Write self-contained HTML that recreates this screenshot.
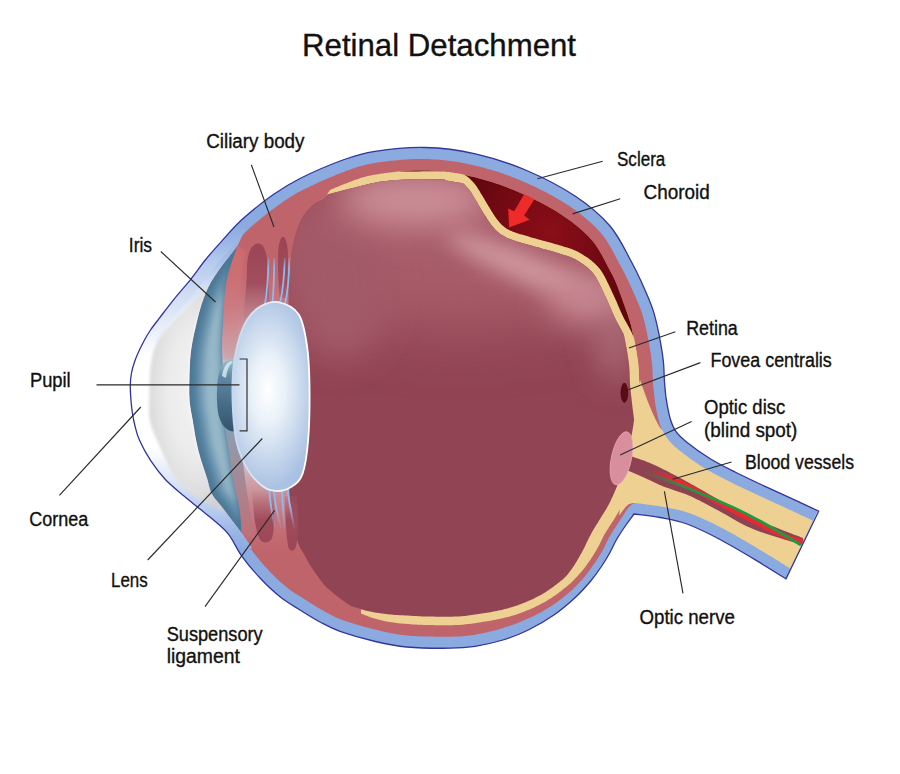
<!DOCTYPE html>
<html><head><meta charset="utf-8"><style>
html,body{margin:0;padding:0;background:#fff;}
svg{display:block;}
text{font-family:"Liberation Sans",sans-serif;fill:#111;stroke:#111;stroke-width:0.35px;}
</style></head><body>
<svg width="900" height="774" viewBox="0 0 900 774">
<defs><radialGradient id="gDet" gradientUnits="userSpaceOnUse" cx="550" cy="232" r="95"><stop offset="0" stop-color="#8a0e18"/><stop offset="0.5" stop-color="#760a14"/><stop offset="1" stop-color="#62060e"/></radialGradient><linearGradient id="gBand" gradientUnits="userSpaceOnUse" x1="0" y1="225" x2="0" y2="552"><stop offset="0" stop-color="#8aaae0"/><stop offset="0.05" stop-color="#9ab6e6"/><stop offset="0.12" stop-color="#b8ccee"/><stop offset="0.22" stop-color="#d2def4"/><stop offset="0.34" stop-color="#eef3fb"/><stop offset="0.4" stop-color="#ffffff"/><stop offset="0.68" stop-color="#ffffff"/><stop offset="0.8" stop-color="#d6e2f5"/><stop offset="0.88" stop-color="#b4c9ee"/><stop offset="0.95" stop-color="#96b3e4"/><stop offset="1" stop-color="#8aaae0"/></linearGradient><linearGradient id="gAq" gradientUnits="userSpaceOnUse" x1="149" y1="0" x2="192" y2="0"><stop offset="0" stop-color="#d2d2d2"/><stop offset="0.25" stop-color="#e2e2e2"/><stop offset="0.8" stop-color="#ededed"/><stop offset="1" stop-color="#f8f8f8"/></linearGradient><linearGradient id="gIris" gradientUnits="userSpaceOnUse" x1="189" y1="0" x2="236" y2="0"><stop offset="0" stop-color="#4c7a98"/><stop offset="0.3" stop-color="#6690ac"/><stop offset="0.7" stop-color="#a6c8d4"/><stop offset="1" stop-color="#88aabc"/></linearGradient><radialGradient id="gLens" gradientUnits="userSpaceOnUse" cx="268" cy="390" r="100" gradientTransform="translate(268 390) scale(0.5 1) translate(-268 -390)"><stop offset="0" stop-color="#ffffff"/><stop offset="0.35" stop-color="#e8f0f8"/><stop offset="1" stop-color="#a9c1e2"/></radialGradient><linearGradient id="gCilU" gradientUnits="userSpaceOnUse" x1="0" y1="250" x2="0" y2="360"><stop offset="0" stop-color="#c8686e" stop-opacity="0"/><stop offset="1" stop-color="#d4bcc4" stop-opacity="1"/></linearGradient><linearGradient id="gCilL" gradientUnits="userSpaceOnUse" x1="0" y1="470" x2="0" y2="560"><stop offset="0" stop-color="#d0b4bc" stop-opacity="1"/><stop offset="1" stop-color="#c8686e" stop-opacity="0"/></linearGradient><linearGradient id="gOpenU" gradientUnits="userSpaceOnUse" x1="0" y1="240" x2="0" y2="348"><stop offset="0" stop-color="#9a4454"/><stop offset="0.4" stop-color="#a24e5e"/><stop offset="0.75" stop-color="#c08c96" stop-opacity="0.8"/><stop offset="1" stop-color="#d0b0b8" stop-opacity="0"/></linearGradient><linearGradient id="gOpenL" gradientUnits="userSpaceOnUse" x1="0" y1="490" x2="0" y2="550"><stop offset="0" stop-color="#a85a68" stop-opacity="0"/><stop offset="0.5" stop-color="#a04c5c"/><stop offset="1" stop-color="#9c4656"/></linearGradient><linearGradient id="gPup" gradientUnits="userSpaceOnUse" x1="0" y1="359" x2="0" y2="432"><stop offset="0" stop-color="#9cc2d0"/><stop offset="0.25" stop-color="#5f88a2"/><stop offset="0.65" stop-color="#456a86"/><stop offset="1" stop-color="#34536c"/></linearGradient><linearGradient id="gStrip" gradientUnits="userSpaceOnUse" x1="0" y1="425" x2="0" y2="535"><stop offset="0" stop-color="#8aa0b4"/><stop offset="1" stop-color="#c07078"/></linearGradient><linearGradient id="gRed" gradientUnits="userSpaceOnUse" x1="648" y1="0" x2="680" y2="0"><stop offset="0" stop-color="#ee2630" stop-opacity="0"/><stop offset="1" stop-color="#ee2630"/></linearGradient><linearGradient id="gGrn" gradientUnits="userSpaceOnUse" x1="640" y1="0" x2="690" y2="0"><stop offset="0" stop-color="#2a9040" stop-opacity="0"/><stop offset="1" stop-color="#1e9a40"/></linearGradient><filter id="fb30" filterUnits="userSpaceOnUse" x="0" y="0" width="900" height="774"><feGaussianBlur stdDeviation="30"/></filter><filter id="fb16" filterUnits="userSpaceOnUse" x="0" y="0" width="900" height="774"><feGaussianBlur stdDeviation="16"/></filter><filter id="fb10" filterUnits="userSpaceOnUse" x="0" y="0" width="900" height="774"><feGaussianBlur stdDeviation="10"/></filter><clipPath id="cVit"><path d="M633.6,415.6 633.3,413.7 633.1,411.8 632.8,409.7 632.5,407.5 632.3,405.4 632.0,403.2 631.8,401.2 631.6,399.2 631.4,397.3 631.1,395.2 630.9,393.1 630.7,390.9 630.4,388.6 630.2,386.3 630.0,383.9 629.9,381.4 629.8,379.0 629.7,376.8 629.6,374.7 629.6,372.8 629.5,371.1 629.4,369.5 629.3,368.0 629.2,366.5 629.1,365.1 628.9,363.6 628.7,362.0 628.4,360.3 628.2,358.5 627.9,356.8 627.7,355.0 627.4,353.2 627.1,351.4 626.8,349.6 626.5,347.9 626.1,346.1 625.8,344.3 625.4,342.5 625.1,340.6 624.7,338.8 624.3,336.9 623.9,335.1 623.8,334.6 623.3,333.6 622.7,332.4 622.0,331.1 621.3,329.8 620.6,328.4 619.8,327.0 619.8,327.0 619.0,325.6 619.0,325.6 618.2,324.1 618.2,324.1 617.4,322.6 617.4,322.6 616.5,321.0 616.5,321.0 615.7,319.4 615.7,319.4 614.9,317.8 614.9,317.7 614.1,316.1 614.1,316.0 613.3,314.3 613.3,314.3 612.5,312.5 612.5,312.5 611.8,310.7 611.7,310.7 611.0,308.9 611.0,308.9 610.2,307.1 609.4,305.2 608.6,303.4 607.8,301.5 607.0,299.7 606.1,297.8 605.2,295.9 604.3,294.0 604.2,294.0 603.3,292.0 603.3,292.0 602.4,289.9 601.4,287.8 600.4,285.8 599.4,283.8 598.4,281.8 597.4,279.9 596.4,278.0 595.3,276.3 594.2,274.7 593.1,273.2 591.9,271.8 590.6,270.5 589.3,269.2 587.9,268.0 586.5,266.8 585.0,265.7 583.5,264.6 582.0,263.5 580.5,262.5 579.0,261.6 577.5,260.6 576.0,259.8 574.6,259.0 573.3,258.3 572.1,257.7 570.8,257.2 569.5,256.7 568.2,256.3 566.9,255.8 565.5,255.4 563.9,254.9 562.3,254.4 562.3,254.4 560.6,253.9 560.6,253.9 558.8,253.3 556.9,252.7 554.8,252.1 552.7,251.5 550.4,250.8 548.1,250.2 545.7,249.6 543.3,248.9 541.0,248.3 538.7,247.6 538.7,247.6 536.4,247.0 536.4,247.0 534.2,246.4 534.2,246.4 532.2,245.8 532.2,245.8 530.3,245.3 528.4,244.8 526.5,244.2 524.7,243.7 524.7,243.7 522.9,243.2 522.9,243.2 521.2,242.7 521.2,242.7 519.5,242.2 519.5,242.2 517.9,241.7 517.8,241.7 516.3,241.2 516.3,241.2 514.8,240.7 514.7,240.7 513.3,240.3 513.3,240.2 512.0,239.8 511.9,239.7 510.7,239.3 510.6,239.3 509.5,238.8 509.5,238.8 508.4,238.4 508.4,238.4 507.4,238.0 507.3,237.9 506.4,237.5 506.3,237.5 505.5,237.1 505.4,237.0 504.6,236.6 504.5,236.6 503.8,236.1 503.7,236.1 502.9,235.6 502.8,235.6 502.1,235.1 502.0,235.1 501.2,234.6 501.2,234.5 500.4,234.0 500.3,233.9 499.6,233.4 499.5,233.3 498.7,232.7 498.6,232.6 497.9,232.0 497.9,232.0 497.2,231.4 497.1,231.3 496.4,230.7 496.4,230.6 495.7,230.0 495.6,229.9 495.0,229.2 494.9,229.2 494.3,228.5 494.3,228.4 493.6,227.7 493.6,227.6 493.0,226.9 492.9,226.8 492.3,226.1 492.2,226.0 491.6,225.2 491.5,225.2 490.9,224.3 490.8,224.2 490.2,223.3 490.1,223.3 489.4,222.3 489.4,222.3 488.7,221.3 488.7,221.3 488.0,220.3 488.0,220.2 487.4,219.2 487.3,219.2 486.7,218.2 486.7,218.1 486.0,217.1 486.0,217.1 485.3,216.0 485.3,216.0 484.6,214.9 484.0,213.9 483.3,212.8 483.3,212.8 482.6,211.7 482.6,211.7 481.9,210.6 481.9,210.6 481.3,209.5 481.3,209.4 480.6,208.3 480.6,208.3 479.9,207.2 479.9,207.2 479.2,206.0 478.6,204.9 477.9,203.7 477.3,202.6 476.6,201.5 476.0,200.5 475.3,199.4 475.3,199.4 474.6,198.3 474.6,198.3 474.0,197.2 474.0,197.2 473.3,196.2 473.3,196.2 472.7,195.1 472.1,194.1 471.5,193.1 470.9,192.1 470.3,191.2 469.7,190.3 469.0,189.5 468.4,188.7 467.7,188.0 467.0,187.2 466.3,186.4 465.6,185.7 464.9,185.0 464.2,184.3 463.5,183.7 463.1,183.4 461.6,183.1 459.9,182.8 458.2,182.5 456.4,182.2 454.7,181.9 452.9,181.6 451.2,181.3 449.5,181.1 447.7,180.8 446.0,180.6 445.0,180.5 445.0,179.5 444.5,179.4 442.3,179.4 439.9,179.3 437.2,179.2 434.0,179.2 430.5,179.2 426.7,179.2 422.8,179.2 418.8,179.3 414.9,179.3 411.2,179.4 407.7,179.4 407.6,179.4 406.1,179.5 406.1,179.5 404.1,179.6 400.6,179.8 397.0,180.1 393.4,180.3 389.9,180.6 386.5,181.0 383.2,181.4 380.0,181.8 376.9,182.3 373.8,182.9 370.7,183.5 367.7,184.2 364.6,184.9 361.7,185.7 358.8,186.4 356.0,187.2 353.3,187.9 350.7,188.6 348.3,189.2 346.0,189.8 343.8,190.3 341.7,190.9 339.8,191.4 337.9,191.9 336.1,192.3 334.4,192.8 332.8,193.2 331.4,193.6 330.1,194.0 328.9,194.3 328.4,194.4 327.2,195.8 325.8,197.2 324.3,198.4 322.8,199.4 321.3,200.2 319.8,200.9 318.4,201.6 316.9,202.3 315.6,203.1 314.2,203.9 313.0,205.0 311.8,206.1 310.7,207.3 309.6,208.4 308.5,209.5 307.4,210.6 306.4,211.8 305.5,212.9 304.5,214.2 303.6,215.5 302.7,216.9 301.8,218.4 301.0,220.0 300.2,221.7 299.4,223.6 298.6,225.5 297.9,227.6 297.1,229.7 296.4,231.9 295.8,234.1 295.1,236.3 294.6,238.5 294.0,240.7 293.5,242.9 293.0,245.0 292.6,247.1 292.2,249.1 291.9,251.1 291.6,253.1 291.3,255.2 291.1,257.2 290.9,259.2 290.7,261.3 290.5,263.4 290.4,265.5 290.2,267.7 290.0,270.0 289.8,271.8 289.6,273.0 289.5,273.6 289.3,274.1 289.2,274.6 289.0,275.3 288.9,276.6 288.8,278.7 288.7,281.8 288.6,286.3 288.6,292.2 288.5,300.0 288.5,310.2 288.4,323.1 288.4,338.0 288.4,354.4 288.4,372.0 288.5,390.0 288.5,408.0 288.6,425.6 288.7,442.0 288.7,456.9 288.9,469.8 289.0,480.0 289.2,487.8 289.3,493.7 289.5,498.0 289.7,501.1 290.0,503.1 290.2,504.4 290.5,505.1 290.8,505.6 291.1,506.0 291.4,506.7 291.7,508.0 292.0,510.0 292.3,512.5 292.7,515.2 293.0,517.8 293.4,520.5 293.8,523.2 294.2,525.9 294.6,528.5 295.0,531.0 295.5,533.5 296.0,535.8 296.5,538.0 297.0,540.0 297.6,541.8 298.2,543.5 298.8,545.0 299.4,546.4 300.1,547.8 300.8,549.0 301.5,550.2 302.2,551.3 302.9,552.5 303.6,553.6 304.3,554.8 305.0,556.0 305.7,557.2 306.3,558.4 306.9,559.6 307.6,560.7 308.2,561.8 308.8,562.9 309.5,564.0 310.1,565.2 310.9,566.3 311.6,567.5 312.4,568.7 313.3,570.0 314.2,571.3 315.2,572.7 316.1,574.1 317.1,575.6 318.2,577.0 319.3,578.5 320.4,580.0 321.6,581.5 322.8,583.0 324.0,584.5 325.3,585.9 326.7,587.3 328.2,588.7 329.7,590.1 331.4,591.5 333.1,593.0 334.8,594.4 336.6,595.8 338.4,597.2 340.2,598.5 341.9,599.8 343.6,601.0 345.2,602.2 346.7,603.3 348.1,604.3 349.5,605.1 350.8,605.8 351.7,606.2 353.1,606.7 354.8,607.2 356.5,607.8 358.3,608.3 360.1,608.9 361.9,609.4 363.7,609.9 365.5,610.4 367.3,610.9 369.1,611.3 371.0,611.7 372.8,612.1 374.6,612.4 376.5,612.7 378.3,613.0 380.1,613.3 382.0,613.5 383.9,613.8 385.8,614.0 387.7,614.2 389.5,614.4 391.3,614.6 393.1,614.7 394.8,614.9 396.4,615.0 398.1,615.1 399.7,615.2 401.3,615.3 403.0,615.3 404.6,615.4 406.3,615.5 407.9,615.6 409.6,615.7 411.3,615.8 413.0,615.9 414.7,616.0 416.5,616.1 418.3,616.2 420.2,616.3 422.0,616.4 423.9,616.4 425.7,616.5 427.6,616.5 429.5,616.6 431.4,616.6 433.3,616.6 435.2,616.7 437.1,616.7 439.1,616.7 441.0,616.7 442.9,616.7 444.8,616.7 446.7,616.7 448.6,616.7 450.4,616.7 452.3,616.7 454.0,616.6 455.8,616.6 457.4,616.5 459.0,616.4 460.5,616.3 462.0,616.2 463.5,616.1 465.0,615.9 466.6,615.7 468.2,615.5 469.9,615.3 471.6,615.0 473.3,614.8 475.0,614.6 476.7,614.3 478.4,614.1 480.1,613.8 481.8,613.6 483.5,613.3 485.2,613.0 486.9,612.8 488.6,612.5 490.2,612.2 491.8,611.9 493.5,611.6 495.1,611.3 496.8,611.0 498.4,610.6 500.1,610.2 501.7,609.9 503.3,609.5 504.9,609.1 506.5,608.7 508.2,608.2 509.8,607.8 511.4,607.3 513.0,606.8 514.6,606.3 516.2,605.8 517.9,605.2 519.5,604.6 521.1,604.0 522.8,603.3 524.4,602.7 526.0,602.0 527.7,601.3 529.3,600.6 530.9,599.9 532.5,599.2 534.1,598.4 535.7,597.6 537.2,596.8 538.8,596.0 540.3,595.2 541.7,594.4 543.2,593.6 544.6,592.7 546.1,591.8 547.6,590.8 549.0,589.8 550.5,588.8 552.0,587.8 553.4,586.7 554.9,585.6 556.4,584.5 557.8,583.3 559.3,582.2 560.7,581.1 562.0,580.0 563.3,578.9 564.5,577.7 565.8,576.6 565.9,576.5 566.3,576.0 567.6,574.5 568.7,573.0 569.9,571.5 571.0,570.0 572.1,568.4 573.1,566.9 574.1,565.4 575.0,563.9 576.0,562.4 576.9,560.9 577.8,559.4 578.6,557.9 579.5,556.5 580.3,555.0 581.2,553.5 582.0,552.0 582.8,550.5 583.6,549.0 584.4,547.4 585.1,545.9 585.9,544.3 586.6,542.8 587.4,541.3 588.1,539.8 588.8,538.3 589.5,536.8 590.3,535.4 591.0,534.0 591.8,532.6 592.5,531.3 593.2,530.0 594.0,528.8 594.8,527.5 595.5,526.3 596.2,525.1 597.0,523.9 597.8,522.7 598.5,521.5 599.2,520.2 600.0,519.0 600.8,517.8 601.5,516.6 602.2,515.4 603.0,514.2 603.8,513.0 604.5,511.8 605.2,510.6 606.0,509.4 606.8,508.1 607.5,506.8 608.2,505.4 609.0,504.0 609.8,502.5 610.5,500.9 611.3,499.3 612.1,497.6 612.9,495.9 613.6,494.2 614.4,492.4 615.1,490.7 615.9,489.0 616.6,487.3 617.3,485.6 618.0,484.0 618.7,482.5 619.3,481.1 619.9,479.7 620.5,478.4 621.1,477.1 621.6,475.8 622.2,474.5 622.7,473.0 623.3,471.5 623.9,469.8 624.4,468.0 625.0,466.0 625.6,463.7 626.2,461.3 626.8,458.6 627.4,455.7 628.1,452.8 628.7,449.8 629.3,446.8 629.9,443.8 630.5,440.9 631.0,438.1 631.5,435.4 632.0,433.0 632.4,430.8 632.8,428.7 633.1,426.7 633.4,424.9 633.6,423.1 633.9,421.3 634.1,419.9 634.0,419.0 633.8,417.3Z"/></clipPath><linearGradient id="gBand2" gradientUnits="userSpaceOnUse" x1="0" y1="225" x2="0" y2="552"><stop offset="0" stop-color="#8aaae0"/><stop offset="0.1" stop-color="#a4bde9"/><stop offset="0.2" stop-color="#d8e4f6"/><stop offset="0.3" stop-color="#ffffff"/><stop offset="0.72" stop-color="#ffffff"/><stop offset="0.78" stop-color="#dce6f6"/><stop offset="0.84" stop-color="#c4d4f0"/><stop offset="0.9" stop-color="#a4bce9"/><stop offset="1" stop-color="#8aaae0"/></linearGradient><filter id="fb1" filterUnits="userSpaceOnUse" x="0" y="0" width="900" height="774"><feGaussianBlur stdDeviation="1.6"/></filter><filter id="fb4" filterUnits="userSpaceOnUse" x="0" y="0" width="900" height="774"><feGaussianBlur stdDeviation="4"/></filter><clipPath id="cAq"><path d="M204.4,290.0 203.6,290.8 202.7,291.7 201.7,292.7 200.6,293.8 199.4,295.0 198.1,296.3 196.8,297.7 195.4,299.0 194.0,300.5 192.6,301.9 191.2,303.3 189.7,304.8 188.1,306.3 186.5,307.9 184.7,309.6 182.9,311.3 181.1,313.1 179.3,314.8 177.5,316.6 175.8,318.3 174.1,320.1 172.5,321.8 171.0,323.4 169.6,325.0 168.2,326.5 166.9,328.0 165.6,329.5 164.3,331.0 163.1,332.5 162.0,334.0 160.9,335.5 159.8,337.1 158.8,338.6 157.9,340.3 157.0,342.0 156.2,343.7 155.5,345.5 154.8,347.2 154.2,349.0 153.7,350.8 153.2,352.6 152.7,354.5 152.3,356.5 151.9,358.6 151.6,360.7 151.2,362.9 150.9,365.3 150.6,367.8 150.3,370.6 150.1,373.5 149.9,376.5 149.8,379.6 149.7,382.8 149.6,385.9 149.5,389.0 149.4,392.0 149.4,394.9 149.3,397.6 149.3,400.0 149.3,402.2 149.2,404.3 149.2,406.3 149.1,408.1 149.1,409.8 149.1,411.5 149.2,413.1 149.2,414.7 149.3,416.2 149.5,417.8 149.7,419.4 150.0,421.0 150.3,422.6 150.7,424.1 151.1,425.6 151.6,427.0 152.1,428.5 152.6,429.9 153.2,431.3 153.8,432.9 154.5,434.5 155.2,436.2 156.0,438.0 156.9,440.0 157.8,442.2 158.8,444.6 159.8,447.1 160.9,449.8 162.0,452.5 163.2,455.3 164.5,458.1 165.8,460.8 167.1,463.6 168.4,466.2 169.9,468.7 171.3,471.0 172.8,473.2 174.4,475.4 176.0,477.5 177.7,479.6 179.5,481.6 181.3,483.5 183.1,485.4 184.9,487.2 186.7,489.0 188.5,490.6 190.3,492.2 192.0,493.7 193.8,495.1 195.6,496.4 197.4,497.7 199.2,498.8 201.1,499.9 202.9,500.9 204.7,501.8 206.5,502.8 208.2,503.6 209.8,504.4 211.3,505.2 212.7,506.0 214.0,506.7 215.3,507.4 216.5,508.1 217.6,508.7 218.6,509.3 219.6,509.8 220.6,510.2 221.4,510.7 222.2,511.1 222.9,511.4 223.5,511.7 224.0,512.0 225.9,512.0 225.8,511.8 224.3,509.9 223.0,508.2 221.8,506.7 220.7,505.2 219.6,503.9 218.5,502.7 217.6,501.6 216.7,500.5 215.8,499.5 214.9,498.5 214.2,497.4 213.4,496.3 212.7,495.2 212.0,494.0 211.4,492.7 210.8,491.5 210.4,490.3 210.0,489.0 209.6,487.8 209.3,486.5 208.9,485.2 208.6,483.8 208.3,482.5 207.9,481.0 207.5,479.5 207.0,478.0 206.5,476.4 205.9,474.6 205.3,472.8 204.7,470.9 204.0,469.0 203.4,467.0 202.7,465.0 202.1,463.1 201.5,461.2 200.9,459.4 200.4,457.6 199.9,456.0 199.5,454.5 199.1,453.0 198.7,451.7 198.4,450.4 198.1,449.1 197.8,447.9 197.5,446.6 197.2,445.4 196.9,444.1 196.7,442.8 196.4,441.5 196.1,440.0 195.8,438.5 195.5,436.9 195.2,435.3 194.9,433.6 194.6,432.0 194.4,430.2 194.1,428.5 193.8,426.8 193.5,425.1 193.2,423.4 193.0,421.7 192.7,420.0 192.4,418.4 192.1,416.7 191.8,415.2 191.5,413.6 191.2,412.0 190.9,410.4 190.7,408.8 190.4,407.2 190.2,405.5 189.9,403.7 189.7,401.9 189.6,400.0 189.5,398.0 189.4,395.9 189.3,393.7 189.3,391.4 189.3,389.1 189.3,386.7 189.3,384.3 189.4,382.0 189.4,379.6 189.5,377.4 189.5,375.1 189.6,373.0 189.7,370.9 189.7,368.9 189.8,366.9 189.9,365.0 190.0,363.1 190.1,361.2 190.2,359.3 190.4,357.4 190.6,355.5 190.7,353.6 191.0,351.7 191.2,349.8 191.5,347.9 191.8,345.9 192.1,344.0 192.5,342.0 192.8,340.1 193.2,338.2 193.6,336.2 194.0,334.3 194.5,332.3 194.9,330.4 195.4,328.4 195.8,326.5 196.3,324.5 196.7,322.6 197.2,320.6 197.7,318.6 198.2,316.6 198.7,314.6 199.2,312.6 199.8,310.7 200.3,308.8 200.9,306.9 201.4,305.1 202.0,303.3 202.6,301.6 203.2,299.9 203.7,298.3 204.3,296.8 204.9,295.2 205.5,293.7 206.2,292.2 206.8,290.7 207.5,289.3 205.0,289.3Z"/></clipPath><radialGradient id="gAqR" gradientUnits="userSpaceOnUse" cx="196" cy="392" r="118" gradientTransform="translate(196 392) scale(0.44 1) translate(-196 -392)"><stop offset="0" stop-color="#f4f4f4"/><stop offset="0.55" stop-color="#ebebeb"/><stop offset="0.85" stop-color="#dedede"/><stop offset="1" stop-color="#d2d2d2"/></radialGradient><linearGradient id="gCoral" gradientUnits="userSpaceOnUse" x1="0" y1="250" x2="0" y2="360"><stop offset="0" stop-color="#d67070" stop-opacity="0.6"/><stop offset="0.55" stop-color="#d07a7e" stop-opacity="0.45"/><stop offset="1" stop-color="#c8a4ac" stop-opacity="0.9"/></linearGradient><linearGradient id="gLigU" gradientUnits="userSpaceOnUse" x1="0" y1="254" x2="0" y2="268"><stop offset="0" stop-color="#8cbcf2" stop-opacity="0"/><stop offset="1" stop-color="#8cbcf2"/></linearGradient><linearGradient id="gLigL" gradientUnits="userSpaceOnUse" x1="0" y1="505" x2="0" y2="530"><stop offset="0" stop-color="#8cbcf2"/><stop offset="1" stop-color="#8cbcf2" stop-opacity="0"/></linearGradient><clipPath id="cIris"><path d="M236.6,247.0 235.7,248.2 234.6,249.6 233.3,251.2 231.9,253.0 230.5,254.8 229.0,256.7 227.5,258.7 226.0,260.6 224.6,262.5 223.2,264.3 222.0,266.0 220.9,267.6 219.7,269.2 218.6,270.8 217.5,272.3 216.5,273.9 215.4,275.4 214.4,277.0 213.4,278.5 212.5,280.1 211.5,281.6 210.7,283.1 209.8,284.7 209.0,286.2 208.2,287.8 207.5,289.2 206.8,290.7 206.2,292.2 205.5,293.7 204.9,295.2 204.3,296.8 203.7,298.3 203.2,299.9 202.6,301.6 202.0,303.3 201.4,305.1 200.9,306.9 200.3,308.8 199.8,310.7 199.2,312.6 198.7,314.6 198.2,316.6 197.7,318.6 197.2,320.6 196.7,322.6 196.3,324.5 195.8,326.5 195.4,328.4 194.9,330.4 194.5,332.3 194.0,334.3 193.6,336.2 193.2,338.2 192.8,340.1 192.5,342.0 192.1,344.0 191.8,345.9 191.5,347.9 191.2,349.8 191.0,351.7 190.7,353.6 190.6,355.5 190.4,357.4 190.2,359.3 190.1,361.2 190.0,363.1 189.9,365.0 189.8,366.9 189.7,368.9 189.7,370.9 189.6,373.0 189.5,375.1 189.5,377.4 189.4,379.6 189.4,382.0 189.3,384.3 189.3,386.7 189.3,389.1 189.3,391.4 189.3,393.7 189.4,395.9 189.5,398.0 189.6,400.0 189.7,401.9 189.9,403.7 190.2,405.5 190.4,407.2 190.7,408.8 190.9,410.4 191.2,412.0 191.5,413.6 191.8,415.2 192.1,416.7 192.4,418.4 192.7,420.0 193.0,421.7 193.2,423.4 193.5,425.1 193.8,426.8 194.1,428.5 194.4,430.2 194.6,432.0 194.9,433.6 195.2,435.3 195.5,436.9 195.8,438.5 196.1,440.0 196.4,441.5 196.7,442.8 196.9,444.1 197.2,445.4 197.5,446.6 197.8,447.9 198.1,449.1 198.4,450.4 198.7,451.7 199.1,453.0 199.5,454.5 199.9,456.0 200.4,457.6 200.9,459.4 201.5,461.2 202.1,463.1 202.7,465.0 203.4,467.0 204.0,469.0 204.7,470.9 205.3,472.8 205.9,474.6 206.5,476.4 207.0,478.0 207.5,479.5 207.9,481.0 208.3,482.5 208.6,483.8 208.9,485.2 209.3,486.5 209.6,487.8 210.0,489.0 210.4,490.3 210.8,491.5 211.4,492.7 212.0,494.0 212.7,495.2 213.4,496.3 214.2,497.4 214.9,498.5 215.8,499.5 216.7,500.5 217.6,501.6 218.5,502.7 219.6,503.9 220.7,505.2 221.8,506.7 223.0,508.2 224.3,510.0 225.9,512.0 227.6,514.2 229.3,516.6 231.2,519.0 233.0,521.5 234.8,523.9 236.5,526.2 238.1,528.3 239.5,530.2 240.7,531.8 241.6,533.0 241.5,531.8 241.4,530.3 241.3,528.6 241.2,526.6 241.1,524.5 241.0,522.3 240.8,519.9 240.7,517.5 240.4,515.1 240.2,512.7 239.9,510.4 239.6,508.2 239.2,506.1 238.8,504.0 238.3,502.0 237.8,499.9 237.3,497.9 236.8,495.8 236.2,493.6 235.6,491.4 235.0,489.1 234.5,486.6 233.9,484.1 233.4,481.3 232.9,478.3 232.3,475.0 231.8,471.5 231.2,467.8 230.7,464.0 230.1,460.2 229.6,456.4 229.0,452.7 228.5,449.2 228.1,445.8 227.6,442.7 227.2,440.0 226.8,437.6 226.5,435.6 226.1,433.9 225.8,432.3 225.5,430.9 225.3,429.6 225.0,428.3 224.8,427.0 224.6,425.6 224.4,424.0 224.2,422.1 224.0,420.0 223.8,417.6 223.7,414.9 223.6,412.1 223.5,409.1 223.4,406.0 223.3,402.8 223.3,399.6 223.2,396.5 223.2,393.4 223.1,390.4 223.1,387.6 223.0,385.0 222.9,382.5 222.9,380.2 222.8,377.9 222.8,375.7 222.7,373.5 222.7,371.4 222.7,369.4 222.6,367.4 222.6,365.5 222.6,363.6 222.5,361.8 222.5,360.0 222.5,358.3 222.4,356.7 222.4,355.3 222.3,354.0 222.3,352.7 222.2,351.4 222.2,350.1 222.2,348.7 222.1,347.2 222.1,345.7 222.2,343.9 222.2,342.0 222.3,339.9 222.3,337.6 222.4,335.2 222.5,332.6 222.6,330.0 222.7,327.3 222.9,324.6 223.0,321.8 223.2,319.1 223.3,316.3 223.5,313.6 223.7,311.0 223.9,308.4 224.0,305.9 224.2,303.3 224.3,300.8 224.5,298.2 224.7,295.7 224.9,293.1 225.2,290.6 225.5,288.0 225.8,285.3 226.3,282.7 226.8,280.0 227.5,277.2 228.3,274.1 229.2,270.9 230.2,267.6 231.2,264.3 232.3,261.1 233.4,257.9 234.4,254.9 235.3,252.2 236.2,249.7 236.9,247.7 237.4,246.0Z"/></clipPath><filter id="fb3" filterUnits="userSpaceOnUse" x="0" y="0" width="900" height="774"><feGaussianBlur stdDeviation="3"/></filter><linearGradient id="gLensS" gradientUnits="userSpaceOnUse" x1="232" y1="0" x2="300" y2="0"><stop offset="0" stop-color="#c8d8ee"/><stop offset="1" stop-color="#ffffff"/></linearGradient></defs>
<path d="M634.0,514.0 634.9,514.1 636.0,514.2 637.3,514.4 638.6,514.6 640.2,514.7 641.8,514.9 643.5,515.1 645.3,515.3 647.2,515.6 649.0,515.8 650.9,516.1 652.8,516.3 654.7,516.6 656.5,516.9 658.3,517.2 660.0,517.5 661.6,517.8 663.3,518.1 664.9,518.4 666.5,518.7 668.2,519.0 669.8,519.3 671.4,519.7 673.1,520.0 674.7,520.4 676.4,520.8 678.1,521.2 679.8,521.7 681.6,522.2 683.3,522.7 685.1,523.3 687.0,524.0 688.9,524.7 690.8,525.5 692.8,526.3 694.8,527.1 696.8,528.0 698.8,528.9 700.8,529.9 702.9,530.9 705.0,531.9 707.1,532.9 709.2,534.0 711.4,535.0 713.5,536.1 715.7,537.2 717.8,538.4 720.0,539.5 722.2,540.7 724.4,541.9 726.7,543.1 729.0,544.4 731.3,545.7 733.6,547.0 736.0,548.4 738.3,549.8 740.6,551.1 743.0,552.5 745.3,553.9 747.5,555.2 749.8,556.6 752.0,557.9 754.1,559.1 756.2,560.4 758.3,561.7 760.4,563.0 762.6,564.3 764.8,565.6 767.0,567.0 769.2,568.3 771.3,569.7 773.4,571.0 775.4,572.2 777.3,573.4 779.1,574.6 780.8,575.6 782.3,576.6 783.7,577.5 785.0,578.3 786.0,578.9 817.7,510.8 816.6,510.3 815.4,509.7 814.0,509.1 812.6,508.4 811.0,507.6 809.3,506.8 807.5,506.0 805.7,505.1 803.8,504.2 801.9,503.3 800.0,502.4 798.1,501.5 796.2,500.6 794.3,499.8 792.4,498.9 790.5,498.0 788.6,497.1 786.6,496.2 784.6,495.3 782.5,494.3 780.4,493.4 778.3,492.4 776.1,491.4 774.0,490.5 771.9,489.5 769.8,488.5 767.7,487.6 765.7,486.7 763.7,485.7 761.8,484.9 760.0,484.0 758.2,483.2 756.5,482.4 754.9,481.6 753.2,480.8 751.6,480.1 750.1,479.4 748.6,478.6 747.0,477.9 745.6,477.2 744.1,476.5 742.6,475.8 741.1,475.0 739.6,474.3 738.1,473.6 736.6,472.8 735.0,472.0 733.4,471.2 731.8,470.4 730.3,469.6 728.7,468.8 727.1,468.0 725.5,467.2 723.9,466.4 722.3,465.5 720.7,464.7 719.1,463.8 717.5,463.0 716.0,462.1 714.4,461.2 712.9,460.3 711.3,459.4 709.8,458.5 708.3,457.5 706.7,456.5 705.1,455.5 703.5,454.5 702.0,453.4 700.4,452.3 698.8,451.2 697.2,450.1 695.7,449.0 694.2,447.9 692.8,446.8 691.4,445.8 690.1,444.8 688.8,443.8 687.6,442.9 686.5,442.0 685.5,441.2 684.5,440.4 683.6,439.6 682.8,438.9 682.0,438.3 681.3,437.6 680.6,437.0 680.0,436.3 679.4,435.7 678.8,435.1 678.3,434.5 677.7,433.9 677.2,433.2 676.7,432.6 676.2,431.9 675.7,431.2 675.2,430.5 674.7,429.8 674.3,429.1 673.9,428.4 673.5,427.7 673.2,426.9 672.8,426.2 672.5,425.5 672.2,424.7 671.9,424.0 671.6,423.2 671.3,422.4 671.1,421.5 670.8,420.7 670.5,419.7 670.2,418.8 669.9,417.8 669.6,416.8 669.4,415.7 669.1,414.6 668.8,413.4 668.6,412.3 668.3,411.1 668.1,409.9 667.8,408.6 667.6,407.4 667.4,406.2 667.2,405.0 667.0,403.8 666.8,402.5 666.6,401.4 666.4,400.2 666.2,399.1 666.1,397.9 665.9,396.8 665.8,395.7 665.6,394.6 665.5,393.5 665.4,392.4 665.3,391.3 665.2,390.1 665.1,389.0 665.0,387.9 664.9,386.8 664.8,385.6 664.7,384.4 664.6,383.2 664.5,382.0 664.4,380.8 664.3,379.5 664.3,378.3 664.2,377.0 664.2,375.8 664.1,374.5 664.1,373.2 664.0,371.9 664.0,370.6 663.9,369.3 663.9,367.9 663.8,366.5 663.7,365.1 663.6,363.7 663.5,362.3 663.3,360.8 663.1,359.3 662.9,357.7 662.7,356.1 662.5,354.5 662.2,352.9 662.0,351.2 661.7,349.5 661.5,347.8 661.2,346.1 660.9,344.4 660.6,342.7 660.3,341.0 660.0,339.3 659.6,337.7 659.3,336.0 659.0,334.4 658.7,332.8 658.4,331.2 658.0,329.7 657.7,328.1 657.4,326.6 657.1,325.0 656.7,323.5 656.4,322.0 656.0,320.5 655.6,318.9 655.2,317.4 654.8,315.9 654.4,314.3 653.9,312.8 653.4,311.2 652.9,309.6 652.4,308.0 651.8,306.4 651.2,304.7 650.5,303.0 649.9,301.4 649.2,299.7 648.5,298.0 647.8,296.3 647.0,294.6 646.3,292.9 645.6,291.3 644.8,289.6 644.1,288.0 643.4,286.4 642.7,284.8 642.0,283.3 641.3,281.8 640.7,280.4 640.1,279.1 639.5,277.7 638.9,276.5 638.3,275.2 637.7,274.0 637.1,272.7 636.5,271.4 635.9,270.1 635.2,268.8 634.5,267.4 633.7,265.9 632.9,264.4 632.0,262.7 631.0,261.0 630.0,259.2 628.9,257.2 627.9,255.2 626.8,253.0 625.6,250.8 624.5,248.6 623.3,246.3 622.0,244.0 620.7,241.7 619.3,239.3 617.9,237.0 616.5,234.7 614.9,232.4 613.4,230.2 611.7,228.1 610.0,226.0 608.2,224.0 606.4,222.0 604.5,220.0 602.6,218.1 600.6,216.1 598.5,214.2 596.4,212.3 594.3,210.4 592.1,208.6 589.8,206.7 587.5,204.9 585.1,203.1 582.7,201.3 580.2,199.5 577.6,197.8 575.0,196.0 572.3,194.2 569.5,192.5 566.6,190.7 563.7,189.0 560.6,187.3 557.5,185.5 554.4,183.8 551.2,182.1 548.0,180.5 544.7,178.9 541.5,177.3 538.3,175.7 535.0,174.2 531.8,172.8 528.6,171.3 525.5,170.0 522.4,168.7 519.3,167.4 516.1,166.2 513.0,165.0 509.9,163.9 506.8,162.8 503.6,161.7 500.5,160.7 497.4,159.7 494.2,158.7 491.1,157.8 487.9,156.9 484.8,156.1 481.7,155.3 478.5,154.5 475.4,153.8 472.3,153.1 469.1,152.5 466.0,151.9 462.9,151.3 459.7,150.8 456.6,150.3 453.4,149.8 450.3,149.4 447.2,149.0 444.0,148.7 440.9,148.4 437.8,148.1 434.6,147.9 431.5,147.7 428.3,147.6 425.2,147.5 422.0,147.5 418.8,147.5 415.5,147.5 412.2,147.6 408.9,147.8 405.6,148.0 402.3,148.2 399.0,148.5 395.7,148.8 392.5,149.1 389.4,149.4 386.3,149.8 383.3,150.1 380.4,150.5 377.6,150.9 375.0,151.3 372.5,151.7 370.2,152.1 368.0,152.5 365.9,152.9 364.0,153.3 362.1,153.8 360.2,154.2 358.4,154.7 356.7,155.3 354.9,155.8 353.0,156.4 351.2,157.0 349.2,157.7 347.2,158.4 345.1,159.2 342.8,160.0 340.4,160.9 337.8,161.9 335.2,162.9 332.5,164.0 329.7,165.1 326.8,166.3 324.0,167.5 321.1,168.8 318.2,170.0 315.4,171.3 312.6,172.6 309.8,173.8 307.2,175.0 304.7,176.2 302.3,177.4 300.0,178.5 297.9,179.6 295.9,180.6 294.0,181.6 292.2,182.5 290.5,183.5 288.9,184.4 287.3,185.3 285.8,186.3 284.2,187.2 282.7,188.2 281.2,189.2 279.7,190.2 278.1,191.2 276.5,192.4 274.8,193.6 273.0,194.8 271.2,196.1 269.3,197.5 267.3,198.9 265.3,200.4 263.3,201.9 261.3,203.5 259.3,205.1 257.3,206.7 255.2,208.3 253.2,209.9 251.2,211.6 249.3,213.2 247.4,214.8 245.5,216.4 243.7,218.0 242.0,219.6 240.3,221.2 238.7,222.8 237.0,224.4 235.4,226.0 233.8,227.7 232.3,229.3 230.8,230.9 229.3,232.6 227.9,234.2 226.4,235.8 225.1,237.3 223.7,238.8 222.4,240.3 221.2,241.7 220.0,243.1 218.8,244.4 217.7,245.6 216.7,246.8 215.7,247.9 214.8,248.9 213.9,249.9 213.0,250.8 212.2,251.7 211.5,252.6 210.7,253.5 210.0,254.3 209.2,255.2 208.5,256.1 207.7,257.0 206.9,258.0 206.1,259.0 205.3,260.0 204.4,261.1 203.6,262.2 202.7,263.3 201.9,264.4 201.1,265.5 200.2,266.7 199.4,267.8 198.5,269.0 197.7,270.2 196.8,271.4 195.9,272.6 195.0,273.8 194.1,275.0 193.2,276.2 192.3,277.4 191.3,278.6 190.3,279.8 189.3,281.0 188.3,282.3 187.2,283.5 186.2,284.8 185.1,286.1 184.0,287.3 182.9,288.6 181.8,289.9 180.7,291.2 179.6,292.4 178.5,293.7 177.4,295.0 176.4,296.3 175.3,297.5 174.3,298.8 173.3,300.1 172.2,301.4 171.2,302.7 170.2,304.0 169.1,305.4 168.1,306.7 167.0,308.1 166.0,309.4 165.0,310.7 164.0,312.0 163.1,313.3 162.1,314.5 161.2,315.7 160.4,316.8 159.6,317.9 158.8,318.9 158.1,319.8 157.4,320.7 156.8,321.6 156.2,322.3 155.6,323.1 155.1,323.8 154.5,324.4 154.1,325.1 153.6,325.7 153.1,326.3 152.7,326.9 152.2,327.5 151.8,328.1 151.4,328.7 150.9,329.4 150.5,330.0 150.1,330.7 149.6,331.3 149.2,331.9 148.8,332.5 148.5,333.1 148.1,333.7 147.7,334.3 147.4,334.9 147.0,335.5 146.6,336.2 146.3,336.8 145.9,337.4 145.6,338.0 145.2,338.7 144.9,339.3 144.5,340.0 144.1,340.7 143.7,341.4 143.3,342.2 143.0,342.9 142.6,343.7 142.2,344.4 141.8,345.2 141.4,346.0 141.0,346.8 140.6,347.6 140.2,348.3 139.9,349.1 139.5,349.8 139.2,350.6 138.8,351.3 138.5,352.0 138.2,352.7 137.9,353.3 137.6,354.0 137.3,354.6 137.1,355.2 136.8,355.9 136.6,356.5 136.3,357.1 136.1,357.7 135.8,358.3 135.6,358.9 135.4,359.5 135.2,360.1 134.9,360.7 134.7,361.4 134.5,362.0 134.3,362.7 134.1,363.3 133.8,364.0 133.6,364.7 133.4,365.3 133.2,366.0 133.0,366.7 132.8,367.4 132.6,368.1 132.4,368.8 132.3,369.5 132.1,370.2 131.9,370.9 131.8,371.6 131.6,372.3 131.5,373.0 131.4,373.7 131.3,374.4 131.1,375.2 131.0,375.9 130.9,376.6 130.8,377.4 130.8,378.1 130.7,378.9 130.6,379.6 130.5,380.4 130.5,381.1 130.4,381.9 130.4,382.7 130.4,383.4 130.3,384.2 130.3,385.0 130.3,385.8 130.3,386.6 130.3,387.4 130.3,388.1 130.3,388.9 130.3,389.7 130.3,390.5 130.4,391.4 130.4,392.2 130.5,393.0 130.5,393.8 130.6,394.6 130.6,395.5 130.7,396.3 130.7,397.1 130.8,398.0 130.9,398.9 130.9,399.7 131.0,400.6 131.1,401.5 131.2,402.4 131.2,403.3 131.3,404.2 131.4,405.2 131.5,406.1 131.6,407.0 131.7,407.9 131.8,408.8 131.9,409.7 132.0,410.6 132.2,411.5 132.3,412.4 132.4,413.3 132.6,414.1 132.7,415.0 132.9,415.8 133.0,416.7 133.1,417.5 133.3,418.4 133.5,419.2 133.6,420.1 133.8,420.9 134.0,421.7 134.2,422.6 134.4,423.4 134.6,424.3 134.8,425.1 135.0,426.0 135.2,426.9 135.4,427.7 135.6,428.5 135.8,429.3 136.0,430.1 136.2,430.9 136.4,431.7 136.7,432.6 136.9,433.4 137.2,434.2 137.5,435.1 137.8,436.0 138.1,437.0 138.5,437.9 138.9,438.9 139.4,440.0 139.9,441.1 140.5,442.3 141.0,443.5 141.7,444.8 142.3,446.0 143.0,447.4 143.7,448.7 144.4,450.1 145.2,451.4 145.9,452.8 146.7,454.2 147.5,455.5 148.3,456.9 149.1,458.2 149.9,459.5 150.7,460.7 151.5,461.9 152.3,463.1 153.1,464.3 154.0,465.5 154.8,466.7 155.7,467.9 156.6,469.1 157.4,470.3 158.3,471.4 159.3,472.6 160.2,473.7 161.1,474.8 162.1,476.0 163.1,477.1 164.1,478.2 165.1,479.3 166.2,480.4 167.2,481.5 168.4,482.6 169.5,483.6 170.7,484.7 171.9,485.8 173.1,486.8 174.3,487.9 175.5,488.9 176.7,489.9 177.9,490.9 179.1,491.9 180.3,492.9 181.4,493.9 182.6,494.9 183.7,495.8 184.8,496.7 185.9,497.6 186.9,498.5 188.0,499.4 189.0,500.2 190.1,501.1 191.1,501.9 192.1,502.7 193.2,503.6 194.2,504.4 195.2,505.2 196.2,506.0 197.2,506.8 198.2,507.6 199.3,508.5 200.3,509.3 201.3,510.1 202.4,511.0 203.5,511.8 204.5,512.7 205.6,513.5 206.7,514.4 207.7,515.2 208.8,516.1 209.9,516.9 210.9,517.8 211.9,518.6 213.0,519.4 214.0,520.3 214.9,521.1 215.9,521.9 216.8,522.7 217.7,523.5 218.5,524.2 219.4,525.0 220.2,525.7 221.0,526.4 221.8,527.1 222.5,527.7 223.3,528.4 224.0,529.2 224.7,529.9 225.5,530.6 226.2,531.4 226.9,532.3 227.7,533.2 228.4,534.1 229.2,535.1 230.0,536.2 230.7,537.3 231.4,538.4 232.2,539.7 232.9,540.9 233.6,542.2 234.3,543.5 235.0,544.8 235.8,546.2 236.5,547.6 237.3,548.9 238.1,550.3 238.9,551.7 239.8,553.1 240.7,554.4 241.6,555.8 242.6,557.2 243.6,558.5 244.7,559.9 245.7,561.3 246.9,562.7 248.0,564.2 249.1,565.6 250.3,567.0 251.5,568.4 252.7,569.9 253.9,571.3 255.1,572.7 256.4,574.0 257.6,575.4 258.8,576.7 260.0,578.0 261.2,579.3 262.4,580.5 263.7,581.8 264.9,583.0 266.1,584.3 267.4,585.5 268.6,586.7 269.9,587.9 271.2,589.1 272.4,590.2 273.7,591.4 275.0,592.5 276.2,593.6 277.5,594.6 278.7,595.7 280.0,596.7 281.2,597.7 282.5,598.6 283.8,599.5 285.0,600.4 286.2,601.3 287.5,602.1 288.8,603.0 290.0,603.8 291.2,604.6 292.5,605.3 293.8,606.1 295.0,606.9 296.2,607.7 297.5,608.4 298.8,609.2 300.0,610.0 301.2,610.8 302.5,611.6 303.8,612.4 305.0,613.2 306.2,613.9 307.5,614.7 308.8,615.5 310.0,616.2 311.2,617.0 312.5,617.8 313.8,618.5 315.0,619.2 316.2,619.9 317.5,620.6 318.8,621.3 320.0,622.0 321.2,622.7 322.4,623.3 323.5,623.9 324.6,624.5 325.7,625.1 326.8,625.6 327.9,626.2 329.0,626.8 330.2,627.3 331.4,627.9 332.6,628.4 333.9,629.0 335.3,629.5 336.8,630.1 338.3,630.7 340.0,631.3 341.8,631.9 343.7,632.6 345.7,633.2 347.9,633.9 350.1,634.6 352.3,635.3 354.6,636.0 357.0,636.6 359.4,637.3 361.7,638.0 364.1,638.6 366.5,639.3 368.8,639.9 371.1,640.4 373.3,641.0 375.4,641.5 377.4,642.0 379.4,642.4 381.4,642.9 383.2,643.3 385.1,643.7 386.9,644.1 388.7,644.5 390.6,644.8 392.4,645.1 394.3,645.5 396.2,645.8 398.1,646.0 400.1,646.3 402.2,646.6 404.4,646.8 406.7,647.0 409.1,647.2 411.7,647.4 414.3,647.5 417.1,647.7 420.0,647.8 422.9,647.9 425.8,648.0 428.7,648.1 431.7,648.1 434.6,648.2 437.4,648.2 440.2,648.2 442.8,648.2 445.4,648.2 447.8,648.2 450.0,648.2 452.1,648.2 454.0,648.1 455.8,648.1 457.5,648.0 459.1,648.0 460.6,647.9 462.0,647.8 463.5,647.7 464.8,647.6 466.2,647.5 467.6,647.3 469.0,647.2 470.4,647.0 471.9,646.8 473.4,646.5 475.0,646.3 476.7,646.0 478.4,645.7 480.1,645.4 481.8,645.1 483.6,644.8 485.4,644.4 487.1,644.0 488.9,643.7 490.7,643.2 492.5,642.8 494.3,642.4 496.0,641.9 497.8,641.5 499.5,641.0 501.2,640.5 502.9,640.0 504.6,639.5 506.2,639.0 507.8,638.4 509.4,637.9 511.0,637.3 512.6,636.7 514.2,636.2 515.7,635.5 517.3,634.9 518.9,634.3 520.4,633.6 522.0,632.9 523.6,632.2 525.1,631.5 526.7,630.8 528.3,630.0 529.9,629.2 531.5,628.4 533.1,627.5 534.8,626.7 536.4,625.8 538.0,624.9 539.7,623.9 541.3,623.0 542.9,622.0 544.6,621.1 546.2,620.1 547.8,619.1 549.3,618.1 550.9,617.1 552.4,616.0 553.9,615.0 555.4,614.0 556.9,612.9 558.3,611.8 559.8,610.7 561.3,609.5 562.7,608.4 564.1,607.2 565.5,606.1 566.9,604.9 568.3,603.7 569.6,602.6 570.9,601.4 572.2,600.3 573.4,599.2 574.6,598.1 575.8,597.0 576.9,595.9 578.0,594.9 579.1,593.8 580.1,592.8 581.1,591.8 582.1,590.8 583.0,589.8 584.0,588.8 584.9,587.8 585.7,586.8 586.6,585.8 587.5,584.8 588.3,583.8 589.1,582.9 589.9,581.9 590.7,581.0 591.5,580.1 592.2,579.2 593.0,578.3 593.7,577.4 594.3,576.5 595.0,575.6 595.7,574.7 596.3,573.9 596.9,573.0 597.5,572.2 598.1,571.3 598.7,570.5 599.3,569.6 599.9,568.7 600.5,567.9 601.1,567.0 601.7,566.1 602.3,565.2 602.9,564.4 603.4,563.5 604.0,562.6 604.5,561.7 605.1,560.8 605.6,559.9 606.2,559.1 606.7,558.2 607.2,557.3 607.7,556.4 608.2,555.6 608.7,554.7 609.2,553.8 609.7,553.0 610.2,552.2 610.6,551.3 611.0,550.5 611.4,549.7 611.8,548.9 612.2,548.1 612.6,547.4 612.9,546.6 613.3,545.8 613.7,545.0 614.1,544.2 614.5,543.4 614.9,542.5 615.3,541.7 615.8,540.9 616.3,540.0 616.8,539.1 617.4,538.2 618.0,537.3 618.5,536.3 619.2,535.3 619.8,534.3 620.4,533.4 621.1,532.4 621.7,531.4 622.4,530.4 623.0,529.5 623.6,528.5 624.2,527.6 624.8,526.7 625.4,525.8 626.0,525.0 626.6,524.2 627.1,523.4 627.7,522.5 628.3,521.7 628.9,520.9 629.5,520.1 630.0,519.3 630.6,518.6 631.1,517.8 631.7,517.1 632.1,516.5 632.6,515.9 633.0,515.3 633.4,514.8 633.7,514.4Z" fill="#8aaae0"/>
<path d="M634.4,502.5 635.5,502.6 636.3,502.7 637.4,502.8 638.6,503.0 640.0,503.1 641.5,503.3 643.1,503.5 643.2,503.5 644.9,503.7 644.9,503.7 646.7,503.9 646.7,503.9 648.6,504.2 648.6,504.2 650.5,504.4 650.6,504.4 652.5,504.7 652.5,504.7 654.4,504.9 654.5,505.0 656.4,505.2 656.5,505.2 658.3,505.5 658.4,505.6 660.2,505.9 660.3,505.9 662.0,506.2 662.1,506.2 663.7,506.5 665.4,506.8 667.0,507.1 667.0,507.1 668.6,507.4 668.7,507.4 670.3,507.7 670.3,507.7 672.0,508.0 672.1,508.0 673.7,508.4 673.8,508.4 675.4,508.8 675.6,508.8 677.2,509.2 677.4,509.2 679.1,509.6 679.2,509.6 680.9,510.1 681.1,510.1 682.8,510.6 683.0,510.6 684.8,511.1 685.0,511.2 686.8,511.8 687.0,511.8 688.8,512.4 689.0,512.5 690.9,513.2 691.0,513.2 692.9,513.9 693.1,514.0 695.0,514.8 695.2,514.8 697.1,515.6 697.3,515.7 699.3,516.5 699.4,516.6 701.4,517.5 701.5,517.5 703.5,518.4 703.6,518.5 705.7,519.4 705.8,519.5 707.8,520.5 707.9,520.5 710.0,521.5 710.1,521.5 712.2,522.6 712.3,522.6 714.4,523.7 714.4,523.7 716.6,524.8 716.6,524.8 718.8,525.9 718.8,525.9 721.0,527.0 721.0,527.0 723.2,528.2 723.2,528.2 725.3,529.3 725.4,529.3 727.6,530.5 727.7,530.6 729.9,531.8 730.0,531.8 732.2,533.0 732.3,533.1 734.6,534.4 734.6,534.4 737.0,535.7 737.0,535.7 739.3,537.1 739.4,537.1 741.7,538.4 741.8,538.5 744.1,539.8 744.1,539.8 746.5,541.2 746.5,541.2 748.8,542.6 748.8,542.6 751.1,544.0 751.1,544.0 753.4,545.3 753.4,545.3 755.7,546.7 757.9,548.0 760.0,549.3 762.1,550.5 762.1,550.5 764.2,551.8 764.3,551.8 766.4,553.1 766.4,553.1 768.6,554.5 768.6,554.5 770.8,555.8 770.8,555.8 773.0,557.2 773.1,557.2 775.2,558.6 775.2,558.6 777.4,559.9 777.4,559.9 779.5,561.2 779.5,561.2 781.1,562.2 802.4,516.3 800.8,515.5 798.9,514.7 797.0,513.8 795.1,512.9 793.2,512.0 791.3,511.1 789.4,510.2 787.6,509.3 785.7,508.5 783.8,507.6 781.8,506.7 779.8,505.7 777.7,504.8 775.6,503.8 773.5,502.9 771.3,501.9 769.2,500.9 767.1,499.9 765.0,499.0 762.9,498.0 762.9,498.0 760.9,497.1 760.9,497.1 758.9,496.2 758.9,496.2 757.0,495.3 757.0,495.3 755.1,494.4 755.1,494.4 753.4,493.6 751.6,492.8 750.0,492.0 748.4,491.2 746.8,490.5 746.7,490.5 745.2,489.8 745.2,489.8 743.6,489.0 743.6,489.0 742.1,488.3 742.1,488.3 740.6,487.6 740.6,487.6 739.1,486.8 739.1,486.8 737.6,486.1 737.5,486.1 736.0,485.4 736.0,485.4 734.5,484.6 734.5,484.6 733.0,483.9 732.9,483.8 731.4,483.1 731.4,483.0 729.8,482.3 728.2,481.5 726.7,480.7 725.1,479.9 723.5,479.1 723.5,479.1 721.9,478.2 721.9,478.2 720.3,477.4 720.2,477.4 718.6,476.6 718.6,476.6 717.0,475.7 716.9,475.7 715.3,474.9 715.3,474.8 713.7,474.0 713.6,474.0 712.1,473.1 712.0,473.1 710.4,472.2 710.3,472.1 708.7,471.2 708.6,471.2 707.1,470.3 707.0,470.2 705.5,469.3 705.3,469.2 703.8,468.3 703.7,468.2 702.2,467.3 702.1,467.2 700.5,466.2 700.4,466.2 698.8,465.1 698.8,465.1 697.2,464.0 697.1,464.0 695.5,462.9 695.4,462.8 693.8,461.8 693.8,461.7 692.2,460.6 692.1,460.6 690.6,459.5 690.5,459.4 689.0,458.3 689.0,458.3 687.5,457.2 687.4,457.2 686.0,456.1 685.9,456.0 684.5,455.0 684.5,455.0 683.1,453.9 683.1,453.9 681.8,452.9 681.7,452.9 680.5,451.9 680.5,451.9 679.4,451.0 679.3,451.0 678.3,450.1 678.2,450.1 677.2,449.3 677.1,449.2 676.3,448.5 676.2,448.4 675.3,447.7 675.2,447.6 674.4,446.9 674.3,446.8 673.6,446.1 673.4,446.0 672.7,445.3 672.6,445.2 671.9,444.6 671.8,444.4 671.2,443.8 671.0,443.6 670.4,443.0 670.2,442.8 669.7,442.2 669.5,442.0 669.0,441.3 668.8,441.1 668.3,440.5 668.1,440.3 667.6,439.6 667.5,439.4 667.0,438.8 666.9,438.6 666.3,437.9 666.2,437.7 665.7,437.0 665.6,436.7 665.1,436.0 664.9,435.8 664.5,435.1 664.3,434.8 663.9,434.1 663.8,433.8 663.4,433.1 663.3,432.8 662.9,432.1 662.8,431.8 662.4,431.1 662.3,430.9 662.0,430.1 661.9,429.9 661.6,429.1 661.5,428.9 661.2,428.1 661.1,427.9 660.8,427.2 660.8,427.0 660.5,426.2 660.4,426.0 660.1,425.2 660.1,425.0 659.8,424.2 659.8,424.1 659.5,423.2 659.5,423.1 659.2,422.1 659.2,422.0 658.9,421.0 658.8,420.8 658.5,419.8 658.5,419.6 658.2,418.5 658.2,418.4 657.9,417.3 657.9,417.1 657.6,416.0 657.6,415.9 657.3,414.7 657.3,414.6 657.1,413.4 657.0,413.3 656.8,412.1 656.8,412.0 656.5,410.8 656.5,410.8 656.3,409.5 656.3,409.5 656.1,408.2 656.1,408.2 655.8,406.9 655.8,406.9 655.6,405.7 655.6,405.6 655.4,404.4 655.4,404.4 655.2,403.2 655.2,403.1 655.0,402.0 655.0,401.9 655.0,401.8 654.9,400.7 654.7,398.6 654.4,396.7 654.2,394.7 654.0,392.7 653.8,390.7 653.6,388.6 653.3,386.5 653.2,384.4 653.0,382.3 652.9,380.1 652.8,378.0 652.7,375.9 652.6,374.0 652.6,373.6 652.6,372.3 652.5,371.0 652.5,369.8 652.4,368.5 652.3,367.3 652.2,366.0 652.1,364.7 652.0,363.4 651.9,362.1 651.7,360.7 651.5,359.2 651.3,357.7 651.1,356.1 650.9,354.6 650.6,353.0 650.4,351.3 650.1,349.7 649.8,348.0 649.8,347.7 649.8,347.6 649.7,347.3 649.5,346.4 649.3,344.7 649.0,343.1 648.7,341.4 648.4,339.8 648.0,338.2 647.7,336.7 647.4,335.1 647.1,333.5 646.8,332.0 646.5,330.5 646.1,329.0 646.1,328.6 646.0,328.4 646.0,328.2 645.8,327.5 645.7,326.9 645.6,326.6 645.6,326.4 645.5,326.1 645.2,324.6 644.8,323.2 644.8,322.9 644.8,322.9 644.7,322.9 644.5,321.8 644.3,321.2 644.3,321.1 644.3,321.1 644.1,320.4 643.7,318.9 643.3,317.5 642.9,316.1 642.5,314.7 642.0,313.2 641.5,311.8 641.0,310.3 640.4,308.8 639.8,307.2 639.8,307.2 639.8,307.2 639.8,307.1 639.2,305.6 638.5,304.0 637.9,302.4 637.2,300.8 636.5,299.2 636.1,298.4 636.1,298.3 636.1,298.2 635.8,297.5 635.4,296.8 635.3,296.5 635.2,296.4 635.1,295.9 634.3,294.3 633.6,292.7 632.9,291.1 632.2,289.6 632.1,289.3 631.3,287.5 630.8,286.5 630.2,285.1 629.6,283.8 629.0,282.5 628.5,281.3 627.9,280.1 627.3,278.9 626.8,277.7 626.2,276.5 625.6,275.3 624.9,274.0 624.3,272.7 623.5,271.3 622.7,269.8 621.9,268.3 621.1,266.8 621.1,266.8 620.1,265.0 619.1,263.1 618.2,261.5 618.0,261.0 617.2,259.5 616.7,258.5 616.6,258.3 615.4,256.1 614.3,253.9 613.8,253.1 613.5,252.5 613.4,252.3 613.1,251.7 611.9,249.5 610.7,247.3 609.4,245.2 608.2,243.1 606.8,241.0 605.5,239.0 605.2,238.6 605.0,238.3 604.7,237.9 604.1,237.1 602.7,235.2 601.3,233.5 599.7,231.7 598.0,229.8 597.2,229.0 597.1,228.9 597.0,228.8 596.3,228.0 594.6,226.3 594.5,226.3 594.5,226.3 594.5,226.2 592.6,224.4 592.1,223.9 591.9,223.7 591.6,223.5 590.8,222.7 588.8,220.9 586.8,219.2 584.7,217.4 582.6,215.7 580.4,214.0 578.2,212.3 575.9,210.6 573.5,208.9 571.1,207.3 568.7,205.6 566.1,203.9 565.3,203.4 565.0,203.2 564.6,203.0 563.5,202.3 562.2,201.5 561.8,201.2 561.4,201.0 560.7,200.6 557.9,198.9 555.0,197.3 553.7,196.5 553.5,196.4 553.3,196.3 552.0,195.6 550.6,194.9 550.1,194.6 549.7,194.4 549.0,194.0 545.9,192.3 542.8,190.7 541.9,190.3 541.5,190.1 541.0,189.9 539.6,189.2 538.2,188.5 538.1,188.4 537.9,188.3 536.5,187.6 533.3,186.1 530.2,184.7 529.6,184.4 529.3,184.2 528.7,184.0 527.1,183.2 524.0,181.9 521.0,180.6 518.0,179.3 517.3,179.0 516.9,178.9 516.3,178.7 515.0,178.1 513.7,177.6 513.3,177.5 513.0,177.3 512.0,176.9 509.0,175.8 506.0,174.7 503.0,173.6 500.9,172.9 500.7,172.8 500.6,172.8 500.0,172.6 497.0,171.6 497.0,171.6 497.0,171.6 497.0,171.6 493.9,170.7 493.4,170.5 493.4,170.5 493.3,170.5 490.9,169.7 487.9,168.9 484.9,168.0 481.9,167.2 480.6,166.9 480.4,166.8 480.2,166.8 478.9,166.4 477.2,166.0 476.7,165.9 476.5,165.9 475.9,165.7 473.0,165.0 473.0,165.0 472.9,165.0 472.9,165.0 469.9,164.4 469.3,164.2 469.2,164.2 469.0,164.2 466.9,163.7 465.5,163.5 465.4,163.5 465.3,163.4 463.9,163.2 460.9,162.6 457.9,162.1 454.9,161.6 451.9,161.2 448.9,160.8 445.9,160.5 445.0,160.4 444.6,160.3 444.2,160.3 442.9,160.1 441.5,160.0 440.8,159.9 440.5,159.9 439.9,159.8 436.9,159.6 433.9,159.4 433.3,159.4 433.2,159.4 433.0,159.3 430.9,159.2 429.6,159.2 429.4,159.2 429.3,159.1 427.9,159.1 424.9,159.0 422.0,159.0 418.9,159.0 415.8,159.0 412.7,159.1 409.5,159.3 408.9,159.3 408.6,159.3 407.9,159.4 406.3,159.4 404.9,159.5 404.7,159.6 404.5,159.6 403.1,159.7 399.9,159.9 396.8,160.2 395.2,160.4 395.1,160.4 395.0,160.4 393.7,160.5 391.3,160.8 391.2,160.8 391.2,160.8 390.6,160.8 387.7,161.2 384.8,161.5 383.8,161.7 383.5,161.7 383.2,161.8 382.0,161.9 379.3,162.3 376.7,162.7 374.4,163.0 372.2,163.4 370.2,163.8 368.3,164.2 366.5,164.5 364.8,164.9 363.2,165.4 361.7,165.8 361.6,165.8 361.5,165.8 360.0,166.3 358.3,166.8 356.6,167.3 354.9,167.9 353.0,168.5 351.1,169.2 349.0,170.0 346.7,170.8 344.4,171.7 343.9,171.9 343.6,172.0 343.1,172.2 342.0,172.6 340.2,173.3 340.0,173.4 339.9,173.4 339.4,173.6 336.8,174.6 334.1,175.8 333.0,176.2 332.8,176.3 332.5,176.4 331.3,176.9 329.6,177.6 329.2,177.8 329.0,177.9 328.5,178.1 325.7,179.3 322.8,180.6 322.3,180.8 322.0,180.9 321.5,181.2 320.1,181.8 318.8,182.3 318.4,182.5 318.1,182.7 317.3,183.0 314.7,184.2 312.1,185.4 311.6,185.7 311.3,185.8 310.9,186.0 309.6,186.6 308.1,187.4 307.8,187.5 307.8,187.5 307.3,187.7 305.1,188.8 303.1,189.8 302.7,190.0 302.7,190.0 302.6,190.1 301.2,190.8 299.4,191.7 297.7,192.6 296.1,193.5 294.6,194.4 293.2,195.2 291.8,196.1 290.3,196.9 289.8,197.3 289.7,197.4 289.5,197.5 288.9,197.8 288.3,198.2 288.1,198.4 288.0,198.5 287.5,198.8 286.1,199.7 284.6,200.7 283.0,201.8 282.0,202.5 281.8,202.7 281.7,202.8 281.4,203.0 279.7,204.2 277.9,205.4 277.2,205.9 277.1,206.0 276.9,206.2 276.1,206.8 274.2,208.2 272.3,209.6 270.3,211.1 269.4,211.8 269.3,211.8 269.2,211.9 268.4,212.6 266.4,214.1 264.4,215.7 262.5,217.2 261.9,217.7 261.7,217.8 261.4,218.1 260.5,218.8 258.6,220.4 256.7,222.0 254.9,223.5 254.5,223.8 254.3,224.0 254.0,224.4 253.1,225.1 251.4,226.6 249.8,228.1 248.2,229.5 247.4,230.3 247.4,230.3 247.4,230.3 246.7,231.0 245.2,232.5 243.7,234.0 242.2,235.6 240.7,237.1 239.3,238.7 237.8,240.3 236.4,241.9 235.1,243.4 234.4,244.2 234.3,244.3 234.2,244.4 233.7,244.9 232.4,246.4 232.3,246.6 231.7,247.3 230.3,248.8 229.3,250.0 228.8,250.4 227.6,251.8 226.4,253.1 226.2,253.3 225.2,254.5 224.2,255.5 223.3,256.6 222.5,257.5 222.3,257.7 222.3,257.7 222.3,257.7 221.7,258.4 220.9,259.3 220.2,260.1 219.4,261.0 218.7,261.8 218.0,262.6 217.3,263.5 217.3,263.5 217.3,263.5 217.3,263.5 216.6,264.3 215.9,265.2 215.1,266.2 214.3,267.2 213.5,268.2 212.7,269.2 211.9,270.2 211.1,271.3 210.3,272.4 209.5,273.5 208.7,274.6 207.9,275.6 206.8,277.2 206.7,277.3 205.7,278.7 205.5,278.9 204.3,280.5 203.1,282.2 203.0,282.3 201.9,283.8 201.7,284.0 200.5,285.6 199.1,287.2 197.8,288.8 196.5,290.4 195.1,292.0 193.8,293.5 192.5,295.1 191.3,296.4 190.5,297.4 189.4,298.6 188.6,299.6 188.6,299.6 188.6,299.6 188.4,299.9 187.4,301.1 187.3,301.1 187.3,301.1 187.3,301.2 186.2,302.4 185.2,303.6 184.2,304.8 183.2,306.0 182.3,307.3 181.3,308.5 180.2,309.8 179.2,311.1 178.2,312.4 177.6,313.2 177.6,313.2 177.6,313.2 177.2,313.8 176.5,314.6 176.4,314.7 176.3,314.8 176.2,315.1 175.1,316.4 174.1,317.7 173.2,319.0 172.2,320.2 171.3,321.5 170.5,322.4 170.4,322.6 169.2,324.2 169.2,324.3 168.0,325.9 166.7,327.5 165.5,329.1 165.4,329.2 165.3,329.4 164.7,330.1 164.2,330.8 163.7,331.4 163.2,332.0 162.8,332.6 162.3,333.2 161.9,333.7 161.6,334.3 161.2,334.8 161.0,335.1 161.0,335.1 161.0,335.1 160.8,335.3 160.4,335.9 160.0,336.5 159.6,337.0 159.3,337.6 159.0,338.0 159.0,338.0 159.0,338.0 158.9,338.2 158.5,338.7 158.2,339.2 158.0,339.5 158.0,339.5 158.0,339.5 157.9,339.8 157.6,340.3 157.2,340.8 156.9,341.4 156.6,341.9 156.3,342.5 156.0,343.0 155.6,343.6 155.3,344.2 155.0,344.9 154.6,345.5 154.2,346.2 153.9,346.8 153.5,347.5 153.2,348.2 152.8,348.9 152.7,349.1 152.6,349.2 152.6,349.3 152.4,349.7 152.0,350.4 151.7,351.1 151.3,351.9 150.9,352.6 150.6,353.3 150.2,354.1 149.9,354.8 149.6,355.5 149.3,355.9 149.3,356.0 149.3,356.0 149.3,356.1 149.0,356.8 148.7,357.4 148.6,357.6 148.6,357.6 148.6,357.7 148.4,358.0 148.1,358.6 147.9,359.2 147.6,359.7 147.4,360.3 147.2,360.8 147.0,361.4 146.8,361.9 146.6,362.4 146.4,362.9 146.2,363.4 146.0,364.0 145.9,364.2 145.9,364.2 145.9,364.3 145.8,364.5 145.6,365.1 145.4,365.6 145.2,366.3 145.0,366.9 144.8,367.5 144.6,368.1 144.4,368.7 144.2,369.3 144.1,369.9 143.9,370.5 143.7,371.1 143.6,371.7 143.4,372.2 143.3,372.8 143.2,373.4 143.0,373.9 143.0,374.2 143.0,374.2 143.0,374.2 142.9,374.5 142.8,375.1 142.7,375.7 142.7,375.8 142.7,375.8 142.7,375.8 142.6,376.3 142.5,376.9 142.4,377.5 142.3,378.1 142.3,378.7 142.2,379.1 142.2,379.1 142.2,379.2 142.2,379.4 142.1,380.0 142.1,380.7 142.1,380.8 142.1,380.8 142.0,380.8 142.0,381.3 142.0,382.0 141.9,382.6 141.9,383.3 141.8,384.0 141.8,384.3 141.8,384.3 141.8,384.3 141.8,384.6 141.8,385.3 141.8,386.0 141.8,386.6 141.8,387.3 141.8,388.0 141.8,388.7 141.8,389.4 141.8,390.1 141.9,390.8 141.9,391.6 141.9,392.3 142.0,393.1 142.0,393.9 142.1,394.7 142.1,395.0 142.1,395.0 142.1,395.1 142.1,395.5 142.2,396.3 142.3,397.2 142.3,398.0 142.4,398.8 142.5,399.7 142.5,400.5 142.6,401.4 142.7,402.3 142.7,402.7 142.7,402.7 142.7,402.7 142.8,403.1 142.9,404.0 142.9,404.9 143.0,405.7 143.1,406.6 143.2,407.4 143.3,408.3 143.4,409.1 143.6,409.9 143.7,410.7 143.8,411.5 143.9,411.9 143.9,411.9 143.9,411.9 143.9,412.3 144.1,413.1 144.2,413.9 144.3,414.7 144.5,415.5 144.6,416.2 144.8,417.0 144.9,417.8 145.1,418.5 145.2,419.1 145.2,419.1 145.2,419.1 145.2,419.3 145.4,420.1 145.6,420.8 145.8,421.6 145.9,422.4 146.0,422.8 146.0,422.8 146.5,424.6 147.0,426.5 147.0,426.6 147.2,427.3 147.4,428.0 147.4,428.2 147.4,428.3 147.4,428.3 147.5,428.7 147.7,429.4 147.9,430.1 148.1,430.7 148.3,431.4 148.6,432.1 148.9,432.8 149.2,433.6 149.5,434.4 149.9,435.3 150.3,436.3 150.8,437.3 151.4,438.5 152.0,439.6 152.6,440.8 153.2,442.1 153.9,443.3 154.5,444.6 155.2,445.9 156.0,447.2 156.7,448.4 157.4,449.7 158.1,450.9 158.9,452.1 159.6,453.3 160.3,454.4 161.1,455.6 161.8,456.7 162.6,457.8 163.4,458.9 164.2,460.0 165.0,461.1 165.8,462.2 166.6,463.3 167.4,464.3 168.2,465.4 169.1,466.4 169.9,467.4 170.8,468.4 171.7,469.4 172.6,470.4 173.5,471.4 174.4,472.3 175.3,473.3 176.3,474.2 177.3,475.2 178.4,476.2 179.5,477.2 180.6,478.2 181.8,479.1 182.9,480.1 184.1,481.1 185.3,482.1 186.5,483.1 186.9,483.5 187.1,483.6 188.6,484.9 190.2,486.2 191.3,487.2 192.2,487.9 193.2,488.8 194.3,489.7 195.3,490.5 196.3,491.3 197.3,492.2 198.3,493.0 199.3,493.8 200.3,494.6 200.7,494.9 200.8,494.9 201.0,495.1 201.4,495.4 202.0,495.9 202.3,496.2 203.9,497.4 205.5,498.7 207.0,499.9 207.2,500.1 207.5,500.4 208.6,501.2 209.6,502.0 210.1,502.4 210.1,502.4 210.1,502.5 210.6,502.8 211.7,503.7 212.7,504.5 213.1,504.8 213.2,504.9 214.8,506.1 216.4,507.4 218.0,508.7 219.6,510.0 221.3,511.4 222.9,512.7 222.9,512.8 224.4,514.1 224.6,514.2 225.3,514.9 226.1,515.6 226.9,516.3 227.5,516.8 229.1,518.2 230.8,519.7 232.4,521.3 232.5,521.4 234.1,523.1 235.8,524.9 237.4,526.8 238.9,528.8 240.3,530.9 241.5,532.9 242.7,534.9 243.7,536.8 244.7,538.6 245.0,539.1 245.1,539.4 245.9,540.7 246.6,542.0 247.3,543.3 248.0,544.5 248.7,545.7 249.4,546.9 250.2,548.0 251.0,549.1 251.2,549.5 251.2,549.5 251.3,549.5 251.9,550.3 252.2,550.8 252.3,550.9 252.4,551.1 252.8,551.6 253.2,552.2 253.4,552.4 253.5,552.5 253.8,552.9 254.8,554.3 255.9,555.6 257.0,557.0 258.1,558.3 259.2,559.7 260.3,561.0 261.5,562.4 262.6,563.7 263.8,565.1 264.9,566.4 265.5,567.0 265.5,567.0 265.6,567.1 266.1,567.6 266.6,568.2 266.8,568.4 267.0,568.6 267.2,568.9 268.4,570.1 269.5,571.3 270.7,572.5 271.9,573.7 273.0,574.9 274.2,576.1 274.7,576.5 274.7,576.6 274.9,576.7 275.4,577.2 275.9,577.7 276.1,577.9 276.2,578.1 276.6,578.4 277.8,579.5 279.0,580.6 280.1,581.7 281.3,582.8 282.5,583.8 283.7,584.8 284.9,585.8 286.0,586.8 287.2,587.7 288.3,588.6 288.6,588.8 288.7,588.9 288.9,589.1 289.4,589.4 289.9,589.8 290.1,590.0 290.3,590.1 290.5,590.2 291.6,591.0 291.6,591.0 291.6,591.0 291.6,591.0 292.7,591.8 293.0,592.0 293.1,592.0 293.3,592.2 293.9,592.6 294.4,592.9 294.6,593.0 294.7,593.1 295.0,593.3 296.2,594.1 297.4,594.8 297.7,595.0 297.8,595.1 298.1,595.3 298.6,595.6 299.2,596.0 299.4,596.1 299.6,596.2 299.8,596.3 301.0,597.1 301.1,597.1 301.1,597.1 302.6,598.1 302.9,598.3 304.4,599.2 304.6,599.3 306.3,600.3 306.6,600.6 307.4,601.1 307.8,601.3 308.0,601.4 308.0,601.5 308.6,601.9 309.9,602.6 311.1,603.4 312.3,604.2 313.0,604.6 313.0,604.6 313.0,604.6 313.6,604.9 314.8,605.7 316.0,606.4 317.2,607.2 318.4,607.9 319.6,608.6 320.7,609.3 321.9,609.9 323.1,610.6 324.3,611.2 325.4,611.9 326.0,612.2 326.2,612.3 327.9,613.2 328.2,613.3 329.0,613.8 330.1,614.4 331.1,614.9 331.2,615.0 331.3,615.0 331.5,615.1 332.1,615.4 333.1,615.9 334.1,616.4 335.1,616.9 336.1,617.4 337.2,617.9 338.4,618.4 339.6,618.9 340.9,619.4 342.3,619.9 343.8,620.5 345.5,621.0 346.1,621.2 346.3,621.3 346.5,621.4 347.3,621.6 349.3,622.3 351.3,622.9 353.4,623.6 355.6,624.3 357.1,624.7 357.3,624.8 357.4,624.8 357.9,624.9 360.2,625.6 362.5,626.2 363.0,626.4 363.0,626.4 363.0,626.4 364.8,626.9 367.1,627.5 369.4,628.1 371.7,628.7 372.1,628.8 372.4,628.9 372.8,629.0 373.9,629.3 376.0,629.8 378.1,630.3 380.1,630.8 382.0,631.2 383.9,631.7 385.7,632.1 387.5,632.5 389.2,632.8 391.0,633.2 392.7,633.5 394.4,633.8 394.7,633.9 394.9,633.9 395.2,634.0 396.1,634.1 397.9,634.4 399.7,634.6 401.6,634.9 402.0,634.9 402.2,635.0 402.7,635.0 403.5,635.1 405.6,635.3 407.7,635.5 410.0,635.7 412.4,635.9 415.0,636.1 417.6,636.2 420.4,636.3 421.0,636.3 421.2,636.3 421.8,636.4 423.2,636.4 424.5,636.4 425.2,636.5 425.6,636.5 426.1,636.5 429.0,636.6 431.9,636.6 432.7,636.6 433.0,636.6 433.5,636.6 434.7,636.7 436.8,636.7 436.9,636.7 437.0,636.7 437.5,636.7 440.2,636.7 442.9,636.7 445.4,636.7 446.4,636.7 446.8,636.7 447.0,636.7 447.7,636.7 449.9,636.7 451.9,636.7 452.4,636.7 452.6,636.7 452.9,636.7 453.7,636.6 454.5,636.6 454.5,636.6 454.6,636.6 455.5,636.6 457.1,636.6 458.6,636.5 460.0,636.4 461.3,636.3 462.6,636.3 463.8,636.1 465.0,636.0 466.3,635.9 467.6,635.7 468.9,635.6 469.2,635.5 469.2,635.5 469.4,635.5 470.2,635.4 470.9,635.3 471.1,635.3 471.3,635.2 471.7,635.2 473.2,634.9 474.8,634.7 476.4,634.4 478.0,634.1 479.7,633.8 481.4,633.5 483.0,633.2 483.8,633.0 484.2,632.9 484.4,632.9 484.7,632.8 486.4,632.4 488.1,632.0 489.8,631.6 491.5,631.2 493.1,630.8 494.8,630.4 495.1,630.3 495.2,630.3 495.3,630.2 496.4,629.9 498.0,629.5 498.3,629.4 498.8,629.2 500.6,628.7 502.4,628.2 504.1,627.6 505.9,627.0 507.7,626.5 509.5,625.9 511.2,625.3 513.0,624.7 514.8,624.0 516.5,623.4 518.3,622.7 520.0,622.0 521.7,621.3 523.5,620.6 525.2,619.8 527.0,619.1 528.7,618.3 530.4,617.5 532.1,616.7 533.9,615.9 535.6,615.0 537.3,614.1 539.0,613.3 540.7,612.4 542.3,611.4 544.0,610.5 545.7,609.6 547.3,608.6 548.9,607.6 550.5,606.6 552.1,605.6 553.6,604.5 555.2,603.4 556.8,602.3 558.3,601.2 559.8,600.1 561.4,598.9 562.9,597.7 564.4,596.5 565.9,595.2 567.4,594.0 568.9,592.7 570.3,591.5 571.8,590.2 573.2,588.9 574.5,587.6 575.9,586.3 577.2,584.9 578.5,583.5 579.8,582.1 581.1,580.7 582.4,579.2 583.6,577.8 584.9,576.3 586.1,574.8 587.3,573.3 588.5,571.8 589.6,570.3 590.7,568.8 591.8,567.2 592.9,565.6 594.0,564.0 595.1,562.4 596.2,560.8 597.2,559.2 598.3,557.6 599.3,556.0 600.3,554.3 601.3,552.7 602.2,551.0 603.1,549.4 604.0,547.7 604.9,546.1 605.7,544.3 606.5,542.5 607.5,540.6 608.4,538.7 609.5,536.8 610.6,534.9 611.7,533.1 612.8,531.3 613.9,529.6 615.0,527.9 616.2,526.2 617.3,524.5 618.4,522.8 619.5,521.0 620.6,519.3 621.7,517.5 622.9,515.8 624.0,514.1 625.1,512.4 626.5,510.2 628.0,508.1 629.9,506.3 631.8,504.6 633.3,503.3 634.2,502.5Z" fill="#c0646c"/>
<path d="M625.6,501.5 627.9,499.5 629.3,498.1 630.5,496.8 631.6,495.5 632.6,494.3 633.4,493.1 634.1,492.0 634.7,490.7 635.3,489.4 635.9,488.0 636.6,486.5 637.2,485.1 637.7,483.6 638.2,482.1 638.6,480.7 638.9,479.3 639.3,477.9 639.6,476.5 639.8,475.1 640.1,473.6 640.4,472.1 640.8,470.5 641.1,469.0 641.5,467.4 641.9,465.8 642.3,464.2 642.8,462.6 643.2,461.0 643.5,459.4 643.8,457.8 644.1,456.2 644.3,454.6 644.4,453.1 644.5,451.6 644.5,450.1 644.5,448.6 644.5,447.0 644.4,445.5 644.3,443.9 644.2,442.2 644.1,440.5 644.0,438.8 643.9,437.1 643.8,435.3 643.7,433.5 643.7,431.6 643.6,429.8 643.6,427.9 643.5,426.2 643.5,424.5 643.4,422.9 643.2,421.3 643.1,419.7 642.9,418.0 642.7,416.3 642.5,414.5 642.3,412.6 642.0,410.6 641.7,408.6 641.5,406.4 641.2,404.3 641.0,402.2 640.8,400.2 640.5,398.2 640.3,396.3 640.1,394.2 639.8,392.1 639.6,390.0 639.4,387.8 639.2,385.5 639.0,383.2 638.9,380.9 638.8,378.6 638.7,376.4 638.6,374.4 638.6,372.5 638.5,370.7 638.4,368.9 638.3,367.3 638.2,365.7 638.0,364.1 637.8,362.5 637.6,360.8 637.4,359.0 637.1,357.2 636.8,355.4 636.6,353.6 636.3,351.7 636.0,349.9 635.6,348.1 635.3,346.2 635.0,344.4 634.6,342.6 634.3,340.7 633.9,338.9 633.5,337.0 633.1,335.1 632.7,333.2 632.3,331.4 632.0,329.7 631.6,327.9 631.2,326.3 630.8,324.6 630.3,323.0 629.9,321.5 629.4,319.9 628.9,318.4 628.4,316.9 627.9,315.3 627.4,313.8 626.9,312.2 626.3,310.5 625.7,308.9 625.1,307.2 624.5,305.4 623.8,303.7 623.2,301.9 622.5,300.1 621.9,298.3 621.2,296.4 620.5,294.6 619.8,292.7 619.1,290.8 618.4,289.0 617.8,287.2 617.1,285.5 616.4,283.8 615.8,282.2 615.1,280.5 614.3,278.9 613.6,277.3 612.8,275.7 611.9,274.0 610.9,272.3 610.0,270.4 608.9,268.5 607.9,266.7 607.0,264.8 606.1,263.0 605.2,261.3 604.3,259.6 603.4,257.9 602.5,256.3 601.7,254.8 600.8,253.2 600.0,251.8 599.1,250.3 598.2,248.9 597.4,247.5 596.5,246.3 595.7,245.0 594.8,243.8 594.0,242.7 593.0,241.6 592.1,240.4 591.0,239.2 589.9,238.1 588.8,236.8 587.6,235.6 586.4,234.4 585.2,233.3 584.0,232.1 582.7,230.9 581.5,229.8 580.2,228.7 578.9,227.5 577.6,226.4 576.2,225.3 574.8,224.2 573.5,223.2 572.1,222.1 570.7,221.0 569.2,220.0 567.8,218.9 566.3,217.9 564.8,216.9 563.4,215.9 561.9,214.9 560.4,213.9 558.9,213.0 557.4,212.0 555.8,211.1 554.3,210.1 552.7,209.2 551.1,208.3 549.5,207.4 547.9,206.5 546.3,205.6 544.6,204.7 543.0,203.8 541.4,203.0 539.7,202.1 538.0,201.2 536.4,200.4 534.7,199.5 533.0,198.7 531.3,197.9 529.6,197.1 527.9,196.3 526.2,195.5 524.5,194.7 522.8,193.9 521.1,193.2 519.4,192.4 517.7,191.7 516.0,191.0 514.3,190.2 512.6,189.5 510.8,188.9 509.1,188.2 507.4,187.5 505.7,186.8 503.9,186.2 502.2,185.6 500.5,184.9 498.7,184.3 497.0,183.7 495.2,183.2 493.5,182.6 491.7,182.0 490.0,181.5 488.2,180.9 486.4,180.4 484.7,179.9 482.9,179.4 481.1,178.9 479.3,178.4 477.6,178.0 475.8,177.5 474.0,177.1 472.2,176.7 470.4,176.3 468.6,175.9 466.9,175.5 465.0,175.1 463.3,174.8 461.5,174.4 459.7,174.1 457.8,173.8 456.1,173.5 454.2,173.2 452.4,172.9 450.6,172.6 448.8,172.4 447.0,172.2 445.2,172.0 443.4,171.7 441.6,171.6 439.8,171.4 438.0,171.2 436.2,171.1 434.3,171.0 432.5,170.8 430.7,170.7 428.9,170.6 427.1,170.6 425.3,170.5 423.5,170.5 421.8,170.5 420.0,170.5 418.2,170.5 416.4,170.5 414.7,170.6 412.8,170.6 411.0,170.7 409.2,170.8 407.4,170.9 405.5,171.0 403.7,171.2 401.8,171.3 399.9,171.5 398.1,171.6 396.2,171.8 394.4,172.0 392.5,172.2 390.6,172.4 388.8,172.6 386.9,172.9 385.0,173.1 383.2,173.4 381.3,173.6 379.5,173.9 377.7,174.2 375.9,174.4 374.2,174.7 372.5,175.0 370.9,175.4 369.3,175.7 367.7,176.1 366.2,176.5 364.7,176.9 363.1,177.3 361.6,177.8 359.9,178.3 358.3,178.9 356.5,179.5 354.8,180.1 353.0,180.8 351.2,181.4 349.4,182.1 347.7,182.7 346.0,183.4 344.2,184.1 342.5,184.8 340.7,185.5 339.0,186.2 337.2,186.9 335.5,187.6 333.7,188.4 331.9,189.1 330.2,189.9 330.0,190.0 327.0,194.5 346.0,189.5 380.0,181.5 420.0,178.5 445.0,178.0 445.0,300.0 300.0,300.0 300.0,480.0 362.0,500.0 361.0,613.5 371.0,617.5 384.0,621.0 389.2,622.0 389.7,622.1 391.5,622.3 393.3,622.6 395.0,622.8 396.7,623.0 398.4,623.2 400.2,623.4 401.9,623.5 403.6,623.7 405.4,623.8 407.1,624.0 408.9,624.1 410.6,624.2 412.4,624.4 414.2,624.5 416.1,624.6 417.9,624.7 419.8,624.8 421.7,624.8 423.6,624.9 425.5,625.0 427.4,625.0 429.3,625.1 431.3,625.1 433.2,625.1 435.1,625.2 437.0,625.2 439.0,625.2 440.9,625.2 442.9,625.2 444.8,625.2 446.7,625.2 448.6,625.2 450.5,625.2 452.4,625.2 454.3,625.1 456.0,625.1 457.8,625.0 459.5,624.9 461.1,624.8 462.8,624.7 464.4,624.5 466.0,624.3 467.7,624.1 469.4,623.9 471.2,623.7 473.0,623.4 474.8,623.2 476.5,622.9 478.3,622.6 480.1,622.4 481.9,622.1 483.6,621.8 485.4,621.5 487.2,621.3 489.0,621.0 490.7,620.7 492.4,620.3 494.2,620.0 495.9,619.7 497.6,619.3 499.4,618.9 501.1,618.6 502.8,618.2 504.6,617.8 506.3,617.3 508.0,616.9 509.7,616.4 511.4,615.9 513.1,615.4 514.8,614.9 516.5,614.4 518.2,613.8 519.9,613.2 521.6,612.6 523.3,611.9 525.0,611.3 526.7,610.6 528.4,609.9 530.1,609.2 531.8,608.5 533.5,607.7 535.1,606.9 536.8,606.1 538.5,605.3 540.1,604.5 541.7,603.6 543.3,602.8 544.9,601.9 546.5,601.0 548.0,600.1 549.5,599.1 551.1,598.2 552.6,597.1 554.1,596.1 555.7,595.0 557.2,593.9 558.7,592.8 560.2,591.7 561.7,590.5 563.2,589.3 564.7,588.1 566.1,587.0 567.6,585.8 568.9,584.6 570.3,583.4 571.6,582.2 572.9,580.9 574.2,579.6 575.4,578.3 576.7,576.9 578.0,575.5 579.3,574.1 580.5,572.7 581.8,571.3 582.9,569.9 584.0,568.4 585.2,567.0 586.3,565.5 587.3,564.0 588.4,562.5 589.5,560.9 590.6,559.4 591.6,557.8 592.6,556.3 593.6,554.7 594.6,553.1 595.5,551.5 596.5,549.9 597.4,548.3 598.3,546.7 599.1,545.2 599.9,543.6 600.7,541.9 601.6,540.1 602.5,538.2 603.6,536.1 604.7,534.1 605.9,532.1 607.0,530.2 608.2,528.4 609.3,526.6 610.4,524.9 611.6,523.1 612.7,521.4 613.8,519.7 614.9,517.9 616.0,516.1 617.1,514.2 618.2,512.4 619.2,510.6 620.2,508.8 621.8,506.2 623.5,503.7Z" fill="#eed192"/>
<path d="M626.5,505.9 627.4,505.2 628.2,504.6 629.2,504.1 630.2,503.7 631.2,503.4 632.2,503.1 633.3,503.0 634.3,503.0 635.4,503.1 636.3,503.2 637.3,503.3 638.5,503.5 639.9,503.6 641.4,503.8 643.1,504.0 643.1,504.0 644.8,504.2 644.8,504.2 646.6,504.4 646.7,504.4 648.5,504.7 648.6,504.7 650.4,504.9 650.5,504.9 652.4,505.2 652.5,505.2 654.3,505.4 654.4,505.4 656.3,505.7 656.4,505.7 658.2,506.0 658.3,506.0 660.1,506.3 660.3,506.4 662.0,506.7 662.0,506.7 663.6,507.0 665.3,507.3 666.9,507.6 666.9,507.6 668.5,507.9 668.6,507.9 670.2,508.2 670.3,508.2 671.9,508.5 672.0,508.5 673.6,508.9 673.7,508.9 675.3,509.2 675.5,509.3 677.1,509.6 677.3,509.7 678.9,510.1 679.1,510.1 680.8,510.5 681.0,510.6 682.7,511.1 682.9,511.1 684.6,511.6 684.8,511.7 686.6,512.2 686.8,512.3 688.6,512.9 688.8,513.0 690.7,513.6 690.9,513.7 692.8,514.4 692.9,514.5 694.8,515.2 695.0,515.3 696.9,516.1 697.1,516.2 699.1,517.0 699.2,517.0 701.2,517.9 701.3,518.0 703.3,518.9 703.4,518.9 705.5,519.9 705.6,519.9 707.6,520.9 707.7,520.9 709.8,522.0 709.9,522.0 712.0,523.0 712.0,523.1 714.2,524.1 714.2,524.1 716.3,525.2 716.4,525.2 718.5,526.3 718.6,526.4 720.7,527.5 720.8,527.5 722.9,528.6 722.9,528.6 725.1,529.8 725.2,529.8 727.3,530.9 727.4,531.0 729.7,532.2 729.7,532.2 732.0,533.5 732.0,533.5 734.3,534.8 734.4,534.8 736.7,536.1 736.8,536.2 739.1,537.5 739.1,537.5 741.5,538.9 741.5,538.9 743.8,540.3 743.9,540.3 746.2,541.6 746.2,541.7 748.5,543.0 748.6,543.0 750.9,544.4 750.9,544.4 753.2,545.8 753.2,545.8 755.4,547.1 757.6,548.4 759.8,549.7 761.8,551.0 761.9,551.0 764.0,552.2 764.0,552.2 766.1,553.5 766.2,553.6 768.3,554.9 768.4,554.9 770.6,556.3 770.6,556.3 772.8,557.6 772.8,557.6 775.0,559.0 775.0,559.0 777.1,560.3 777.1,560.3 779.2,561.6 779.2,561.6 781.2,562.9 783.1,564.1 785.0,565.3 786.7,566.3 788.2,567.3 789.6,568.2 790.7,568.9 813.1,520.7 813.0,520.7 811.9,520.2 810.7,519.6 809.3,519.0 807.9,518.3 806.3,517.6 804.6,516.8 802.8,515.9 801.0,515.1 799.2,514.2 797.3,513.3 795.3,512.4 793.4,511.5 791.5,510.6 789.6,509.7 787.8,508.9 785.9,508.0 784.0,507.1 782.0,506.2 780.0,505.3 777.9,504.3 775.8,503.4 773.7,502.4 771.6,501.4 769.4,500.5 767.3,499.5 765.2,498.5 763.1,497.6 763.1,497.6 761.1,496.6 761.1,496.6 759.1,495.7 759.1,495.7 757.2,494.8 757.2,494.8 755.3,494.0 755.3,494.0 753.6,493.1 751.9,492.3 750.2,491.6 748.6,490.8 747.0,490.0 747.0,490.0 745.4,489.3 745.4,489.3 743.9,488.6 743.8,488.6 742.3,487.8 742.3,487.8 740.8,487.1 740.8,487.1 739.3,486.4 739.3,486.4 737.8,485.7 737.8,485.6 736.3,484.9 736.2,484.9 734.7,484.2 734.7,484.2 733.2,483.4 733.2,483.4 731.6,482.6 731.6,482.6 730.0,481.8 728.5,481.0 726.9,480.2 725.3,479.4 723.7,478.6 723.7,478.6 722.1,477.8 722.1,477.8 720.5,477.0 720.5,477.0 718.9,476.1 718.8,476.1 717.2,475.3 717.2,475.3 715.6,474.4 715.5,474.4 713.9,473.6 713.9,473.5 712.3,472.7 712.2,472.6 710.6,471.7 710.6,471.7 709.0,470.8 708.9,470.8 707.4,469.9 707.2,469.8 705.7,468.9 705.6,468.8 704.1,467.9 704.0,467.8 702.4,466.9 702.3,466.8 700.8,465.8 700.7,465.7 699.1,464.7 699.0,464.7 697.4,463.6 697.4,463.6 695.8,462.5 695.7,462.4 694.1,461.3 694.1,461.3 692.5,460.2 692.4,460.2 690.9,459.1 690.8,459.0 689.3,457.9 689.2,457.9 687.8,456.8 687.7,456.8 686.3,455.7 686.2,455.6 684.8,454.6 684.8,454.6 683.4,453.6 683.4,453.5 682.1,452.5 682.0,452.5 680.8,451.6 680.8,451.5 679.7,450.6 679.6,450.6 678.6,449.7 678.5,449.7 677.5,448.9 677.5,448.8 676.6,448.1 676.5,448.0 675.7,447.3 675.5,447.2 674.8,446.5 674.6,446.4 673.9,445.8 673.8,445.6 673.1,445.0 672.9,444.8 672.3,444.2 672.1,444.0 671.5,443.4 671.4,443.2 670.8,442.6 670.6,442.4 670.1,441.8 669.9,441.6 669.4,441.0 669.2,440.8 668.7,440.2 668.5,440.0 668.0,439.3 667.9,439.1 667.4,438.5 667.3,438.3 666.8,437.6 666.6,437.4 666.1,436.7 666.0,436.5 665.5,435.7 665.4,435.5 664.9,434.8 664.8,434.5 664.4,433.8 664.2,433.6 663.8,432.9 663.7,432.6 663.3,431.9 663.2,431.6 662.9,431.0 662.9,430.9 662.4,430.5 662.0,430.0 661.6,429.6 661.2,429.1 660.8,428.7 660.5,428.2 660.1,427.7 659.8,427.2 659.4,426.6 659.0,426.0 658.6,425.3 658.2,424.6 657.8,423.9 657.4,423.1 657.0,422.3 656.6,421.5 656.2,420.7 655.7,419.8 655.3,418.9 654.9,417.9 654.5,417.0 654.0,416.0 653.5,415.0 653.1,414.0 652.6,413.0 652.1,411.9 651.7,410.9 651.2,409.8 650.7,408.6 650.2,407.4 649.7,406.2 649.1,404.8 648.6,403.5 648.0,402.0 647.4,400.4 646.7,398.5 646.0,396.5 645.2,394.4 644.4,392.3 643.6,390.1 642.9,388.0 642.1,386.0 641.5,384.1 640.9,382.5 640.4,381.1 640.0,380.0 634.0,410.0 622.0,470.0 620.0,507.0 619.1,515.7 619.4,515.3 619.4,515.3 620.0,514.5 620.0,514.4 620.6,513.6 620.6,513.6 621.2,512.8 621.2,512.8 621.8,512.0 621.8,512.0 622.3,511.3 622.3,511.3 622.8,510.6 622.8,510.6 623.3,509.9 623.8,509.3 624.2,508.7 624.6,508.3 624.9,507.9 625.1,507.5 625.8,506.7Z" fill="#eed192"/>
<path d="M633.9,338.9 633.5,337.0 633.1,335.1 632.7,333.2 632.3,331.4 632.0,329.7 631.6,327.9 631.2,326.3 630.8,324.6 630.3,323.0 629.9,321.5 629.4,319.9 628.9,318.4 628.4,316.9 627.9,315.3 627.4,313.8 626.9,312.2 626.3,310.5 625.7,308.9 625.1,307.2 624.5,305.4 623.8,303.7 623.2,301.9 622.5,300.1 621.9,298.3 621.2,296.4 620.5,294.6 619.8,292.7 619.1,290.8 618.4,289.0 617.8,287.2 617.1,285.5 616.4,283.8 615.8,282.2 615.1,280.5 614.3,278.9 613.6,277.3 612.8,275.7 611.9,274.0 610.9,272.3 610.0,270.4 608.9,268.5 607.9,266.7 607.0,264.8 606.1,263.0 605.2,261.3 604.3,259.6 603.4,257.9 602.5,256.3 601.7,254.8 600.8,253.2 600.0,251.8 599.1,250.3 598.2,248.9 597.4,247.5 596.5,246.3 595.7,245.0 594.8,243.8 594.0,242.7 593.0,241.6 592.1,240.4 591.0,239.2 589.9,238.1 588.8,236.8 587.6,235.6 586.4,234.4 585.2,233.3 584.0,232.1 582.7,230.9 581.5,229.8 580.2,228.7 578.9,227.5 577.6,226.4 576.2,225.3 574.8,224.2 573.5,223.2 572.1,222.1 570.7,221.0 569.2,220.0 567.8,218.9 566.3,217.9 564.8,216.9 563.4,215.9 561.9,214.9 560.4,213.9 558.9,213.0 557.4,212.0 555.8,211.1 554.3,210.1 552.7,209.2 551.1,208.3 549.5,207.4 547.9,206.5 546.3,205.6 544.6,204.7 543.0,203.8 541.4,203.0 539.7,202.1 538.0,201.2 536.4,200.4 534.7,199.5 533.0,198.7 531.3,197.9 529.6,197.1 527.9,196.3 526.2,195.5 524.5,194.7 522.8,193.9 521.1,193.2 519.4,192.4 517.7,191.7 516.0,191.0 514.3,190.2 512.6,189.5 510.8,188.9 509.1,188.2 507.4,187.5 505.7,186.8 503.9,186.2 502.2,185.6 500.5,184.9 498.7,184.3 497.0,183.7 495.2,183.2 493.5,182.6 491.7,182.0 490.0,181.5 488.2,180.9 486.4,180.4 484.7,179.9 482.9,179.4 481.1,178.9 479.3,178.4 477.6,178.0 475.8,177.5 474.0,177.1 472.2,176.7 470.4,176.3 468.6,175.9 466.9,175.5 465.0,175.1 463.3,174.8 461.5,174.4 459.9,174.1 460.9,174.4 461.0,174.5 462.2,174.9 462.4,175.0 463.6,175.5 463.7,175.6 464.8,176.1 465.0,176.2 465.9,176.8 466.1,176.9 467.0,177.6 467.1,177.7 468.0,178.3 468.1,178.4 468.9,179.1 469.0,179.2 469.7,179.9 469.8,180.0 470.6,180.8 470.6,180.8 471.4,181.6 471.4,181.6 472.1,182.4 472.9,183.3 472.9,183.3 473.7,184.2 473.8,184.3 474.5,185.2 474.6,185.3 475.3,186.2 475.3,186.3 476.0,187.2 476.1,187.3 476.7,188.3 476.8,188.3 477.4,189.4 477.4,189.4 478.1,190.4 478.1,190.5 478.7,191.5 478.7,191.5 479.3,192.6 480.0,193.6 480.6,194.7 481.2,195.7 481.9,196.8 481.9,196.8 482.6,197.9 482.6,197.9 483.3,199.0 483.3,199.1 484.0,200.2 484.0,200.2 484.6,201.3 484.6,201.3 485.3,202.5 486.0,203.6 486.6,204.8 487.3,205.9 487.9,207.0 488.6,208.1 489.2,209.1 489.9,210.2 489.9,210.2 490.6,211.2 491.2,212.3 491.9,213.3 492.6,214.4 493.2,215.4 493.9,216.4 494.5,217.4 495.2,218.3 495.8,219.2 496.4,220.0 497.1,220.8 497.7,221.6 498.3,222.4 498.9,223.1 499.5,223.8 500.1,224.4 500.7,225.0 501.3,225.6 501.9,226.2 502.5,226.7 503.1,227.2 503.8,227.8 504.5,228.3 505.2,228.8 505.8,229.2 506.5,229.6 507.2,230.0 507.9,230.4 508.6,230.8 509.4,231.2 510.2,231.5 511.1,231.9 512.1,232.3 513.1,232.7 514.3,233.2 515.6,233.6 517.0,234.1 518.4,234.6 519.9,235.0 521.5,235.5 523.1,236.0 524.8,236.5 526.6,237.0 528.4,237.5 530.3,238.0 530.3,238.0 532.2,238.6 532.2,238.6 534.1,239.1 536.1,239.7 538.3,240.3 540.5,240.9 542.8,241.5 545.2,242.2 547.6,242.8 547.6,242.8 549.9,243.5 550.0,243.5 552.3,244.1 552.3,244.1 554.6,244.8 554.6,244.8 556.8,245.4 556.8,245.4 558.9,246.0 559.0,246.0 560.9,246.6 560.9,246.6 562.7,247.2 564.4,247.7 566.0,248.2 566.0,248.2 567.5,248.7 567.5,248.7 569.0,249.1 569.0,249.1 570.5,249.6 570.5,249.6 571.9,250.1 572.0,250.2 573.4,250.7 573.5,250.7 574.9,251.3 575.0,251.4 576.4,252.0 576.5,252.1 577.9,252.8 578.0,252.9 579.5,253.7 579.5,253.7 581.1,254.6 581.1,254.6 582.6,255.6 582.7,255.6 584.3,256.6 584.3,256.6 585.9,257.7 586.0,257.7 587.6,258.8 587.6,258.9 589.2,260.0 589.3,260.1 590.8,261.3 590.9,261.4 592.5,262.6 592.5,262.7 594.0,264.0 594.1,264.1 595.6,265.5 595.7,265.6 597.1,267.1 597.2,267.2 598.5,268.7 598.6,268.9 599.8,270.5 599.9,270.7 601.1,272.4 601.2,272.5 602.4,274.4 602.4,274.5 603.5,276.4 603.6,276.5 604.6,278.5 604.7,278.6 605.7,280.6 605.7,280.7 606.7,282.8 606.8,282.8 607.7,284.9 607.7,284.9 608.7,287.0 609.7,289.0 610.6,291.0 611.5,292.9 612.4,294.8 612.4,294.8 613.3,296.7 613.3,296.8 614.2,298.7 614.2,298.7 615.0,300.6 615.0,300.6 615.8,302.5 615.8,302.5 616.6,304.3 616.6,304.3 617.4,306.2 618.2,308.0 618.9,309.7 619.7,311.4 620.4,313.1 621.2,314.7 622.0,316.3 622.8,317.8 623.5,319.3 624.3,320.8 625.1,322.2 625.9,323.7 626.7,325.1 626.7,325.1 627.4,326.4 627.5,326.4 628.2,327.8 628.2,327.8 628.9,329.1 628.9,329.1 629.6,330.4 629.6,330.4 630.2,331.7 630.2,331.7 630.8,332.9 630.8,332.9 631.3,334.0 631.3,334.0 631.8,335.1 631.8,335.1 632.3,336.2 632.3,336.2 632.7,337.2 632.8,337.2 633.2,338.2 633.2,338.2 633.6,339.2 633.6,339.2 634.0,340.2 634.0,340.2 634.3,341.1 634.3,340.7ZM448.8,172.4 447.0,172.2 445.2,172.0 443.4,171.7 441.6,171.6 439.8,171.4 438.0,171.2 436.2,171.1 434.3,171.0 432.5,170.8 430.7,170.7 428.9,170.6 427.1,170.6 425.3,170.5 423.5,170.5 421.8,170.5 420.0,170.5 418.2,170.5 416.4,170.5 414.7,170.6 412.8,170.6 411.0,170.7 409.2,170.8 407.4,170.9 405.5,171.0 403.7,171.2 401.8,171.3 400.0,171.5 400.0,172.5 402.0,172.5 404.5,172.5 407.6,172.4 411.1,172.4 414.8,172.3 414.8,172.3 418.7,172.3 418.7,172.3 422.7,172.2 422.7,172.2 426.6,172.2 426.7,172.2 430.5,172.2 430.5,172.2 434.0,172.2 434.1,172.2 437.3,172.2 437.3,172.2 440.1,172.3 440.1,172.3 442.5,172.4 444.7,172.4 444.7,172.4 446.7,172.5 446.7,172.5 448.6,172.6 448.7,172.6 450.4,172.7 450.4,172.7 451.2,172.7 450.6,172.6Z" fill="url(#gDet)"/>
<path d="M402.0,179.4 404.6,179.4 404.6,179.4 407.7,179.3 411.2,179.3 414.9,179.2 418.8,179.2 422.8,179.1 426.7,179.1 430.5,179.1 434.0,179.1 437.2,179.1 439.9,179.2 442.3,179.3 444.5,179.3 446.5,179.4 448.3,179.5 450.0,179.6 451.5,179.7 452.9,179.8 454.2,180.0 455.4,180.2 456.6,180.4 457.7,180.7 458.8,181.0 459.8,181.4 460.7,181.8 461.5,182.2 462.2,182.6 462.9,183.1 463.6,183.7 464.3,184.3 464.9,184.9 465.6,185.6 466.3,186.3 467.1,187.1 467.8,187.9 468.5,188.7 469.1,189.5 469.7,190.3 470.3,191.1 471.0,192.1 471.6,193.0 472.2,194.0 472.8,195.0 473.4,196.1 473.4,196.1 474.0,197.2 474.1,197.2 474.7,198.3 474.7,198.3 475.4,199.4 475.4,199.4 476.0,200.4 476.7,201.5 477.3,202.6 478.0,203.7 478.7,204.8 479.3,206.0 480.0,207.1 480.0,207.1 480.7,208.3 480.7,208.3 481.3,209.4 481.4,209.4 482.0,210.5 482.0,210.6 482.7,211.7 482.7,211.7 483.4,212.8 483.4,212.8 484.1,213.8 484.7,214.9 485.4,216.0 485.4,216.0 486.1,217.0 486.1,217.0 486.7,218.1 486.8,218.1 487.4,219.1 487.4,219.2 488.1,220.2 488.1,220.2 488.8,221.2 488.8,221.3 489.5,222.2 489.5,222.3 490.2,223.2 490.2,223.3 490.9,224.2 491.0,224.2 491.6,225.1 491.7,225.2 492.3,226.0 492.4,226.0 493.0,226.8 493.0,226.8 493.7,227.6 493.7,227.6 494.3,228.3 494.4,228.4 495.0,229.1 495.1,229.1 495.7,229.8 495.8,229.9 496.4,230.5 496.5,230.6 497.2,231.2 497.2,231.3 497.9,231.9 498.0,232.0 498.7,232.6 498.8,232.6 499.5,233.2 499.6,233.3 500.4,233.8 500.5,233.9 501.2,234.4 501.3,234.5 502.0,235.0 502.1,235.0 502.9,235.5 503.0,235.6 503.7,236.0 503.8,236.1 504.6,236.5 504.7,236.5 505.5,236.9 505.6,237.0 506.4,237.4 506.5,237.4 507.4,237.8 507.4,237.9 508.4,238.3 508.5,238.3 509.5,238.7 509.5,238.7 510.7,239.2 510.7,239.2 511.9,239.7 512.0,239.7 513.3,240.1 513.4,240.2 514.8,240.6 514.8,240.7 516.3,241.1 516.3,241.1 517.9,241.6 517.9,241.6 519.5,242.1 519.5,242.1 521.2,242.6 521.2,242.6 522.9,243.1 522.9,243.1 524.7,243.6 524.7,243.6 526.5,244.1 528.4,244.7 530.3,245.2 532.2,245.7 532.2,245.8 534.2,246.3 534.3,246.3 536.4,246.9 536.4,246.9 538.7,247.5 538.7,247.5 541.0,248.2 543.4,248.8 545.8,249.5 548.1,250.1 550.4,250.8 552.7,251.4 554.9,252.0 556.9,252.6 558.8,253.2 560.6,253.8 560.7,253.8 562.4,254.3 562.4,254.3 564.0,254.8 565.5,255.3 566.9,255.7 568.3,256.2 569.6,256.6 570.8,257.1 572.1,257.6 573.4,258.2 574.7,258.9 576.1,259.7 577.5,260.5 579.0,261.5 580.6,262.4 582.1,263.4 583.6,264.5 585.1,265.6 586.6,266.7 588.0,267.9 589.4,269.1 590.7,270.4 592.0,271.8 593.2,273.2 594.3,274.6 595.4,276.2 596.5,278.0 597.5,279.8 598.5,281.7 599.5,283.7 600.5,285.7 601.5,287.8 602.4,289.9 603.4,291.9 603.4,291.9 604.3,293.9 604.4,294.0 605.3,295.9 606.2,297.8 607.0,299.6 607.9,301.5 608.7,303.3 609.5,305.2 610.3,307.0 611.1,308.9 611.1,308.9 611.8,310.7 611.8,310.7 612.6,312.5 612.6,312.5 613.4,314.2 613.4,314.3 614.2,316.0 614.2,316.0 615.0,317.7 615.0,317.7 615.8,319.3 615.8,319.4 616.6,320.9 616.6,321.0 617.4,322.5 617.5,322.5 618.3,324.1 618.3,324.1 619.1,325.5 619.1,325.6 619.9,327.0 619.9,327.0 620.7,328.4 621.4,329.8 622.1,331.1 622.8,332.3 623.4,333.5 624.0,334.7 624.5,335.9 625.1,337.0 625.5,338.0 626.0,339.0 626.4,340.0 626.8,340.9 627.2,341.8 627.5,342.7 627.9,343.5 628.2,344.4 628.5,345.3 628.8,346.2 629.1,347.0 629.3,347.9 629.5,348.7 629.7,349.5 629.9,350.2 630.0,351.0 630.2,351.8 630.3,352.7 630.5,353.5 630.6,354.5 630.8,355.5 630.9,356.6 631.1,357.7 631.3,358.8 631.4,360.0 631.5,361.2 631.7,362.4 631.8,363.7 632.0,365.0 632.1,366.3 632.2,367.7 632.4,369.2 632.5,370.7 632.6,372.3 632.7,373.9 632.8,375.6 632.9,377.4 633.0,379.3 633.1,381.2 633.2,383.1 633.2,383.1 633.3,385.1 633.3,385.1 633.4,387.1 633.4,387.2 633.6,389.2 633.6,389.2 633.7,391.3 633.7,391.3 633.9,393.3 633.9,393.4 634.1,395.4 634.1,395.5 634.4,397.6 634.4,397.6 634.7,399.9 634.7,399.9 635.1,402.3 635.1,402.3 635.4,404.7 635.4,404.7 635.8,407.2 635.8,407.2 636.2,409.6 636.2,409.6 636.6,411.9 636.6,411.9 637.0,414.1 637.0,414.1 637.4,416.1 637.7,417.9 638.0,419.4 638.2,420.6 643.4,419.8 643.4,419.6 643.2,418.0 643.0,416.2 642.8,414.4 642.6,412.5 642.3,410.6 642.0,408.5 641.8,406.4 641.5,404.3 641.3,402.2 641.0,400.2 640.8,398.2 640.6,396.2 640.4,394.2 640.1,392.1 639.9,390.0 639.7,387.8 639.5,385.5 639.3,383.2 639.2,380.9 639.1,378.6 639.0,376.4 638.9,374.4 638.9,372.5 638.8,370.6 638.7,368.9 638.6,367.3 638.5,365.7 638.3,364.1 638.1,362.5 637.9,360.8 637.7,359.0 637.4,357.2 637.1,355.4 636.8,353.5 636.6,351.7 636.2,349.9 635.9,348.0 635.6,346.2 635.3,344.4 634.9,342.5 634.6,340.7 634.2,338.8 634.0,337.8 633.6,336.9 633.6,336.8 633.1,335.8 633.1,335.8 632.6,334.8 632.6,334.7 632.1,333.7 632.1,333.6 631.6,332.5 631.6,332.5 631.0,331.3 631.0,331.3 630.4,330.0 630.4,330.0 629.7,328.7 629.7,328.7 629.0,327.4 629.0,327.3 628.2,326.0 628.2,326.0 627.5,324.6 627.5,324.6 626.7,323.2 625.9,321.8 625.1,320.4 624.3,318.9 623.6,317.4 622.8,315.9 622.0,314.3 621.3,312.7 620.5,311.1 619.8,309.4 619.0,307.6 618.2,305.8 617.5,304.0 617.5,304.0 616.7,302.1 616.7,302.1 615.9,300.2 615.8,300.2 615.0,298.3 615.0,298.3 614.1,296.4 614.1,296.3 613.2,294.4 613.2,294.4 612.3,292.5 611.4,290.6 610.5,288.6 609.5,286.6 608.6,284.5 608.6,284.5 607.6,282.4 607.5,282.4 606.5,280.3 606.5,280.2 605.5,278.2 605.4,278.1 604.4,276.1 604.3,276.0 603.2,274.0 603.1,273.9 602.0,272.1 601.9,271.9 600.7,270.1 600.6,270.0 599.3,268.3 599.2,268.2 597.8,266.6 597.7,266.5 596.3,265.0 596.2,264.9 594.8,263.5 594.6,263.4 593.1,262.0 593.0,261.9 591.5,260.7 591.4,260.6 589.8,259.4 589.7,259.3 588.2,258.1 588.1,258.1 586.5,257.0 586.4,256.9 584.8,255.9 584.7,255.9 583.2,254.9 583.1,254.8 581.6,253.9 581.5,253.8 580.0,252.9 579.9,252.9 578.4,252.1 578.3,252.0 576.9,251.3 576.7,251.2 575.3,250.5 575.2,250.5 573.8,249.9 573.7,249.9 572.3,249.3 572.2,249.3 570.8,248.8 570.8,248.8 569.3,248.3 569.3,248.3 567.8,247.8 567.8,247.8 566.2,247.3 566.2,247.3 564.6,246.9 563.0,246.3 561.2,245.8 561.2,245.8 559.2,245.2 559.2,245.2 557.1,244.5 557.1,244.5 554.9,243.9 554.8,243.9 552.6,243.2 552.5,243.2 550.2,242.6 550.2,242.6 547.8,241.9 547.8,241.9 545.4,241.3 543.0,240.7 540.7,240.0 538.5,239.4 536.4,238.8 534.4,238.3 532.4,237.7 532.4,237.7 530.5,237.2 530.5,237.2 528.7,236.6 526.9,236.1 525.1,235.6 523.4,235.1 521.7,234.6 520.2,234.2 518.7,233.7 517.2,233.2 515.9,232.8 514.6,232.3 513.5,231.9 512.4,231.5 511.4,231.1 510.5,230.7 509.7,230.3 509.0,230.0 508.3,229.6 507.6,229.3 507.0,228.9 506.3,228.5 505.7,228.0 505.0,227.5 504.3,227.0 503.7,226.5 503.1,226.0 502.5,225.5 501.9,225.0 501.3,224.4 500.8,223.8 500.2,223.2 499.6,222.5 499.0,221.8 498.4,221.0 497.8,220.3 497.1,219.5 496.5,218.7 495.9,217.8 495.3,216.9 494.6,215.9 494.0,214.9 493.3,213.9 492.7,212.9 492.0,211.8 491.3,210.8 490.7,209.7 490.7,209.7 490.0,208.6 489.4,207.6 488.7,206.5 488.1,205.4 487.4,204.3 486.7,203.2 486.1,202.0 485.4,200.9 485.4,200.9 484.7,199.7 484.7,199.7 484.1,198.6 484.0,198.6 483.4,197.5 483.4,197.4 482.7,196.3 482.7,196.3 482.0,195.2 481.4,194.2 480.7,193.2 480.1,192.1 479.5,191.1 479.5,191.0 478.8,190.0 478.8,190.0 478.2,188.9 478.2,188.9 477.5,187.9 477.5,187.8 476.8,186.8 476.8,186.7 476.1,185.7 476.0,185.6 475.3,184.7 475.2,184.6 474.5,183.7 474.4,183.6 473.6,182.7 473.6,182.6 472.8,181.8 472.0,181.0 472.0,181.0 471.3,180.2 471.2,180.1 470.5,179.4 470.4,179.3 469.6,178.6 469.5,178.4 468.7,177.7 468.5,177.6 467.7,176.9 467.5,176.8 466.6,176.2 466.4,176.0 465.4,175.5 465.2,175.3 464.2,174.8 463.9,174.7 463.6,174.5 463.3,174.5 461.5,174.1 459.7,173.8 457.9,173.5 456.1,173.2 454.3,172.9 452.5,172.6 450.7,172.4 448.9,172.1 447.1,171.9 445.2,171.7 444.0,171.5 442.5,171.5 440.1,171.4 440.1,171.4 437.3,171.3 437.3,171.3 434.1,171.3 434.0,171.3 430.5,171.3 430.5,171.3 426.7,171.3 426.6,171.3 422.7,171.3 422.7,171.3 418.7,171.4 418.7,171.4 414.8,171.4 414.8,171.4 411.1,171.5 407.6,171.5 404.5,171.6 402.0,171.6 400.0,171.6 400.0,179.4 402.0,179.4Z" fill="#eed192"/>
<path d="M633.6,415.6 633.3,413.7 633.1,411.8 632.8,409.7 632.5,407.5 632.3,405.4 632.0,403.2 631.8,401.2 631.6,399.2 631.4,397.3 631.1,395.2 630.9,393.1 630.7,390.9 630.4,388.6 630.2,386.3 630.0,383.9 629.9,381.4 629.8,379.0 629.7,376.8 629.6,374.7 629.6,372.8 629.5,371.1 629.4,369.5 629.3,368.0 629.2,366.5 629.1,365.1 628.9,363.6 628.7,362.0 628.4,360.3 628.2,358.5 627.9,356.8 627.7,355.0 627.4,353.2 627.1,351.4 626.8,349.6 626.5,347.9 626.1,346.1 625.8,344.3 625.4,342.5 625.1,340.6 624.7,338.8 624.3,336.9 623.9,335.1 623.8,334.6 623.3,333.6 622.7,332.4 622.0,331.1 621.3,329.8 620.6,328.4 619.8,327.0 619.8,327.0 619.0,325.6 619.0,325.6 618.2,324.1 618.2,324.1 617.4,322.6 617.4,322.6 616.5,321.0 616.5,321.0 615.7,319.4 615.7,319.4 614.9,317.8 614.9,317.7 614.1,316.1 614.1,316.0 613.3,314.3 613.3,314.3 612.5,312.5 612.5,312.5 611.8,310.7 611.7,310.7 611.0,308.9 611.0,308.9 610.2,307.1 609.4,305.2 608.6,303.4 607.8,301.5 607.0,299.7 606.1,297.8 605.2,295.9 604.3,294.0 604.2,294.0 603.3,292.0 603.3,292.0 602.4,289.9 601.4,287.8 600.4,285.8 599.4,283.8 598.4,281.8 597.4,279.9 596.4,278.0 595.3,276.3 594.2,274.7 593.1,273.2 591.9,271.8 590.6,270.5 589.3,269.2 587.9,268.0 586.5,266.8 585.0,265.7 583.5,264.6 582.0,263.5 580.5,262.5 579.0,261.6 577.5,260.6 576.0,259.8 574.6,259.0 573.3,258.3 572.1,257.7 570.8,257.2 569.5,256.7 568.2,256.3 566.9,255.8 565.5,255.4 563.9,254.9 562.3,254.4 562.3,254.4 560.6,253.9 560.6,253.9 558.8,253.3 556.9,252.7 554.8,252.1 552.7,251.5 550.4,250.8 548.1,250.2 545.7,249.6 543.3,248.9 541.0,248.3 538.7,247.6 538.7,247.6 536.4,247.0 536.4,247.0 534.2,246.4 534.2,246.4 532.2,245.8 532.2,245.8 530.3,245.3 528.4,244.8 526.5,244.2 524.7,243.7 524.7,243.7 522.9,243.2 522.9,243.2 521.2,242.7 521.2,242.7 519.5,242.2 519.5,242.2 517.9,241.7 517.8,241.7 516.3,241.2 516.3,241.2 514.8,240.7 514.7,240.7 513.3,240.3 513.3,240.2 512.0,239.8 511.9,239.7 510.7,239.3 510.6,239.3 509.5,238.8 509.5,238.8 508.4,238.4 508.4,238.4 507.4,238.0 507.3,237.9 506.4,237.5 506.3,237.5 505.5,237.1 505.4,237.0 504.6,236.6 504.5,236.6 503.8,236.1 503.7,236.1 502.9,235.6 502.8,235.6 502.1,235.1 502.0,235.1 501.2,234.6 501.2,234.5 500.4,234.0 500.3,233.9 499.6,233.4 499.5,233.3 498.7,232.7 498.6,232.6 497.9,232.0 497.9,232.0 497.2,231.4 497.1,231.3 496.4,230.7 496.4,230.6 495.7,230.0 495.6,229.9 495.0,229.2 494.9,229.2 494.3,228.5 494.3,228.4 493.6,227.7 493.6,227.6 493.0,226.9 492.9,226.8 492.3,226.1 492.2,226.0 491.6,225.2 491.5,225.2 490.9,224.3 490.8,224.2 490.2,223.3 490.1,223.3 489.4,222.3 489.4,222.3 488.7,221.3 488.7,221.3 488.0,220.3 488.0,220.2 487.4,219.2 487.3,219.2 486.7,218.2 486.7,218.1 486.0,217.1 486.0,217.1 485.3,216.0 485.3,216.0 484.6,214.9 484.0,213.9 483.3,212.8 483.3,212.8 482.6,211.7 482.6,211.7 481.9,210.6 481.9,210.6 481.3,209.5 481.3,209.4 480.6,208.3 480.6,208.3 479.9,207.2 479.9,207.2 479.2,206.0 478.6,204.9 477.9,203.7 477.3,202.6 476.6,201.5 476.0,200.5 475.3,199.4 475.3,199.4 474.6,198.3 474.6,198.3 474.0,197.2 474.0,197.2 473.3,196.2 473.3,196.2 472.7,195.1 472.1,194.1 471.5,193.1 470.9,192.1 470.3,191.2 469.7,190.3 469.0,189.5 468.4,188.7 467.7,188.0 467.0,187.2 466.3,186.4 465.6,185.7 464.9,185.0 464.2,184.3 463.5,183.7 463.1,183.4 461.6,183.1 459.9,182.8 458.2,182.5 456.4,182.2 454.7,181.9 452.9,181.6 451.2,181.3 449.5,181.1 447.7,180.8 446.0,180.6 445.0,180.5 445.0,179.5 444.5,179.4 442.3,179.4 439.9,179.3 437.2,179.2 434.0,179.2 430.5,179.2 426.7,179.2 422.8,179.2 418.8,179.3 414.9,179.3 411.2,179.4 407.7,179.4 407.6,179.4 406.1,179.5 406.1,179.5 404.1,179.6 400.6,179.8 397.0,180.1 393.4,180.3 389.9,180.6 386.5,181.0 383.2,181.4 380.0,181.8 376.9,182.3 373.8,182.9 370.7,183.5 367.7,184.2 364.6,184.9 361.7,185.7 358.8,186.4 356.0,187.2 353.3,187.9 350.7,188.6 348.3,189.2 346.0,189.8 343.8,190.3 341.7,190.9 339.8,191.4 337.9,191.9 336.1,192.3 334.4,192.8 332.8,193.2 331.4,193.6 330.1,194.0 328.9,194.3 328.4,194.4 327.2,195.8 325.8,197.2 324.3,198.4 322.8,199.4 321.3,200.2 319.8,200.9 318.4,201.6 316.9,202.3 315.6,203.1 314.2,203.9 313.0,205.0 311.8,206.1 310.7,207.3 309.6,208.4 308.5,209.5 307.4,210.6 306.4,211.8 305.5,212.9 304.5,214.2 303.6,215.5 302.7,216.9 301.8,218.4 301.0,220.0 300.2,221.7 299.4,223.6 298.6,225.5 297.9,227.6 297.1,229.7 296.4,231.9 295.8,234.1 295.1,236.3 294.6,238.5 294.0,240.7 293.5,242.9 293.0,245.0 292.6,247.1 292.2,249.1 291.9,251.1 291.6,253.1 291.3,255.2 291.1,257.2 290.9,259.2 290.7,261.3 290.5,263.4 290.4,265.5 290.2,267.7 290.0,270.0 289.8,271.8 289.6,273.0 289.5,273.6 289.3,274.1 289.2,274.6 289.0,275.3 288.9,276.6 288.8,278.7 288.7,281.8 288.6,286.3 288.6,292.2 288.5,300.0 288.5,310.2 288.4,323.1 288.4,338.0 288.4,354.4 288.4,372.0 288.5,390.0 288.5,408.0 288.6,425.6 288.7,442.0 288.7,456.9 288.9,469.8 289.0,480.0 289.2,487.8 289.3,493.7 289.5,498.0 289.7,501.1 290.0,503.1 290.2,504.4 290.5,505.1 290.8,505.6 291.1,506.0 291.4,506.7 291.7,508.0 292.0,510.0 292.3,512.5 292.7,515.2 293.0,517.8 293.4,520.5 293.8,523.2 294.2,525.9 294.6,528.5 295.0,531.0 295.5,533.5 296.0,535.8 296.5,538.0 297.0,540.0 297.6,541.8 298.2,543.5 298.8,545.0 299.4,546.4 300.1,547.8 300.8,549.0 301.5,550.2 302.2,551.3 302.9,552.5 303.6,553.6 304.3,554.8 305.0,556.0 305.7,557.2 306.3,558.4 306.9,559.6 307.6,560.7 308.2,561.8 308.8,562.9 309.5,564.0 310.1,565.2 310.9,566.3 311.6,567.5 312.4,568.7 313.3,570.0 314.2,571.3 315.2,572.7 316.1,574.1 317.1,575.6 318.2,577.0 319.3,578.5 320.4,580.0 321.6,581.5 322.8,583.0 324.0,584.5 325.3,585.9 326.7,587.3 328.2,588.7 329.7,590.1 331.4,591.5 333.1,593.0 334.8,594.4 336.6,595.8 338.4,597.2 340.2,598.5 341.9,599.8 343.6,601.0 345.2,602.2 346.7,603.3 348.1,604.3 349.5,605.1 350.8,605.8 351.7,606.2 353.1,606.7 354.8,607.2 356.5,607.8 358.3,608.3 360.1,608.9 361.9,609.4 363.7,609.9 365.5,610.4 367.3,610.9 369.1,611.3 371.0,611.7 372.8,612.1 374.6,612.4 376.5,612.7 378.3,613.0 380.1,613.3 382.0,613.5 383.9,613.8 385.8,614.0 387.7,614.2 389.5,614.4 391.3,614.6 393.1,614.7 394.8,614.9 396.4,615.0 398.1,615.1 399.7,615.2 401.3,615.3 403.0,615.3 404.6,615.4 406.3,615.5 407.9,615.6 409.6,615.7 411.3,615.8 413.0,615.9 414.7,616.0 416.5,616.1 418.3,616.2 420.2,616.3 422.0,616.4 423.9,616.4 425.7,616.5 427.6,616.5 429.5,616.6 431.4,616.6 433.3,616.6 435.2,616.7 437.1,616.7 439.1,616.7 441.0,616.7 442.9,616.7 444.8,616.7 446.7,616.7 448.6,616.7 450.4,616.7 452.3,616.7 454.0,616.6 455.8,616.6 457.4,616.5 459.0,616.4 460.5,616.3 462.0,616.2 463.5,616.1 465.0,615.9 466.6,615.7 468.2,615.5 469.9,615.3 471.6,615.0 473.3,614.8 475.0,614.6 476.7,614.3 478.4,614.1 480.1,613.8 481.8,613.6 483.5,613.3 485.2,613.0 486.9,612.8 488.6,612.5 490.2,612.2 491.8,611.9 493.5,611.6 495.1,611.3 496.8,611.0 498.4,610.6 500.1,610.2 501.7,609.9 503.3,609.5 504.9,609.1 506.5,608.7 508.2,608.2 509.8,607.8 511.4,607.3 513.0,606.8 514.6,606.3 516.2,605.8 517.9,605.2 519.5,604.6 521.1,604.0 522.8,603.3 524.4,602.7 526.0,602.0 527.7,601.3 529.3,600.6 530.9,599.9 532.5,599.2 534.1,598.4 535.7,597.6 537.2,596.8 538.8,596.0 540.3,595.2 541.7,594.4 543.2,593.6 544.6,592.7 546.1,591.8 547.6,590.8 549.0,589.8 550.5,588.8 552.0,587.8 553.4,586.7 554.9,585.6 556.4,584.5 557.8,583.3 559.3,582.2 560.7,581.1 562.0,580.0 563.3,578.9 564.5,577.7 565.8,576.6 565.9,576.5 566.3,576.0 567.6,574.5 568.7,573.0 569.9,571.5 571.0,570.0 572.1,568.4 573.1,566.9 574.1,565.4 575.0,563.9 576.0,562.4 576.9,560.9 577.8,559.4 578.6,557.9 579.5,556.5 580.3,555.0 581.2,553.5 582.0,552.0 582.8,550.5 583.6,549.0 584.4,547.4 585.1,545.9 585.9,544.3 586.6,542.8 587.4,541.3 588.1,539.8 588.8,538.3 589.5,536.8 590.3,535.4 591.0,534.0 591.8,532.6 592.5,531.3 593.2,530.0 594.0,528.8 594.8,527.5 595.5,526.3 596.2,525.1 597.0,523.9 597.8,522.7 598.5,521.5 599.2,520.2 600.0,519.0 600.8,517.8 601.5,516.6 602.2,515.4 603.0,514.2 603.8,513.0 604.5,511.8 605.2,510.6 606.0,509.4 606.8,508.1 607.5,506.8 608.2,505.4 609.0,504.0 609.8,502.5 610.5,500.9 611.3,499.3 612.1,497.6 612.9,495.9 613.6,494.2 614.4,492.4 615.1,490.7 615.9,489.0 616.6,487.3 617.3,485.6 618.0,484.0 618.7,482.5 619.3,481.1 619.9,479.7 620.5,478.4 621.1,477.1 621.6,475.8 622.2,474.5 622.7,473.0 623.3,471.5 623.9,469.8 624.4,468.0 625.0,466.0 625.6,463.7 626.2,461.3 626.8,458.6 627.4,455.7 628.1,452.8 628.7,449.8 629.3,446.8 629.9,443.8 630.5,440.9 631.0,438.1 631.5,435.4 632.0,433.0 632.4,430.8 632.8,428.7 633.1,426.7 633.4,424.9 633.6,423.1 633.9,421.3 634.1,419.9 634.0,419.0 633.8,417.3Z" fill="#914453"/>
<g clip-path="url(#cVit)">
<ellipse cx="460" cy="245" rx="200" ry="85" fill="#a75c69" filter="url(#fb30)"/>
<ellipse cx="340" cy="290" rx="50" ry="70" fill="#a35a67" filter="url(#fb16)"/>
<ellipse cx="415" cy="200" rx="75" ry="26" fill="#cc9098" filter="url(#fb16)"/>
<ellipse cx="535" cy="272" rx="95" ry="15" transform="rotate(23 535 272)" fill="#cf969e" filter="url(#fb10)"/>
<ellipse cx="585" cy="300" rx="38" ry="24" fill="#c4848e" filter="url(#fb16)"/>
<ellipse cx="615" cy="340" rx="16" ry="40" fill="#b0707c" filter="url(#fb16)"/>
</g>
<path d="M524.1,194.2 L534.4,199.2 L524.1,215.6 L529.8,219.8 L509.2,227.6 L508.1,208.5 L514.2,211.3Z" fill="#ee2a2a"/>
<path d="M245.5,216.4 243.7,218.0 242.0,219.6 240.3,221.2 238.7,222.8 237.0,224.4 235.4,226.0 233.8,227.7 232.3,229.3 230.8,230.9 229.3,232.6 227.9,234.2 226.4,235.8 225.1,237.3 223.7,238.8 222.4,240.3 221.2,241.7 220.0,243.1 218.8,244.4 217.7,245.6 216.7,246.8 215.7,247.9 214.8,248.9 213.9,249.9 213.0,250.8 212.2,251.7 211.5,252.6 210.7,253.5 210.0,254.3 209.2,255.2 208.5,256.1 207.7,257.0 206.9,258.0 206.1,259.0 205.3,260.0 204.4,261.1 203.6,262.2 202.7,263.3 201.9,264.4 201.1,265.5 200.2,266.7 199.4,267.8 198.5,269.0 197.7,270.2 196.8,271.4 195.9,272.6 195.0,273.8 194.1,275.0 193.2,276.2 192.3,277.4 191.3,278.6 190.3,279.8 189.3,281.0 188.3,282.3 187.2,283.5 186.2,284.8 185.1,286.1 184.0,287.3 182.9,288.6 181.8,289.9 180.7,291.2 179.6,292.4 178.5,293.7 177.4,295.0 176.4,296.3 175.3,297.5 174.3,298.8 173.3,300.1 172.2,301.4 171.2,302.7 170.2,304.0 169.1,305.4 168.1,306.7 167.0,308.1 166.0,309.4 165.0,310.7 164.0,312.0 163.1,313.3 162.1,314.5 161.2,315.7 160.4,316.8 159.6,317.9 158.8,318.9 158.1,319.8 157.4,320.7 156.8,321.6 156.2,322.3 155.6,323.1 155.1,323.8 154.5,324.4 154.1,325.1 153.6,325.7 153.1,326.3 152.7,326.9 152.2,327.5 151.8,328.1 151.4,328.7 150.9,329.4 150.5,330.0 150.1,330.7 149.6,331.3 149.2,331.9 148.8,332.5 148.5,333.1 148.1,333.7 147.7,334.3 147.4,334.9 147.0,335.5 146.6,336.2 146.3,336.8 145.9,337.4 145.6,338.0 145.2,338.7 144.9,339.3 144.5,340.0 144.1,340.7 143.7,341.4 143.3,342.2 143.0,342.9 142.6,343.7 142.2,344.4 141.8,345.2 141.4,346.0 141.0,346.8 140.6,347.6 140.2,348.3 139.9,349.1 139.5,349.8 139.2,350.6 138.8,351.3 138.5,352.0 138.2,352.7 137.9,353.3 137.6,354.0 137.3,354.6 137.1,355.2 136.8,355.9 136.6,356.5 136.3,357.1 136.1,357.7 135.8,358.3 135.6,358.9 135.4,359.5 135.2,360.1 134.9,360.7 134.7,361.4 134.5,362.0 134.3,362.7 134.1,363.3 133.8,364.0 133.6,364.7 133.4,365.3 133.2,366.0 133.0,366.7 132.8,367.4 132.6,368.1 132.4,368.8 132.3,369.5 132.1,370.2 131.9,370.9 131.8,371.6 131.6,372.3 131.5,373.0 131.4,373.7 131.3,374.4 131.1,375.2 131.0,375.9 130.9,376.6 130.8,377.4 130.8,378.1 130.7,378.9 130.6,379.6 130.5,380.4 130.5,381.1 130.4,381.9 130.4,382.7 130.4,383.4 130.3,384.2 130.3,385.0 130.3,385.8 130.3,386.6 130.3,387.4 130.3,388.1 130.3,388.9 130.3,389.7 130.3,390.5 130.4,391.4 130.4,392.2 130.5,393.0 130.5,393.8 130.6,394.6 130.6,395.5 130.7,396.3 130.7,397.1 130.8,398.0 130.9,398.9 130.9,399.7 131.0,400.6 131.1,401.5 131.2,402.4 131.2,403.3 131.3,404.2 131.4,405.2 131.5,406.1 131.6,407.0 131.7,407.9 131.8,408.8 131.9,409.7 132.0,410.6 132.2,411.5 132.3,412.4 132.4,413.3 132.6,414.1 132.7,415.0 132.9,415.8 133.0,416.7 133.1,417.5 133.3,418.4 133.5,419.2 133.6,420.1 133.8,420.9 134.0,421.7 134.2,422.6 134.4,423.4 134.6,424.3 134.8,425.1 135.0,426.0 135.2,426.9 135.4,427.7 135.6,428.5 135.8,429.3 136.0,430.1 136.2,430.9 136.4,431.7 136.7,432.6 136.9,433.4 137.2,434.2 137.5,435.1 137.8,436.0 138.1,437.0 138.5,437.9 138.9,438.9 139.4,440.0 139.9,441.1 140.5,442.3 141.0,443.5 141.7,444.8 142.3,446.0 143.0,447.4 143.7,448.7 144.4,450.1 145.2,451.4 145.9,452.8 146.7,454.2 147.5,455.5 148.3,456.9 149.1,458.2 149.9,459.5 150.7,460.7 151.5,461.9 152.3,463.1 153.1,464.3 154.0,465.5 154.8,466.7 155.7,467.9 156.6,469.1 157.4,470.3 158.3,471.4 159.3,472.6 160.2,473.7 161.1,474.8 162.1,476.0 163.1,477.1 164.1,478.2 165.1,479.3 166.2,480.4 167.2,481.5 168.4,482.6 169.5,483.6 170.7,484.7 171.9,485.8 173.1,486.8 174.3,487.9 175.5,488.9 176.7,489.9 177.9,490.9 179.1,491.9 180.3,492.9 181.4,493.9 182.6,494.9 183.7,495.8 184.8,496.7 185.9,497.6 186.9,498.5 188.0,499.4 189.0,500.2 190.1,501.1 191.1,501.9 192.1,502.7 193.2,503.6 194.2,504.4 195.2,505.2 196.2,506.0 197.2,506.8 198.2,507.6 199.3,508.5 200.3,509.3 201.3,510.1 202.4,511.0 203.5,511.8 204.5,512.7 205.6,513.5 206.7,514.4 207.7,515.2 208.8,516.1 209.9,516.9 210.9,517.8 211.9,518.6 213.0,519.4 214.0,520.3 214.9,521.1 215.9,521.9 216.8,522.7 217.7,523.5 218.5,524.2 219.4,525.0 220.2,525.7 221.0,526.4 221.8,527.1 222.5,527.7 223.3,528.4 224.0,529.2 224.7,529.9 225.5,530.6 226.2,531.4 226.9,532.3 227.7,533.2 228.4,534.1 229.2,535.1 230.0,536.2 230.7,537.3 231.4,538.4 232.2,539.7 232.9,540.9 233.6,542.2 234.3,543.5 235.0,544.8 235.8,546.2 236.5,547.6 236.8,548.0 252.0,548.0 251.5,547.3 251.0,546.5 250.3,545.5 249.6,544.5 248.8,543.3 248.0,542.0 247.0,540.7 246.1,539.3 245.0,537.8 243.9,536.2 242.8,534.6 241.6,533.0 240.3,531.2 238.9,529.3 237.3,527.2 235.7,525.1 234.0,522.8 232.3,520.5 230.6,518.3 228.9,516.0 227.3,513.9 225.8,511.8 224.3,509.9 223.0,508.2 221.8,506.7 220.7,505.2 219.6,503.9 218.5,502.7 217.6,501.6 216.7,500.5 215.8,499.5 214.9,498.5 214.2,497.4 213.4,496.3 212.7,495.2 212.0,494.0 211.4,492.7 210.8,491.5 210.4,490.3 210.0,489.0 209.6,487.8 209.3,486.5 208.9,485.2 208.6,483.8 208.3,482.5 207.9,481.0 207.5,479.5 207.0,478.0 206.5,476.4 205.9,474.6 205.3,472.8 204.7,470.9 204.0,469.0 203.4,467.0 202.7,465.0 202.1,463.1 201.5,461.2 200.9,459.4 200.4,457.6 199.9,456.0 199.5,454.5 199.1,453.0 198.7,451.7 198.4,450.4 198.1,449.1 197.8,447.9 197.5,446.6 197.2,445.4 196.9,444.1 196.7,442.8 196.4,441.5 196.1,440.0 195.8,438.5 195.5,436.9 195.2,435.3 194.9,433.6 194.6,432.0 194.4,430.2 194.1,428.5 193.8,426.8 193.5,425.1 193.2,423.4 193.0,421.7 192.7,420.0 192.4,418.4 192.1,416.7 191.8,415.2 191.5,413.6 191.2,412.0 190.9,410.4 190.7,408.8 190.4,407.2 190.2,405.5 189.9,403.7 189.7,401.9 189.6,400.0 189.5,398.0 189.4,395.9 189.3,393.7 189.3,391.4 189.3,389.1 189.3,386.7 189.3,384.3 189.4,382.0 189.4,379.6 189.5,377.4 189.5,375.1 189.6,373.0 189.7,370.9 189.7,368.9 189.8,366.9 189.9,365.0 190.0,363.1 190.1,361.2 190.2,359.3 190.4,357.4 190.6,355.5 190.7,353.6 191.0,351.7 191.2,349.8 191.5,347.9 191.8,345.9 192.1,344.0 192.5,342.0 192.8,340.1 193.2,338.2 193.6,336.2 194.0,334.3 194.5,332.3 194.9,330.4 195.4,328.4 195.8,326.5 196.3,324.5 196.7,322.6 197.2,320.6 197.7,318.6 198.2,316.6 198.7,314.6 199.2,312.6 199.8,310.7 200.3,308.8 200.9,306.9 201.4,305.1 202.0,303.3 202.6,301.6 203.2,299.9 203.7,298.3 204.3,296.8 204.9,295.2 205.5,293.7 206.2,292.2 206.8,290.7 207.5,289.2 208.2,287.8 209.0,286.2 209.8,284.7 210.7,283.1 211.5,281.6 212.5,280.1 213.4,278.5 214.4,277.0 215.4,275.4 216.5,273.9 217.5,272.3 218.6,270.8 219.7,269.2 220.9,267.6 222.0,266.0 223.2,264.4 224.4,262.9 225.7,261.3 227.0,259.8 228.3,258.3 229.7,256.8 231.0,255.2 232.4,253.5 233.7,251.8 235.0,250.0 236.2,248.1 237.4,246.0 238.6,243.7 239.8,241.1 241.0,238.3 242.3,235.3 243.5,232.3 244.7,229.2 245.8,226.3 246.8,223.4 247.8,220.8 248.7,218.5 249.4,216.5 250.0,215.0 247.2,215.0Z" fill="url(#gBand2)"/>
<path d="M179.6,292.4 178.5,293.7 177.4,295.0 176.4,296.3 175.3,297.5 174.3,298.8 173.3,300.1 172.2,301.4 171.2,302.7 170.2,304.0 169.1,305.4 168.1,306.7 167.0,308.1 166.0,309.4 165.0,310.7 164.0,312.0 163.1,313.3 162.1,314.5 161.2,315.7 160.4,316.8 159.6,317.9 158.8,318.9 158.1,319.8 157.4,320.7 156.8,321.6 156.2,322.3 155.6,323.1 155.1,323.8 154.5,324.4 154.1,325.1 153.6,325.7 153.1,326.3 152.7,326.9 152.2,327.5 151.8,328.1 151.4,328.7 150.9,329.4 150.5,330.0 150.1,330.7 149.6,331.3 149.2,331.9 148.8,332.5 148.5,333.1 148.1,333.7 147.7,334.3 147.4,334.9 147.0,335.5 146.6,336.2 146.3,336.8 145.9,337.4 145.6,338.0 145.2,338.7 144.9,339.3 144.5,340.0 144.1,340.7 143.7,341.4 143.3,342.2 143.0,342.9 142.6,343.7 142.2,344.4 141.8,345.2 141.4,346.0 141.0,346.8 140.6,347.6 140.2,348.3 139.9,349.1 139.5,349.8 139.2,350.6 138.8,351.3 138.5,352.0 138.2,352.7 137.9,353.3 137.6,354.0 137.3,354.6 137.1,355.2 136.8,355.9 136.6,356.5 136.3,357.1 136.1,357.7 135.8,358.3 135.6,358.9 135.4,359.5 135.2,360.1 134.9,360.7 134.7,361.4 134.5,362.0 134.3,362.7 134.1,363.3 133.8,364.0 133.6,364.7 133.4,365.3 133.2,366.0 133.0,366.7 132.8,367.4 132.6,368.1 132.4,368.8 132.3,369.5 132.1,370.2 131.9,370.9 131.8,371.6 131.6,372.3 131.5,373.0 131.4,373.7 131.3,374.4 131.1,375.2 131.0,375.9 130.9,376.6 130.8,377.4 130.8,378.1 130.7,378.9 130.6,379.6 130.5,380.4 130.5,381.1 130.4,381.9 130.4,382.7 130.4,383.4 130.3,384.2 130.3,385.0 130.3,385.8 130.3,386.6 130.3,387.4 130.3,388.1 130.3,388.9 130.3,389.7 130.3,390.5 130.4,391.4 130.4,392.2 130.5,393.0 130.5,393.8 130.6,394.6 130.6,395.5 130.7,396.3 130.7,397.1 130.8,398.0 130.9,398.9 130.9,399.7 131.0,400.6 131.1,401.5 131.2,402.4 131.2,403.3 131.3,404.2 131.4,405.2 131.5,406.1 131.6,407.0 131.7,407.9 131.8,408.8 131.9,409.7 132.0,410.6 132.2,411.5 132.3,412.4 132.4,413.3 132.6,414.1 132.7,415.0 132.9,415.8 133.0,416.7 133.1,417.5 133.3,418.4 133.5,419.2 133.6,420.1 133.8,420.9 134.0,421.7 134.2,422.6 134.4,423.4 134.6,424.3 134.8,425.1 135.0,426.0 135.2,426.9 135.4,427.7 135.6,428.5 135.8,429.3 136.0,430.1 136.2,430.9 136.4,431.7 136.7,432.6 136.9,433.4 137.2,434.2 137.5,435.1 137.8,436.0 138.1,437.0 138.5,437.9 138.9,438.9 139.4,440.0 139.9,441.1 140.5,442.3 141.0,443.5 141.7,444.8 142.3,446.0 143.0,447.4 143.7,448.7 144.4,450.1 145.2,451.4 145.9,452.8 146.7,454.2 147.5,455.5 148.3,456.9 149.1,458.2 149.9,459.5 150.7,460.7 151.5,461.9 152.3,463.1 153.1,464.3 154.0,465.5 154.8,466.7 155.7,467.9 156.6,469.1 157.4,470.3 158.3,471.4 159.3,472.6 160.2,473.7 161.1,474.8 162.1,476.0 163.1,477.1 164.1,478.2 165.1,479.3 166.2,480.4 167.2,481.5 168.4,482.6 169.5,483.6 170.7,484.7 171.9,485.8 173.1,486.8 174.3,487.9 175.5,488.9 176.7,489.9 177.9,490.9 179.1,491.9 180.3,492.9 181.4,493.9 182.6,494.9 183.7,495.8 184.8,496.7 185.9,497.6 186.9,498.5 188.0,499.4 189.0,500.2 190.1,501.1 191.1,501.9 192.1,502.7 193.2,503.6 194.2,504.4 195.2,505.2 196.2,506.0 197.2,506.8 198.2,507.6 199.3,508.5 200.3,509.3 201.3,510.1 202.4,511.0 203.5,511.8 204.5,512.7 205.6,513.5 206.7,514.4 207.7,515.2 208.8,516.1 209.9,516.9 210.9,517.8 211.9,518.6 213.0,519.4 214.0,520.3 214.9,521.1 215.9,521.9 216.8,522.7 217.7,523.5 218.5,524.2 219.4,525.0 220.2,525.7 221.0,526.4 221.8,527.1 222.5,527.7 223.3,528.4 224.0,529.2 224.7,529.9 225.5,530.6 226.2,531.4 226.9,532.3 227.7,533.2 228.4,534.1 229.2,535.1 230.0,536.2 230.7,537.3 231.4,538.4 232.2,539.7 232.9,540.9 233.6,542.2 234.3,543.5 235.0,544.8 235.8,546.2 236.5,547.6 236.8,548.0 252.0,548.0 251.5,547.3 251.0,546.5 250.3,545.5 249.6,544.5 248.8,543.3 248.0,542.0 247.0,540.7 246.1,539.3 245.0,537.8 243.9,536.2 242.8,534.6 241.6,533.0 240.3,531.2 238.9,529.3 237.3,527.2 235.7,525.1 234.0,522.8 232.3,520.5 230.6,518.3 228.9,516.0 227.3,513.9 225.8,511.8 224.3,509.9 223.0,508.2 221.8,506.7 220.7,505.2 219.6,503.9 218.5,502.7 217.6,501.6 216.8,500.7 216.1,500.2 215.1,499.3 214.0,498.5 213.0,497.7 212.0,496.9 211.0,496.1 210.0,495.3 209.9,495.2 208.9,494.4 208.9,494.4 207.9,493.6 207.8,493.5 206.8,492.7 205.8,491.9 204.8,491.1 203.8,490.3 202.8,489.5 201.8,488.7 200.8,487.9 199.8,487.1 198.8,486.3 197.8,485.4 196.8,484.6 195.8,483.7 194.7,482.8 193.6,481.9 193.5,481.8 192.4,480.9 192.3,480.8 191.2,479.9 191.2,479.9 190.0,478.9 188.8,477.9 187.6,476.9 186.5,475.9 185.3,475.0 184.2,474.0 183.1,473.1 182.1,472.1 181.1,471.2 180.1,470.3 179.2,469.4 178.3,468.5 177.5,467.6 176.6,466.7 175.8,465.8 174.9,464.8 174.1,463.9 173.3,462.9 172.5,461.9 171.7,460.9 170.9,459.9 170.2,458.9 169.4,457.9 168.6,456.8 167.9,455.8 167.1,454.7 166.4,453.6 165.7,452.5 164.9,451.4 164.2,450.3 163.6,449.2 162.9,448.1 162.1,446.9 161.4,445.7 160.7,444.5 160.1,443.2 159.4,442.0 158.7,440.7 158.1,439.5 157.5,438.3 156.9,437.2 156.3,436.0 155.8,435.0 155.3,433.9 154.9,433.0 154.6,432.2 154.3,431.5 154.0,430.9 153.8,430.2 153.6,429.6 153.4,429.1 153.2,428.5 153.0,427.9 152.8,427.3 152.7,426.7 152.5,426.0 152.3,425.3 152.1,424.5 151.9,423.7 151.9,423.6 151.7,422.8 151.7,422.7 151.5,421.8 151.3,421.0 151.1,420.3 150.9,419.6 150.8,418.9 150.6,418.1 150.4,417.4 150.3,416.7 150.2,416.0 150.0,415.2 149.9,414.5 149.7,413.7 149.6,413.0 149.5,412.2 149.4,411.5 149.2,410.7 149.1,409.9 149.0,409.1 148.9,408.4 148.8,407.6 148.7,406.8 148.6,406.0 148.5,405.1 148.4,404.3 148.3,403.5 148.2,402.6 148.2,401.8 148.1,400.9 148.0,400.1 147.9,399.2 147.9,398.4 147.8,397.6 147.8,396.8 147.7,395.9 147.6,395.1 147.6,394.3 147.5,393.5 147.5,392.8 147.4,392.0 147.4,391.3 147.4,390.6 147.3,389.9 147.3,389.2 147.3,388.5 147.3,387.9 147.3,387.3 147.3,386.7 147.3,386.1 147.3,385.5 147.3,384.8 147.3,384.2 147.4,383.6 147.4,383.0 147.4,382.3 147.5,381.7 147.5,381.1 147.6,380.5 147.7,380.0 147.7,379.4 147.8,378.8 147.9,378.2 148.0,377.7 148.0,377.1 148.1,376.6 148.2,376.1 148.3,375.6 148.4,375.1 148.5,374.6 148.6,374.1 148.8,373.6 148.9,373.1 149.0,372.5 149.2,372.0 149.3,371.4 149.5,370.9 149.7,370.3 149.9,369.7 150.0,369.2 150.2,368.6 150.4,368.0 150.6,367.4 150.8,366.8 151.0,366.3 151.2,365.8 151.3,365.3 151.5,364.9 151.7,364.4 151.9,363.9 152.1,363.4 152.3,362.9 152.5,362.4 152.7,361.9 152.9,361.4 153.2,360.8 153.4,360.2 153.7,359.7 154.0,359.0 154.3,358.4 154.6,357.8 154.9,357.1 155.2,356.4 155.5,355.7 155.9,355.0 156.2,354.3 156.6,353.6 156.9,352.9 157.3,352.2 157.7,351.5 158.0,350.8 158.4,350.1 158.7,349.4 159.1,348.8 159.4,348.1 159.8,347.5 160.1,346.9 160.4,346.3 160.8,345.7 161.1,345.2 161.4,344.7 161.7,344.1 162.0,343.6 162.3,343.1 162.6,342.6 162.9,342.1 163.2,341.6 163.5,341.1 163.9,340.6 164.2,340.1 164.6,339.5 164.9,339.0 165.3,338.5 165.6,338.0 166.0,337.5 166.4,337.0 166.8,336.5 167.2,335.9 167.6,335.4 168.1,334.8 168.5,334.1 169.1,333.4 169.6,332.7 170.2,331.9 170.9,331.1 170.9,331.1 171.6,330.2 171.6,330.2 172.3,329.2 172.3,329.2 173.1,328.2 173.1,328.2 173.9,327.1 174.8,326.0 175.7,324.8 176.6,323.6 177.6,322.3 178.5,321.0 179.5,319.7 180.5,318.4 181.5,317.1 182.5,315.8 183.6,314.5 184.6,313.2 185.6,311.9 186.6,310.7 187.5,309.5 188.5,308.3 189.5,307.1 190.5,305.9 191.5,304.7 192.5,303.5 193.6,302.2 194.7,301.0 195.8,299.7 196.9,298.4 196.9,298.4 198.0,297.1 198.0,297.1 199.1,295.8 199.1,295.8 200.2,294.5 200.2,294.5 201.3,293.2 201.3,293.2 202.3,292.0 180.0,292.0Z" fill="url(#gBand)" opacity="0.25"/>
<path d="M179.6,292.4 178.5,293.7 177.4,295.0 176.4,296.3 175.3,297.5 174.3,298.8 173.3,300.1 172.2,301.4 171.2,302.7 170.2,304.0 169.1,305.4 168.1,306.7 167.0,308.1 166.0,309.4 165.0,310.7 164.0,312.0 163.1,313.3 162.1,314.5 161.2,315.7 160.4,316.8 159.6,317.9 158.8,318.9 158.1,319.8 157.4,320.7 156.8,321.6 156.2,322.3 155.6,323.1 155.1,323.8 154.5,324.4 154.1,325.1 153.6,325.7 153.1,326.3 152.7,326.9 152.2,327.5 151.8,328.1 151.4,328.7 150.9,329.4 150.5,330.0 150.1,330.7 149.6,331.3 149.2,331.9 148.8,332.5 148.5,333.1 148.1,333.7 147.7,334.3 147.4,334.9 147.0,335.5 146.6,336.2 146.3,336.8 145.9,337.4 145.6,338.0 145.2,338.7 144.9,339.3 144.5,340.0 144.1,340.7 143.7,341.4 143.3,342.2 143.0,342.9 142.6,343.7 142.2,344.4 141.8,345.2 141.4,346.0 141.0,346.8 140.6,347.6 140.2,348.3 139.9,349.1 139.5,349.8 139.2,350.6 138.8,351.3 138.5,352.0 138.2,352.7 137.9,353.3 137.6,354.0 137.3,354.6 137.1,355.2 136.8,355.9 136.6,356.5 136.3,357.1 136.1,357.7 135.8,358.3 135.6,358.9 135.4,359.5 135.2,360.1 134.9,360.7 134.7,361.4 134.5,362.0 134.3,362.7 134.1,363.3 133.8,364.0 133.6,364.7 133.4,365.3 133.2,366.0 133.0,366.7 132.8,367.4 132.6,368.1 132.4,368.8 132.3,369.5 132.1,370.2 131.9,370.9 131.8,371.6 131.6,372.3 131.5,373.0 131.4,373.7 131.3,374.4 131.1,375.2 131.0,375.9 130.9,376.6 130.8,377.4 130.8,378.1 130.7,378.9 130.6,379.6 130.5,380.4 130.5,381.1 130.4,381.9 130.4,382.7 130.4,383.4 130.3,384.2 130.3,385.0 130.3,385.8 130.3,386.6 130.3,387.4 130.3,388.1 130.3,388.9 130.3,389.7 130.3,390.5 130.4,391.4 130.4,392.2 130.5,393.0 130.5,393.8 130.6,394.6 130.6,395.5 130.7,396.3 130.7,397.1 130.8,398.0 130.9,398.9 130.9,399.7 131.0,400.6 131.1,401.5 131.2,402.4 131.2,403.3 131.3,404.2 131.4,405.2 131.5,406.1 131.6,407.0 131.7,407.9 131.8,408.8 131.9,409.7 132.0,410.6 132.2,411.5 132.3,412.4 132.4,413.3 132.6,414.1 132.7,415.0 132.9,415.8 133.0,416.7 133.1,417.5 133.3,418.4 133.5,419.2 133.6,420.1 133.8,420.9 134.0,421.7 134.2,422.6 134.4,423.4 134.6,424.3 134.8,425.1 135.0,426.0 135.2,426.9 135.4,427.7 135.6,428.5 135.8,429.3 136.0,430.1 136.2,430.9 136.4,431.7 136.7,432.6 136.9,433.4 137.2,434.2 137.5,435.1 137.8,436.0 138.1,437.0 138.5,437.9 138.9,438.9 139.4,440.0 139.9,441.1 140.5,442.3 141.0,443.5 141.7,444.8 142.3,446.0 143.0,447.4 143.7,448.7 144.4,450.1 145.2,451.4 145.9,452.8 146.7,454.2 147.5,455.5 148.3,456.9 149.1,458.2 149.9,459.5 150.7,460.7 151.5,461.9 152.3,463.1 153.1,464.3 154.0,465.5 154.8,466.7 155.7,467.9 156.6,469.1 157.4,470.3 158.3,471.4 159.3,472.6 160.2,473.7 161.1,474.8 162.1,476.0 163.1,477.1 164.1,478.2 165.1,479.3 166.2,480.4 167.2,481.5 168.4,482.6 169.5,483.6 170.7,484.7 171.9,485.8 173.1,486.8 174.3,487.9 175.5,488.9 176.7,489.9 177.9,490.9 179.1,491.9 180.3,492.9 181.4,493.9 182.6,494.9 183.7,495.8 184.8,496.7 185.9,497.6 186.9,498.5 188.0,499.4 189.0,500.2 190.1,501.1 191.1,501.9 192.1,502.7 193.2,503.6 194.2,504.4 195.2,505.2 196.2,506.0 197.2,506.8 198.2,507.6 199.3,508.5 200.3,509.3 201.3,510.1 202.4,511.0 203.5,511.8 204.5,512.7 205.6,513.5 206.7,514.4 207.7,515.2 208.8,516.1 209.9,516.9 210.9,517.8 211.9,518.6 213.0,519.4 214.0,520.3 214.9,521.1 215.9,521.9 216.8,522.7 217.7,523.5 218.5,524.2 219.4,525.0 220.2,525.7 221.0,526.4 221.8,527.1 222.5,527.7 223.3,528.4 224.0,529.2 224.7,529.9 225.5,530.6 226.2,531.4 226.9,532.3 227.7,533.2 228.4,534.1 229.2,535.1 230.0,536.2 230.7,537.3 231.4,538.4 232.2,539.7 232.9,540.9 233.6,542.2 234.3,543.5 235.0,544.8 235.8,546.2 236.5,547.6 236.8,548.0 252.0,548.0 251.5,547.3 251.0,546.5 250.3,545.5 249.6,544.5 248.8,543.3 248.0,542.0 247.0,540.7 246.1,539.3 245.0,537.8 243.9,536.2 242.8,534.6 241.6,533.0 240.3,531.2 238.9,529.3 237.3,527.2 235.7,525.1 234.0,522.8 232.3,520.5 230.6,518.3 228.9,516.0 227.3,513.9 226.0,512.1 225.1,511.4 225.0,511.3 224.1,510.5 224.0,510.4 223.0,509.6 222.9,509.5 221.9,508.7 221.8,508.6 220.8,507.8 220.8,507.7 219.7,506.9 219.7,506.8 218.6,506.0 218.6,506.0 217.5,505.1 217.5,505.1 216.4,504.3 216.4,504.2 215.4,503.4 214.3,502.5 213.2,501.7 212.2,500.9 211.1,500.0 210.1,499.2 209.1,498.4 208.1,497.6 208.1,497.6 207.0,496.7 207.0,496.7 206.0,495.9 206.0,495.9 204.9,495.1 203.9,494.3 202.9,493.4 201.9,492.6 200.9,491.8 199.9,491.0 198.9,490.2 197.9,489.4 196.9,488.6 195.9,487.7 194.8,486.9 193.8,486.0 192.8,485.1 191.6,484.2 191.6,484.1 190.4,483.2 190.4,483.1 189.3,482.2 189.2,482.2 188.1,481.2 186.9,480.2 185.7,479.2 184.5,478.2 183.4,477.2 182.2,476.3 181.1,475.3 180.1,474.3 179.0,473.4 178.0,472.4 177.1,471.5 176.2,470.6 175.3,469.7 174.4,468.7 173.5,467.8 172.7,466.8 171.8,465.8 171.0,464.8 170.2,463.8 169.4,462.8 168.6,461.7 167.8,460.7 167.0,459.6 166.2,458.6 165.4,457.5 164.7,456.4 163.9,455.3 163.2,454.2 162.4,453.1 161.7,451.9 161.0,450.8 160.3,449.6 159.6,448.4 158.8,447.2 158.1,445.9 157.4,444.7 156.7,443.4 156.1,442.2 155.4,440.9 154.8,439.7 154.2,438.5 153.6,437.4 153.1,436.3 152.6,435.2 152.2,434.3 151.8,433.4 151.5,432.6 151.2,431.9 150.9,431.3 150.7,430.6 150.5,430.0 150.3,429.4 150.1,428.7 150.0,428.1 149.8,427.4 149.6,426.7 149.4,426.0 149.2,425.2 149.0,424.4 149.0,424.3 148.8,423.5 148.8,423.4 148.6,422.6 148.4,421.8 148.2,421.0 148.0,420.3 147.8,419.5 147.7,418.8 147.5,418.0 147.4,417.3 147.2,416.5 147.1,415.8 146.9,415.0 146.8,414.3 146.7,413.5 146.5,412.7 146.4,411.9 146.3,411.1 146.1,410.3 146.0,409.5 145.9,408.8 145.8,408.0 145.7,407.1 145.6,406.3 145.5,405.5 145.4,404.6 145.3,403.8 145.3,402.9 145.2,402.0 145.1,401.2 145.0,400.3 145.0,399.5 144.9,398.6 144.8,397.8 144.8,397.0 144.7,396.1 144.6,395.3 144.6,394.5 144.5,393.7 144.5,393.0 144.4,392.2 144.4,391.4 144.4,390.7 144.3,390.0 144.3,389.3 144.3,388.6 144.3,387.9 144.3,387.3 144.3,386.6 144.3,386.0 144.3,385.4 144.3,384.7 144.3,384.1 144.4,383.4 144.4,382.8 144.5,382.1 144.5,381.5 144.6,380.9 144.6,380.3 144.7,379.6 144.7,379.0 144.8,378.4 144.9,377.8 145.0,377.2 145.1,376.7 145.2,376.1 145.3,375.5 145.4,375.0 145.5,374.5 145.6,373.9 145.7,373.4 145.9,372.8 146.0,372.3 146.1,371.7 146.3,371.2 146.5,370.6 146.6,370.0 146.8,369.4 147.0,368.8 147.2,368.3 147.4,367.6 147.6,367.0 147.8,366.4 148.0,365.9 148.2,365.3 148.3,364.8 148.5,364.3 148.7,363.8 148.9,363.3 149.1,362.8 149.3,362.3 149.5,361.8 149.7,361.3 149.9,360.7 150.2,360.2 150.4,359.6 150.7,359.0 151.0,358.4 151.2,357.8 151.5,357.2 151.8,356.5 152.2,355.8 152.5,355.1 152.8,354.4 153.2,353.7 153.5,353.0 153.9,352.3 154.3,351.5 154.6,350.8 155.0,350.1 155.4,349.4 155.7,348.7 156.1,348.0 156.4,347.3 156.8,346.7 157.1,346.1 157.5,345.4 157.8,344.8 158.1,344.3 158.5,343.7 158.8,343.2 159.1,342.6 159.4,342.1 159.7,341.6 160.0,341.1 160.3,340.6 160.7,340.0 161.0,339.5 161.3,339.0 161.7,338.4 162.1,337.9 162.5,337.3 162.8,336.8 163.2,336.3 163.6,335.7 164.0,335.2 164.4,334.7 164.8,334.1 165.2,333.6 165.7,332.9 166.2,332.3 166.7,331.6 167.3,330.9 167.9,330.1 168.5,329.3 168.5,329.2 169.2,328.4 169.2,328.3 169.9,327.4 169.9,327.4 170.7,326.4 170.7,326.4 171.5,325.3 172.4,324.1 173.3,323.0 174.2,321.8 175.2,320.5 176.1,319.2 177.1,317.9 178.1,316.6 179.2,315.3 180.2,314.0 181.2,312.6 182.2,311.3 183.2,310.1 184.2,308.8 185.2,307.6 186.2,306.4 187.1,305.2 188.2,304.0 189.2,302.8 190.3,301.5 191.3,300.3 192.4,299.0 193.5,297.7 194.6,296.5 194.6,296.4 195.7,295.2 195.7,295.2 196.8,293.9 196.8,293.9 197.9,292.6 197.9,292.5 198.4,292.0 180.0,292.0Z" fill="url(#gBand)" opacity="0.4"/>
<path d="M243.7,218.0 242.0,219.6 240.3,221.2 238.7,222.8 237.0,224.4 235.4,226.0 233.8,227.7 232.3,229.3 230.8,230.9 229.3,232.6 227.9,234.2 226.4,235.8 225.1,237.3 223.7,238.8 222.4,240.3 221.2,241.7 220.0,243.1 218.8,244.4 217.7,245.6 216.7,246.8 215.7,247.9 214.8,248.9 213.9,249.9 213.0,250.8 212.2,251.7 211.5,252.6 210.7,253.5 210.0,254.3 209.2,255.2 208.5,256.1 207.7,257.0 206.9,258.0 206.1,259.0 205.3,260.0 204.4,261.1 203.6,262.2 202.7,263.3 201.9,264.4 201.1,265.5 200.2,266.7 199.4,267.8 198.5,269.0 197.7,270.2 196.8,271.4 195.9,272.6 195.0,273.8 194.1,275.0 193.2,276.2 192.3,277.4 191.3,278.6 190.3,279.8 189.3,281.0 188.3,282.3 187.2,283.5 186.2,284.8 185.1,286.1 184.0,287.3 182.9,288.6 181.8,289.9 180.7,291.2 179.6,292.4 178.5,293.7 177.4,295.0 176.4,296.3 175.3,297.5 174.3,298.8 173.3,300.1 172.2,301.4 171.2,302.7 170.2,304.0 169.1,305.4 168.1,306.7 167.0,308.1 166.0,309.4 165.0,310.7 164.0,312.0 163.1,313.3 162.1,314.5 161.2,315.7 160.4,316.8 159.6,317.9 158.8,318.9 158.1,319.8 157.4,320.7 156.8,321.6 156.2,322.3 155.6,323.1 155.1,323.8 154.5,324.4 154.1,325.1 153.6,325.7 153.1,326.3 152.7,326.9 152.2,327.5 151.8,328.1 151.4,328.7 150.9,329.4 150.5,330.0 150.1,330.7 149.6,331.3 149.2,331.9 148.8,332.5 148.5,333.1 148.1,333.7 147.7,334.3 147.4,334.9 147.0,335.5 146.6,336.2 146.3,336.8 145.9,337.4 145.6,338.0 145.2,338.7 144.9,339.3 144.5,340.0 144.1,340.7 143.7,341.4 143.3,342.2 143.0,342.9 142.6,343.7 142.2,344.4 141.8,345.2 141.4,346.0 141.0,346.8 140.6,347.6 140.2,348.3 139.9,349.1 139.5,349.8 139.2,350.6 138.8,351.3 138.5,352.0 138.2,352.7 137.9,353.3 137.6,354.0 137.3,354.6 137.1,355.2 136.8,355.9 136.6,356.5 136.3,357.1 136.1,357.7 135.8,358.3 135.6,358.9 135.4,359.5 135.2,360.1 134.9,360.7 134.7,361.4 134.5,362.0 134.3,362.7 134.1,363.3 133.8,364.0 133.6,364.7 133.4,365.3 133.2,366.0 133.0,366.7 132.8,367.4 132.6,368.1 132.4,368.8 132.3,369.5 132.1,370.2 131.9,370.9 131.8,371.6 131.6,372.3 131.5,373.0 131.4,373.7 131.3,374.4 131.1,375.2 131.0,375.9 130.9,376.6 130.8,377.4 130.8,378.1 130.7,378.9 130.6,379.6 130.5,380.4 130.5,381.1 130.4,381.9 130.4,382.7 130.4,383.4 130.3,384.2 130.3,385.0 130.3,385.8 130.3,386.6 130.3,387.4 130.3,388.1 130.3,388.9 130.3,389.7 130.3,390.5 130.4,391.4 130.4,392.2 130.5,393.0 130.5,393.8 130.6,394.6 130.6,395.5 130.7,396.3 130.7,397.1 130.8,398.0 130.9,398.9 130.9,399.7 131.0,400.6 131.1,401.5 131.2,402.4 131.2,403.3 131.3,404.2 131.4,405.2 131.5,406.1 131.6,407.0 131.7,407.9 131.8,408.8 131.9,409.7 132.0,410.6 132.2,411.5 132.3,412.4 132.4,413.3 132.6,414.1 132.7,415.0 132.9,415.8 133.0,416.7 133.1,417.5 133.3,418.4 133.5,419.2 133.6,420.1 133.8,420.9 134.0,421.7 134.2,422.6 134.4,423.4 134.6,424.3 134.8,425.1 135.0,426.0 135.2,426.9 135.4,427.7 135.6,428.5 135.8,429.3 136.0,430.1 136.2,430.9 136.4,431.7 136.7,432.6 136.9,433.4 137.2,434.2 137.5,435.1 137.8,436.0 138.1,437.0 138.5,437.9 138.9,438.9 139.4,440.0 139.9,441.1 140.5,442.3 141.0,443.5 141.7,444.8 142.3,446.0 143.0,447.4 143.7,448.7 144.4,450.1 145.2,451.4 145.9,452.8 146.7,454.2 147.5,455.5 148.3,456.9 149.1,458.2 149.9,459.5 150.7,460.7 151.5,461.9 152.3,463.1 153.1,464.3 154.0,465.5 154.8,466.7 155.7,467.9 156.6,469.1 157.4,470.3 158.3,471.4 159.3,472.6 160.2,473.7 161.1,474.8 162.1,476.0 163.1,477.1 164.1,478.2 165.1,479.3 166.2,480.4 167.2,481.5 168.4,482.6 169.5,483.6 170.7,484.7 171.9,485.8 173.1,486.8 174.3,487.9 175.5,488.9 176.7,489.9 177.9,490.9 179.1,491.9 180.3,492.9 181.4,493.9 182.6,494.9 183.7,495.8 184.8,496.7 185.9,497.6 186.9,498.5 188.0,499.4 189.0,500.2 190.1,501.1 191.1,501.9 192.1,502.7 193.2,503.6 194.2,504.4 195.2,505.2 196.2,506.0 197.2,506.8 198.2,507.6 199.3,508.5 200.3,509.3 201.3,510.1 202.4,511.0 203.5,511.8 204.5,512.7 205.6,513.5 206.7,514.4 207.7,515.2 208.8,516.1 209.9,516.9 210.9,517.8 211.9,518.6 213.0,519.4 214.0,520.3 214.9,521.1 215.9,521.9 216.8,522.7 217.7,523.5 218.5,524.2 219.4,525.0 220.2,525.7 221.0,526.4 221.8,527.1 222.5,527.7 223.3,528.4 224.0,529.2 224.7,529.9 225.5,530.6 226.2,531.4 226.9,532.3 227.7,533.2 228.4,534.1 229.2,535.1 230.0,536.2 230.7,537.3 231.4,538.4 232.2,539.7 232.9,540.9 233.6,542.2 234.3,543.5 235.0,544.8 235.8,546.2 236.5,547.6 236.8,548.0 250.2,548.0 249.4,546.9 248.7,545.7 248.0,544.5 247.3,543.3 246.6,542.0 245.9,540.7 245.1,539.4 244.4,538.0 244.4,538.0 243.7,536.7 243.6,536.6 242.9,535.3 242.9,535.2 242.1,533.9 242.0,533.8 241.5,532.9 240.3,531.2 238.9,529.3 237.3,527.2 235.7,525.1 234.7,523.7 234.6,523.6 233.9,522.8 233.7,522.7 233.0,521.9 232.8,521.7 232.1,521.0 232.0,520.9 231.2,520.2 231.1,520.0 230.3,519.3 230.2,519.2 229.5,518.5 229.4,518.5 228.6,517.8 228.6,517.7 227.8,517.0 227.8,517.0 226.9,516.3 226.1,515.6 225.3,514.9 224.4,514.1 224.4,514.1 223.5,513.3 223.4,513.2 222.4,512.4 222.4,512.3 221.4,511.5 221.3,511.4 220.3,510.6 220.3,510.5 219.2,509.7 219.2,509.7 218.2,508.8 218.1,508.8 217.1,507.9 217.0,507.9 216.0,507.1 216.0,507.1 214.9,506.2 214.9,506.2 213.8,505.4 212.7,504.5 211.7,503.7 210.6,502.8 209.6,502.0 208.6,501.2 207.5,500.4 206.5,499.5 206.5,499.5 205.5,498.7 205.4,498.7 204.4,497.9 204.4,497.8 203.4,497.0 202.4,496.2 201.4,495.4 200.3,494.6 199.3,493.8 198.3,493.0 197.3,492.2 196.3,491.3 195.3,490.5 194.3,489.7 193.2,488.8 192.2,487.9 191.1,487.0 190.0,486.1 190.0,486.0 188.8,485.1 188.8,485.1 187.6,484.1 187.6,484.1 186.5,483.1 185.3,482.1 184.1,481.1 182.9,480.1 181.8,479.1 180.6,478.2 179.5,477.2 178.4,476.2 177.3,475.2 176.3,474.2 175.3,473.3 174.4,472.3 173.5,471.4 172.6,470.4 171.7,469.4 170.8,468.4 169.9,467.4 169.1,466.4 168.2,465.4 167.4,464.3 166.6,463.3 165.8,462.2 165.0,461.1 164.2,460.0 163.4,458.9 162.6,457.8 161.8,456.7 161.1,455.6 160.3,454.4 159.6,453.3 158.9,452.1 158.1,450.9 157.4,449.7 156.7,448.4 156.0,447.2 155.2,445.9 154.5,444.6 153.9,443.3 153.2,442.1 152.6,440.8 152.0,439.6 151.4,438.5 150.8,437.3 150.3,436.3 149.9,435.3 149.5,434.4 149.2,433.6 148.9,432.8 148.6,432.1 148.3,431.4 148.1,430.7 147.9,430.1 147.7,429.4 147.5,428.7 147.4,428.0 147.2,427.3 147.0,426.6 146.8,425.8 146.6,425.0 146.6,424.9 146.4,424.1 146.4,424.0 146.1,423.2 145.9,422.4 145.8,421.6 145.6,420.8 145.4,420.1 145.2,419.3 145.1,418.5 144.9,417.8 144.8,417.0 144.6,416.2 144.5,415.5 144.3,414.7 144.2,413.9 144.1,413.1 143.9,412.3 143.8,411.5 143.7,410.7 143.6,409.9 143.4,409.1 143.3,408.3 143.2,407.4 143.1,406.6 143.0,405.7 142.9,404.9 142.9,404.0 142.8,403.1 142.7,402.3 142.6,401.4 142.5,400.5 142.5,399.7 142.4,398.8 142.3,398.0 142.3,397.2 142.2,396.3 142.1,395.5 142.1,394.7 142.0,393.9 142.0,393.1 141.9,392.3 141.9,391.6 141.9,390.8 141.8,390.1 141.8,389.4 141.8,388.7 141.8,388.0 141.8,387.3 141.8,386.6 141.8,386.0 141.8,385.3 141.8,384.6 141.8,384.0 141.9,383.3 141.9,382.6 142.0,382.0 142.0,381.3 142.1,380.7 142.1,380.0 142.2,379.4 142.3,378.7 142.3,378.1 142.4,377.5 142.5,376.9 142.6,376.3 142.7,375.7 142.8,375.1 142.9,374.5 143.0,373.9 143.2,373.4 143.3,372.8 143.4,372.2 143.6,371.7 143.7,371.1 143.9,370.5 144.1,369.9 144.2,369.3 144.4,368.7 144.6,368.1 144.8,367.5 145.0,366.9 145.2,366.3 145.4,365.6 145.6,365.1 145.8,364.5 146.0,364.0 146.2,363.4 146.4,362.9 146.6,362.4 146.8,361.9 147.0,361.4 147.2,360.8 147.4,360.3 147.6,359.7 147.9,359.2 148.1,358.6 148.4,358.0 148.7,357.4 149.0,356.8 149.3,356.1 149.6,355.5 149.9,354.8 150.2,354.1 150.6,353.3 150.9,352.6 151.3,351.9 151.7,351.1 152.0,350.4 152.4,349.7 152.8,348.9 153.2,348.2 153.5,347.5 153.9,346.8 154.2,346.2 154.6,345.5 155.0,344.9 155.3,344.2 155.6,343.6 156.0,343.0 156.3,342.5 156.6,341.9 156.9,341.4 157.2,340.8 157.6,340.3 157.9,339.8 158.2,339.2 158.5,338.7 158.9,338.2 159.3,337.6 159.6,337.0 160.0,336.5 160.4,335.9 160.8,335.3 161.2,334.8 161.6,334.3 161.9,333.7 162.3,333.2 162.8,332.6 163.2,332.0 163.7,331.4 164.2,330.8 164.7,330.1 165.3,329.4 165.9,328.6 166.5,327.7 166.5,327.7 167.2,326.8 167.2,326.8 167.9,325.9 167.9,325.9 168.7,324.9 168.7,324.8 169.5,323.8 170.4,322.6 171.3,321.5 172.2,320.2 173.2,319.0 174.1,317.7 175.1,316.4 176.2,315.1 177.2,313.8 178.2,312.4 179.2,311.1 180.2,309.8 181.3,308.5 182.3,307.3 183.2,306.0 184.2,304.8 185.2,303.6 186.2,302.4 187.3,301.2 188.4,299.9 189.4,298.6 190.5,297.4 191.6,296.1 192.7,294.8 192.7,294.8 193.8,293.5 193.8,293.5 194.9,292.3 194.9,292.2 196.0,291.0 196.0,290.9 197.1,289.7 197.1,289.6 198.2,288.4 198.2,288.3 199.2,287.1 199.3,287.0 200.3,285.8 200.3,285.7 201.3,284.5 201.3,284.4 202.3,283.2 202.3,283.2 203.3,281.9 203.3,281.9 204.2,280.7 204.3,280.6 205.1,279.4 205.2,279.4 206.1,278.2 206.1,278.2 206.9,277.0 207.0,277.0 207.8,275.8 208.7,274.6 209.5,273.5 210.3,272.4 211.1,271.3 211.9,270.2 212.7,269.2 213.5,268.2 214.3,267.2 215.1,266.2 215.9,265.2 216.6,264.3 217.3,263.5 218.0,262.6 218.7,261.8 219.4,261.0 220.2,260.1 220.9,259.3 221.7,258.4 222.5,257.5 223.3,256.6 224.2,255.5 225.2,254.5 226.2,253.3 227.3,252.1 227.3,252.1 228.5,250.8 228.6,250.8 229.8,249.4 229.8,249.4 231.1,247.9 231.1,247.9 232.4,246.4 233.7,244.9 235.1,243.4 236.4,241.9 237.8,240.3 239.3,238.7 240.7,237.1 242.2,235.6 242.3,235.3 243.5,232.3 244.7,229.2 245.8,226.3 246.8,223.4 247.8,220.8 248.7,218.5 249.4,216.5 250.0,215.0 247.2,215.0 245.5,216.4Z" fill="url(#gBand)" opacity="1.0"/>
<path d="M204.4,290.0 203.6,290.8 202.7,291.7 201.7,292.7 200.6,293.8 199.4,295.0 198.1,296.3 196.8,297.7 195.4,299.0 194.0,300.5 192.6,301.9 191.2,303.3 189.7,304.8 188.1,306.3 186.5,307.9 184.7,309.6 182.9,311.3 181.1,313.1 179.3,314.8 177.5,316.6 175.8,318.3 174.1,320.1 172.5,321.8 171.0,323.4 169.6,325.0 168.2,326.5 166.9,328.0 165.6,329.5 164.3,331.0 163.1,332.5 162.0,334.0 160.9,335.5 159.8,337.1 158.8,338.6 157.9,340.3 157.0,342.0 156.2,343.7 155.5,345.5 154.8,347.2 154.2,349.0 153.7,350.8 153.2,352.6 152.7,354.5 152.3,356.5 151.9,358.6 151.6,360.7 151.2,362.9 150.9,365.3 150.6,367.8 150.3,370.6 150.1,373.5 149.9,376.5 149.8,379.6 149.7,382.8 149.6,385.9 149.5,389.0 149.4,392.0 149.4,394.9 149.3,397.6 149.3,400.0 149.3,402.2 149.2,404.3 149.2,406.3 149.1,408.1 149.1,409.8 149.1,411.5 149.2,413.1 149.2,414.7 149.3,416.2 149.5,417.8 149.7,419.4 150.0,421.0 150.3,422.6 150.7,424.1 151.1,425.6 151.6,427.0 152.1,428.5 152.6,429.9 153.2,431.3 153.8,432.9 154.5,434.5 155.2,436.2 156.0,438.0 156.9,440.0 157.8,442.2 158.8,444.6 159.8,447.1 160.9,449.8 162.0,452.5 163.2,455.3 164.5,458.1 165.8,460.8 167.1,463.6 168.4,466.2 169.9,468.7 171.3,471.0 172.8,473.2 174.4,475.4 176.0,477.5 177.7,479.6 179.5,481.6 181.3,483.5 183.1,485.4 184.9,487.2 186.7,489.0 188.5,490.6 190.3,492.2 192.0,493.7 193.8,495.1 195.6,496.4 197.4,497.7 199.2,498.8 201.1,499.9 202.9,500.9 204.7,501.8 206.5,502.8 208.2,503.6 209.8,504.4 211.3,505.2 212.7,506.0 214.0,506.7 215.3,507.4 216.5,508.1 217.6,508.7 218.6,509.3 219.6,509.8 220.6,510.2 221.4,510.7 222.2,511.1 222.9,511.4 223.5,511.7 224.0,512.0 225.9,512.0 225.8,511.8 224.3,509.9 223.0,508.2 221.8,506.7 220.7,505.2 219.6,503.9 218.5,502.7 217.6,501.6 216.7,500.5 215.8,499.5 214.9,498.5 214.2,497.4 213.4,496.3 212.7,495.2 212.0,494.0 211.4,492.7 210.8,491.5 210.4,490.3 210.0,489.0 209.6,487.8 209.3,486.5 208.9,485.2 208.6,483.8 208.3,482.5 207.9,481.0 207.5,479.5 207.0,478.0 206.5,476.4 205.9,474.6 205.3,472.8 204.7,470.9 204.0,469.0 203.4,467.0 202.7,465.0 202.1,463.1 201.5,461.2 200.9,459.4 200.4,457.6 199.9,456.0 199.5,454.5 199.1,453.0 198.7,451.7 198.4,450.4 198.1,449.1 197.8,447.9 197.5,446.6 197.2,445.4 196.9,444.1 196.7,442.8 196.4,441.5 196.1,440.0 195.8,438.5 195.5,436.9 195.2,435.3 194.9,433.6 194.6,432.0 194.4,430.2 194.1,428.5 193.8,426.8 193.5,425.1 193.2,423.4 193.0,421.7 192.7,420.0 192.4,418.4 192.1,416.7 191.8,415.2 191.5,413.6 191.2,412.0 190.9,410.4 190.7,408.8 190.4,407.2 190.2,405.5 189.9,403.7 189.7,401.9 189.6,400.0 189.5,398.0 189.4,395.9 189.3,393.7 189.3,391.4 189.3,389.1 189.3,386.7 189.3,384.3 189.4,382.0 189.4,379.6 189.5,377.4 189.5,375.1 189.6,373.0 189.7,370.9 189.7,368.9 189.8,366.9 189.9,365.0 190.0,363.1 190.1,361.2 190.2,359.3 190.4,357.4 190.6,355.5 190.7,353.6 191.0,351.7 191.2,349.8 191.5,347.9 191.8,345.9 192.1,344.0 192.5,342.0 192.8,340.1 193.2,338.2 193.6,336.2 194.0,334.3 194.5,332.3 194.9,330.4 195.4,328.4 195.8,326.5 196.3,324.5 196.7,322.6 197.2,320.6 197.7,318.6 198.2,316.6 198.7,314.6 199.2,312.6 199.8,310.7 200.3,308.8 200.9,306.9 201.4,305.1 202.0,303.3 202.6,301.6 203.2,299.9 203.7,298.3 204.3,296.8 204.9,295.2 205.5,293.7 206.2,292.2 206.8,290.7 207.5,289.3 205.0,289.3Z" fill="url(#gAqR)" filter="url(#fb1)"/>
<path d="M288.4,354.4 288.4,338.0 288.4,323.1 288.5,310.2 288.5,300.0 288.6,292.2 288.6,286.3 288.7,281.8 288.8,278.7 288.9,276.6 289.0,275.3 289.2,274.6 289.3,274.1 289.5,273.6 289.6,273.0 289.8,271.8 290.0,270.0 290.2,267.7 290.4,265.5 290.5,263.4 290.7,261.3 290.9,259.2 291.1,257.2 291.3,255.2 291.6,253.1 291.9,251.1 292.2,249.1 292.6,247.1 293.0,245.0 293.5,242.9 294.0,240.7 294.6,238.5 295.1,236.3 295.8,234.1 296.4,231.9 297.1,229.7 297.9,227.6 298.6,225.5 299.4,223.6 300.2,221.7 301.0,220.0 301.8,218.4 302.7,216.9 303.6,215.5 304.5,214.2 305.5,212.9 306.4,211.8 307.4,210.6 308.5,209.5 309.6,208.4 310.7,207.3 311.8,206.1 313.0,205.0 314.2,203.9 315.6,203.1 316.9,202.3 318.4,201.6 319.8,200.9 320.0,200.8 320.0,200.0 285.7,200.0 284.6,200.7 283.0,201.8 282.0,202.5 281.8,202.7 281.7,202.8 281.4,203.0 279.7,204.2 277.9,205.4 277.2,205.9 277.1,206.0 276.9,206.2 276.1,206.8 274.2,208.2 272.3,209.6 270.3,211.1 269.4,211.8 269.3,211.8 269.2,211.9 268.4,212.6 266.4,214.1 264.4,215.7 262.5,217.2 261.9,217.7 261.7,217.8 261.4,218.1 260.5,218.8 258.6,220.4 256.7,222.0 254.9,223.5 254.5,223.8 254.3,224.0 254.0,224.4 253.1,225.1 251.4,226.6 249.8,228.1 248.2,229.5 247.4,230.3 247.4,230.3 247.4,230.3 246.7,231.0 245.2,232.5 243.7,234.0 242.2,235.6 242.2,235.6 241.0,238.3 239.8,241.1 238.6,243.7 237.4,246.0 236.2,248.1 235.0,250.0 233.7,251.8 232.4,253.5 231.0,255.2 229.7,256.8 228.3,258.3 227.0,259.8 225.7,261.3 224.4,262.9 223.2,264.4 222.0,266.0 220.9,267.6 219.7,269.2 218.6,270.8 217.5,272.3 216.5,273.9 215.4,275.4 214.4,277.0 213.4,278.5 212.5,280.1 211.5,281.6 210.7,283.1 209.8,284.7 209.0,286.2 208.2,287.8 207.5,289.2 206.8,290.7 206.2,292.2 205.5,293.7 204.9,295.2 204.3,296.8 203.7,298.3 203.2,299.9 202.6,301.6 202.0,303.3 201.4,305.1 200.9,306.9 200.3,308.8 200.0,309.8 200.0,365.0 288.4,365.0Z" fill="url(#gCilU)"/>
<path d="M319.3,578.5 318.2,577.0 317.1,575.6 316.1,574.1 315.2,572.7 314.2,571.3 313.3,570.0 312.4,568.7 311.6,567.5 310.9,566.3 310.1,565.2 309.5,564.0 308.8,562.9 308.2,561.8 307.6,560.7 306.9,559.6 306.3,558.4 305.7,557.2 305.0,556.0 304.3,554.8 303.6,553.6 302.9,552.5 302.2,551.3 301.5,550.2 300.8,549.0 300.1,547.8 299.4,546.4 298.8,545.0 298.2,543.5 297.6,541.8 297.0,540.0 296.5,538.0 296.0,535.8 295.5,533.5 295.0,531.0 294.6,528.5 294.2,525.9 293.8,523.2 293.4,520.5 293.0,517.8 292.7,515.2 292.3,512.5 292.0,510.0 291.7,508.0 291.4,506.7 291.1,506.0 290.8,505.6 290.5,505.1 290.2,504.4 290.0,503.1 289.7,501.1 289.5,498.0 289.3,493.7 289.2,487.8 289.0,480.0 288.9,469.8 288.7,456.9 288.7,442.0 288.6,425.6 288.6,425.0 200.0,425.0 200.0,456.3 200.4,457.6 200.9,459.4 201.5,461.2 202.1,463.1 202.7,465.0 203.4,467.0 204.0,469.0 204.7,470.9 205.3,472.8 205.9,474.6 206.5,476.4 207.0,478.0 207.5,479.5 207.9,481.0 208.3,482.5 208.6,483.8 208.9,485.2 209.3,486.5 209.6,487.8 210.0,489.0 210.4,490.3 210.8,491.5 211.4,492.7 212.0,494.0 212.7,495.2 213.4,496.3 214.2,497.4 214.9,498.5 215.8,499.5 216.7,500.5 217.6,501.6 218.5,502.7 219.6,503.9 220.7,505.2 221.8,506.7 223.0,508.2 224.3,509.9 225.8,511.8 227.3,513.9 228.9,516.0 230.6,518.3 232.3,520.5 234.0,522.8 234.8,523.8 235.8,524.9 237.4,526.8 238.9,528.8 240.3,530.9 241.5,532.8 241.6,533.0 242.8,534.6 243.9,536.2 245.0,537.8 246.1,539.3 247.0,540.7 248.0,542.0 248.8,543.3 249.6,544.5 250.3,545.5 251.0,546.5 251.5,547.3 252.0,548.0 250.2,548.0 250.2,548.0 251.0,549.1 251.2,549.5 251.2,549.5 251.3,549.5 251.9,550.3 252.2,550.8 252.3,550.9 252.4,551.1 252.8,551.6 253.2,552.2 253.4,552.4 253.5,552.5 253.8,552.9 254.8,554.3 255.9,555.6 257.0,557.0 258.1,558.3 259.2,559.7 260.3,561.0 261.5,562.4 262.6,563.7 263.8,565.1 264.9,566.4 265.5,567.0 265.5,567.0 265.6,567.1 266.1,567.6 266.6,568.2 266.8,568.4 267.0,568.6 267.2,568.9 268.4,570.1 269.5,571.3 270.7,572.5 271.9,573.7 273.0,574.9 274.2,576.1 274.7,576.5 274.7,576.6 274.9,576.7 275.4,577.2 275.9,577.7 276.1,577.9 276.2,578.1 276.6,578.4 277.8,579.5 278.3,580.0 320.0,580.0 320.0,579.5Z" fill="url(#gCilL)"/>
<path d="M237.4,246 C230,258 224,272 222,290 C220,310 221,340 223.7,360 L238,360 C237,330 238,290 246,252Z" fill="url(#gCoral)" filter="url(#fb1)"/>
<path d="M247,270 C247,252 252,243.6 258,243.6 C264,243.6 267,252 267.5,266 C268.5,290 271,320 270,348 L240,348 C243,320 246,295 247,270Z" fill="url(#gOpenU)"/>
<path d="M278,258 C278,244 280.5,236.7 283,236.7 C285.5,236.7 288,244 288,258 C288,272 287.5,285 286.5,298 L279.5,298 C278.5,285 278,272 278,258Z" fill="url(#gOpenU)"/>
<path d="M252,490 L274,490 C274,512 275,530 272,538 C269,544 262,544 259,538 C255,528 253,510 252,490Z" fill="url(#gOpenL)"/>
<path d="M285,496 L297,496 C298,520 299,540 295,549 C293,552 289,551 288,546 C286,532 285,516 285,496Z" fill="url(#gOpenL)"/>
<path d="M268.5,258 Q268,287.0 265,304" fill="none" stroke="url(#gLigU)" stroke-width="1.7"/>
<path d="M274.3,258 Q274,286.5 272.5,303" fill="none" stroke="url(#gLigU)" stroke-width="1.7"/>
<path d="M284.8,258 Q284,286.5 280,303" fill="none" stroke="url(#gLigU)" stroke-width="1.7"/>
<path d="M289.4,258 Q289,287.0 285,304" fill="none" stroke="url(#gLigU)" stroke-width="1.7"/>
<path d="M269.2,489 Q270,503.5 275,530" fill="none" stroke="url(#gLigL)" stroke-width="1.8"/>
<path d="M273.8,490 Q274.5,503.0 281,528" fill="none" stroke="url(#gLigL)" stroke-width="1.8"/>
<path d="M282,490 Q282.5,503.0 284.5,528" fill="none" stroke="url(#gLigL)" stroke-width="1.8"/>
<path d="M287.8,489 Q289,504.0 295,531" fill="none" stroke="url(#gLigL)" stroke-width="1.8"/>
<path d="M222,428 L240,428 C242,460 247,500 256,540 L241.6,533 C233,515 227,480 224,440Z" fill="url(#gStrip)"/>
<g clip-path="url(#cIris)">
<path d="M236.6,247.0 235.7,248.2 234.6,249.6 233.3,251.2 231.9,253.0 230.5,254.8 229.0,256.7 227.5,258.7 226.0,260.6 224.6,262.5 223.2,264.3 222.0,266.0 220.9,267.6 219.7,269.2 218.6,270.8 217.5,272.3 216.5,273.9 215.4,275.4 214.4,277.0 213.4,278.5 212.5,280.1 211.5,281.6 210.7,283.1 209.8,284.7 209.0,286.2 208.2,287.8 207.5,289.2 206.8,290.7 206.2,292.2 205.5,293.7 204.9,295.2 204.3,296.8 203.7,298.3 203.2,299.9 202.6,301.6 202.0,303.3 201.4,305.1 200.9,306.9 200.3,308.8 199.8,310.7 199.2,312.6 198.7,314.6 198.2,316.6 197.7,318.6 197.2,320.6 196.7,322.6 196.3,324.5 195.8,326.5 195.4,328.4 194.9,330.4 194.5,332.3 194.0,334.3 193.6,336.2 193.2,338.2 192.8,340.1 192.5,342.0 192.1,344.0 191.8,345.9 191.5,347.9 191.2,349.8 191.0,351.7 190.7,353.6 190.6,355.5 190.4,357.4 190.2,359.3 190.1,361.2 190.0,363.1 189.9,365.0 189.8,366.9 189.7,368.9 189.7,370.9 189.6,373.0 189.5,375.1 189.5,377.4 189.4,379.6 189.4,382.0 189.3,384.3 189.3,386.7 189.3,389.1 189.3,391.4 189.3,393.7 189.4,395.9 189.5,398.0 189.6,400.0 189.7,401.9 189.9,403.7 190.2,405.5 190.4,407.2 190.7,408.8 190.9,410.4 191.2,412.0 191.5,413.6 191.8,415.2 192.1,416.7 192.4,418.4 192.7,420.0 193.0,421.7 193.2,423.4 193.5,425.1 193.8,426.8 194.1,428.5 194.4,430.2 194.6,432.0 194.9,433.6 195.2,435.3 195.5,436.9 195.8,438.5 196.1,440.0 196.4,441.5 196.7,442.8 196.9,444.1 197.2,445.4 197.5,446.6 197.8,447.9 198.1,449.1 198.4,450.4 198.7,451.7 199.1,453.0 199.5,454.5 199.9,456.0 200.4,457.6 200.9,459.4 201.5,461.2 202.1,463.1 202.7,465.0 203.4,467.0 204.0,469.0 204.7,470.9 205.3,472.8 205.9,474.6 206.5,476.4 207.0,478.0 207.5,479.5 207.9,481.0 208.3,482.5 208.6,483.8 208.9,485.2 209.3,486.5 209.6,487.8 210.0,489.0 210.4,490.3 210.8,491.5 211.4,492.7 212.0,494.0 212.7,495.2 213.4,496.3 214.2,497.4 214.9,498.5 215.8,499.5 216.7,500.5 217.6,501.6 218.5,502.7 219.6,503.9 220.7,505.2 221.8,506.7 223.0,508.2 224.3,510.0 225.9,512.0 227.6,514.2 229.3,516.6 231.2,519.0 233.0,521.5 234.8,523.9 236.5,526.2 238.1,528.3 239.5,530.2 240.7,531.8 241.6,533.0 241.5,531.8 241.4,530.3 241.3,528.6 241.2,526.6 241.1,524.5 241.0,522.3 240.8,519.9 240.7,517.5 240.4,515.1 240.2,512.7 239.9,510.4 239.6,508.2 239.2,506.1 238.8,504.0 238.3,502.0 237.8,499.9 237.3,497.9 236.8,495.8 236.2,493.6 235.6,491.4 235.0,489.1 234.5,486.6 233.9,484.1 233.4,481.3 232.9,478.3 232.3,475.0 231.8,471.5 231.2,467.8 230.7,464.0 230.1,460.2 229.6,456.4 229.0,452.7 228.5,449.2 228.1,445.8 227.6,442.7 227.2,440.0 226.8,437.6 226.5,435.6 226.1,433.9 225.8,432.3 225.5,430.9 225.3,429.6 225.0,428.3 224.8,427.0 224.6,425.6 224.4,424.0 224.2,422.1 224.0,420.0 223.8,417.6 223.7,414.9 223.6,412.1 223.5,409.1 223.4,406.0 223.3,402.8 223.3,399.6 223.2,396.5 223.2,393.4 223.1,390.4 223.1,387.6 223.0,385.0 222.9,382.5 222.9,380.2 222.8,377.9 222.8,375.7 222.7,373.5 222.7,371.4 222.7,369.4 222.6,367.4 222.6,365.5 222.6,363.6 222.5,361.8 222.5,360.0 222.5,358.3 222.4,356.7 222.4,355.3 222.3,354.0 222.3,352.7 222.2,351.4 222.2,350.1 222.2,348.7 222.1,347.2 222.1,345.7 222.2,343.9 222.2,342.0 222.3,339.9 222.3,337.6 222.4,335.2 222.5,332.6 222.6,330.0 222.7,327.3 222.9,324.6 223.0,321.8 223.2,319.1 223.3,316.3 223.5,313.6 223.7,311.0 223.9,308.4 224.0,305.9 224.2,303.3 224.3,300.8 224.5,298.2 224.7,295.7 224.9,293.1 225.2,290.6 225.5,288.0 225.8,285.3 226.3,282.7 226.8,280.0 227.5,277.2 228.3,274.1 229.2,270.9 230.2,267.6 231.2,264.3 232.3,261.1 233.4,257.9 234.4,254.9 235.3,252.2 236.2,249.7 236.9,247.7 237.4,246.0Z" fill="#4a7896"/>
<path d="M230.5,264.4 230.4,264.6 229.0,266.4 227.8,268.0 226.7,269.6 225.6,271.2 224.5,272.8 223.4,274.3 222.4,275.9 221.3,277.4 220.3,278.9 219.4,280.4 218.5,281.9 217.6,283.4 216.7,284.9 215.9,286.4 215.1,287.8 214.4,289.3 213.7,290.7 213.0,292.2 212.4,293.6 211.8,295.1 211.2,296.5 210.6,298.0 210.0,299.5 209.5,301.1 208.9,302.7 208.3,304.4 207.8,306.1 207.2,307.9 206.7,309.8 206.1,311.6 205.6,313.5 205.1,315.5 204.6,317.5 204.1,319.4 203.6,321.4 203.1,323.4 202.7,325.3 202.2,327.3 201.8,329.2 201.3,331.2 200.9,333.1 200.5,335.0 200.0,336.9 199.6,338.9 199.3,340.8 198.9,342.7 198.5,344.6 198.2,346.5 197.9,348.4 197.7,350.3 197.4,352.1 197.2,354.0 197.0,355.8 196.9,357.7 196.7,359.5 196.6,361.4 196.5,363.3 196.4,365.2 196.3,367.1 196.2,369.0 196.2,371.1 196.1,373.1 196.0,375.2 196.0,377.5 195.9,379.7 195.9,382.0 195.8,384.4 195.8,386.7 195.8,389.1 195.8,391.3 195.8,393.6 195.9,395.7 196.0,397.8 196.1,399.8 196.2,401.6 196.4,403.3 196.6,405.0 196.9,406.7 197.1,408.3 197.4,409.8 197.7,411.4 198.0,412.9 198.3,414.5 198.3,414.5 198.6,416.1 198.6,416.1 198.9,417.7 198.9,417.8 199.2,419.4 199.2,419.4 199.4,421.1 199.4,421.1 199.7,422.8 200.0,424.5 200.3,426.3 200.5,428.0 200.8,429.7 201.1,431.4 201.4,433.0 201.7,434.7 201.9,436.3 202.2,437.8 202.5,439.3 202.8,440.8 203.1,442.1 203.4,443.4 203.6,444.7 203.9,445.9 204.2,447.1 204.5,448.3 204.8,449.5 205.1,450.8 205.4,452.1 205.8,453.5 206.3,455.0 206.7,456.6 207.3,458.4 207.8,460.2 208.4,462.0 209.1,464.0 209.7,465.9 210.3,467.9 211.0,469.8 211.6,471.7 211.6,471.7 212.2,473.5 212.2,473.5 212.8,475.3 212.8,475.3 213.3,476.9 213.3,477.0 213.8,478.5 213.8,478.6 214.3,480.1 214.3,480.2 214.6,481.6 214.7,481.6 215.0,483.0 215.0,483.0 215.3,484.3 215.6,485.6 216.0,486.8 216.3,488.0 216.7,489.1 217.1,490.2 217.6,491.3 218.1,492.4 218.7,493.4 219.3,494.4 220.0,495.4 220.7,496.3 221.5,497.3 222.3,498.3 223.2,499.3 224.2,500.5 224.2,500.5 225.2,501.7 225.3,501.7 226.3,503.0 226.4,503.0 227.5,504.5 227.6,504.5 228.8,506.1 228.8,506.1 230.1,507.9 230.1,507.9 231.7,509.9 231.7,509.9 233.3,512.1 235.1,514.5 237.0,516.9 238.8,519.4 240.4,521.6 240.3,520.2 240.2,517.8 240.0,515.5 239.7,513.1 239.5,510.9 239.1,508.8 238.8,506.7 238.4,504.7 237.9,502.8 237.5,500.8 236.9,498.8 236.4,496.7 235.8,494.5 235.8,494.5 235.2,492.3 235.2,492.2 234.7,489.9 234.6,489.9 234.1,487.4 234.1,487.4 233.5,484.8 233.5,484.7 233.0,482.0 233.0,481.9 232.4,478.9 232.4,478.9 231.9,475.6 231.9,475.5 231.3,472.0 231.3,472.0 230.8,468.3 230.8,468.3 230.2,464.5 230.2,464.5 229.6,460.7 229.6,460.7 229.1,456.9 228.6,453.2 228.1,449.7 227.6,446.3 227.1,443.3 226.7,440.5 226.4,438.2 226.0,436.2 225.7,434.5 225.4,433.0 225.1,431.6 225.1,431.6 224.8,430.3 224.8,430.3 224.6,429.0 224.6,428.9 224.3,427.6 224.3,427.5 224.1,426.1 224.1,426.0 223.9,424.4 223.9,424.3 223.7,422.5 223.7,422.4 223.5,420.3 223.5,420.2 223.3,417.8 223.3,417.8 223.2,415.1 223.2,415.1 223.1,412.2 223.1,412.2 223.0,409.2 223.0,409.2 222.9,406.1 222.9,406.1 222.8,402.9 222.8,402.9 222.8,399.7 222.8,399.7 222.7,396.5 222.7,393.5 222.6,390.5 222.6,387.7 222.5,385.1 222.4,382.6 222.4,382.6 222.4,380.3 222.4,380.3 222.3,378.0 222.3,378.0 222.3,375.7 222.2,373.6 222.2,371.5 222.2,369.5 222.1,367.5 222.1,365.6 222.1,363.7 222.0,361.9 222.0,360.1 222.0,358.4 221.9,356.9 221.9,355.4 221.8,354.1 221.8,352.8 221.8,352.8 221.7,351.5 221.7,351.5 221.7,350.2 221.7,350.1 221.7,348.8 221.7,348.7 221.6,347.3 221.6,347.3 221.6,345.7 221.6,345.6 221.7,343.9 221.7,343.9 221.7,341.9 221.7,341.9 221.8,339.8 221.8,339.8 221.8,337.5 221.8,337.5 221.9,335.0 221.9,335.0 222.0,332.5 222.0,332.5 222.1,329.9 222.1,329.8 222.2,327.2 222.2,327.1 222.4,324.4 222.4,324.4 222.5,321.6 222.5,321.6 222.7,318.9 222.7,318.8 222.8,316.1 222.8,316.1 223.0,313.4 223.0,313.4 223.2,310.8 223.4,308.2 223.5,305.7 223.7,303.1 223.8,300.6 223.8,300.6 224.0,298.0 224.0,298.0 224.2,295.4 224.2,295.4 224.4,292.8 224.4,292.8 224.7,290.2 224.7,290.1 225.0,287.5 225.0,287.5 225.4,284.9 225.4,284.8 225.8,282.1 225.8,282.0 226.4,279.3 226.4,279.2 227.0,276.4 227.1,276.3 227.9,273.2 227.9,273.2 228.8,270.0 228.8,269.9 229.8,266.6 229.8,266.6Z" fill="#6892ae" filter="url(#fb3)"/>
<path d="M223.5,287.3 222.8,288.5 222.1,289.9 221.4,291.3 220.7,292.7 220.1,294.0 219.5,295.4 218.9,296.8 218.4,298.2 217.8,299.6 217.2,301.1 216.7,302.6 216.1,304.2 215.6,305.8 215.0,307.5 214.5,309.2 214.0,311.0 213.5,312.8 212.9,314.7 212.4,316.6 211.9,318.6 211.5,320.5 211.0,322.5 210.5,324.4 210.0,326.4 209.6,328.3 209.1,330.2 208.7,332.2 208.3,334.1 207.9,336.0 207.4,337.9 207.1,339.8 206.7,341.6 206.3,343.5 206.0,345.4 205.7,347.2 205.4,349.0 205.1,350.9 204.9,352.7 204.7,354.5 204.5,356.3 204.4,358.1 204.2,359.9 204.1,361.7 204.0,363.5 203.9,365.4 203.8,367.3 203.7,369.2 203.7,371.2 203.6,373.3 203.5,375.4 203.5,377.6 203.4,379.8 203.4,382.1 203.3,384.4 203.3,386.8 203.3,389.0 203.3,391.3 203.3,393.5 203.4,395.6 203.5,397.6 203.6,399.5 203.7,401.2 203.9,402.8 204.1,404.4 204.3,406.0 204.5,407.5 204.8,409.0 205.1,410.5 205.4,412.1 205.7,413.7 205.7,413.7 206.0,415.3 206.0,415.3 206.3,416.9 206.3,417.0 206.6,418.7 206.6,418.7 206.9,420.4 206.9,420.4 207.1,422.1 207.4,423.8 207.7,425.5 208.0,427.2 208.2,428.9 208.5,430.6 208.8,432.3 209.1,433.9 209.4,435.5 209.7,437.0 209.9,438.4 210.2,439.9 210.5,441.2 210.8,442.5 211.0,443.7 211.3,444.9 211.6,446.1 211.8,447.2 212.1,448.4 212.4,449.6 212.8,450.9 213.2,452.3 213.6,453.8 214.0,455.3 214.6,457.0 215.1,458.8 215.7,460.6 216.3,462.6 217.0,464.5 217.6,466.4 218.3,468.4 218.9,470.3 218.9,470.3 219.5,472.1 219.5,472.1 220.1,473.9 220.1,473.9 220.6,475.5 220.7,475.7 221.1,477.2 221.2,477.4 221.6,478.9 221.6,479.0 222.0,480.5 222.0,480.5 222.4,481.9 222.4,481.9 222.7,483.3 223.0,484.5 223.3,485.6 223.6,486.6 223.9,487.6 224.3,488.5 224.6,489.4 225.1,490.3 225.6,491.1 226.1,491.9 226.6,492.7 227.2,493.6 228.0,494.4 228.7,495.4 229.6,496.4 230.6,497.5 230.6,497.5 231.7,498.7 231.7,498.8 232.8,500.1 232.9,500.2 234.0,501.6 234.1,501.7 235.3,503.3 235.4,503.4 236.7,505.1 236.7,505.2 236.9,505.4 236.6,503.8 236.1,501.9 235.6,499.9 235.0,497.8 234.5,495.7 234.4,495.6 233.9,493.4 233.9,493.3 233.3,491.0 233.3,490.9 232.7,488.4 232.7,488.3 232.1,485.7 232.1,485.6 231.5,482.8 231.5,482.7 231.0,479.7 231.0,479.6 230.4,476.3 230.4,476.2 229.9,472.7 229.9,472.7 229.3,469.0 229.3,469.0 228.8,465.2 228.7,465.2 228.2,461.4 228.2,461.4 227.7,457.6 227.1,453.8 226.6,450.3 226.1,447.0 225.7,443.9 225.3,441.2 224.9,439.0 224.6,437.0 224.3,435.4 224.0,433.9 223.7,432.5 223.7,432.5 223.4,431.2 223.4,431.1 223.2,429.8 223.1,429.7 222.9,428.4 222.9,428.2 222.7,426.8 222.6,426.6 222.4,425.0 222.4,424.8 222.2,423.0 222.2,422.8 222.0,420.7 222.0,420.5 221.9,418.1 221.8,418.0 221.7,415.3 221.7,415.2 221.6,412.4 221.6,412.3 221.5,409.3 221.5,409.3 221.4,406.2 221.4,406.2 221.3,403.0 221.3,403.0 221.3,399.8 221.3,399.8 221.2,396.6 221.2,393.5 221.1,390.6 221.1,387.8 221.0,385.2 220.9,382.7 220.9,382.7 220.9,380.4 220.9,380.3 220.8,378.1 220.8,378.0 220.8,375.8 220.7,373.7 220.7,371.6 220.7,369.6 220.6,367.6 220.6,365.7 220.6,363.8 220.5,362.0 220.5,360.2 220.5,358.5 220.4,357.0 220.4,355.6 220.3,354.3 220.3,353.0 220.3,352.9 220.2,351.7 220.2,351.6 220.2,350.3 220.2,350.2 220.2,348.9 220.2,348.8 220.1,347.3 220.1,347.3 220.1,345.7 220.1,345.6 220.2,343.9 220.2,343.8 220.2,341.8 220.2,341.8 220.3,339.7 220.3,339.6 220.3,337.3 220.3,337.3 220.4,334.9 220.4,334.9 220.5,332.3 220.5,332.3 220.6,329.7 220.6,329.6 220.7,327.0 220.7,326.9 220.9,324.2 220.9,324.2 221.0,321.4 221.0,321.4 221.2,318.6 221.2,318.6 221.4,315.8 221.4,315.8 221.5,313.1 221.5,313.1 221.7,310.4 221.9,307.9 222.1,305.4 222.2,302.9 222.4,300.3 222.4,300.3 222.5,297.7 222.5,297.7 222.7,295.1 222.7,295.0 222.9,292.5 222.9,292.3 223.2,289.8 223.2,289.6Z" fill="#96b8c8" filter="url(#fb3)"/>
</g>
<path d="M234.5,359 C228,359 223,362 220.5,368 C216.5,378 216,398 218,412 C220,424 226,431.6 234.5,431.6Z" fill="url(#gPup)"/>
<path d="M231,361 C226,363 223,368 222,376 L226,378 C227,370 229,365 233,362Z" fill="#d8eef4" opacity="0.8"/>
<path d="M278.3,302.2 C284.6,303.5 293.9,307.4 298.7,314.4 C303.4,321.4 305.0,332.5 306.8,344.3 C308.6,356.1 309.3,369.2 309.5,385.0 C309.7,400.8 309.4,424.4 308.2,439.2 C307.0,454.0 305.4,466.0 302.5,474.0 C299.6,482.0 295.2,484.2 291.0,487.0 C286.8,489.8 281.7,491.1 277.0,491.0 C272.3,490.9 267.8,490.0 263.0,486.5 C258.2,483.0 252.3,477.1 248.0,470.0 C243.7,462.9 239.5,453.7 237.0,444.0 C234.5,434.3 233.7,424.1 233.0,412.0 C232.3,399.9 232.2,382.7 233.0,371.4 C233.8,360.1 235.2,352.9 237.5,344.3 C239.8,335.7 243.2,326.1 247.1,319.8 C251.0,313.5 255.5,309.2 260.7,306.3 C265.9,303.4 272.0,300.9 278.3,302.2Z" fill="url(#gLens)" stroke="url(#gLensS)" stroke-width="1.8"/>
<path d="M629.0,455.6 630.0,455.9 631.2,456.3 632.7,456.8 634.3,457.3 636.0,457.9 637.9,458.5 639.9,459.2 641.9,459.9 643.9,460.6 646.0,461.4 648.0,462.2 650.0,463.0 652.0,463.9 654.0,464.8 656.1,465.8 658.2,466.8 660.4,467.8 662.6,468.9 664.8,470.0 667.0,471.1 669.2,472.3 671.3,473.4 673.5,474.5 675.6,475.6 677.7,476.7 679.7,477.7 681.6,478.8 683.6,479.8 685.5,480.9 687.5,482.0 689.4,483.1 691.4,484.2 693.5,485.3 695.6,486.5 697.7,487.7 700.0,489.0 702.4,490.3 704.8,491.7 707.3,493.2 709.9,494.7 712.6,496.2 715.2,497.8 717.9,499.3 720.6,500.9 723.2,502.4 725.9,503.9 728.5,505.3 731.0,506.7 733.4,508.0 735.8,509.2 738.1,510.5 740.3,511.6 742.5,512.8 744.8,513.9 747.0,515.0 749.4,516.2 751.8,517.3 754.4,518.5 757.1,519.7 760.0,521.0 763.2,522.4 766.9,523.9 770.8,525.5 774.9,527.1 779.1,528.8 783.3,530.4 787.4,532.0 791.3,533.5 794.9,534.9 798.2,536.1 800.9,537.2 803.0,538.0 802.0,544.8 799.6,544.0 796.5,543.1 792.8,542.0 788.7,540.8 784.2,539.4 779.6,538.0 774.8,536.5 770.0,535.0 765.3,533.4 760.8,531.9 756.7,530.4 753.0,529.0 749.7,527.6 746.5,526.2 743.6,524.7 740.7,523.2 738.0,521.7 735.3,520.2 732.7,518.7 730.2,517.2 727.7,515.8 725.1,514.3 722.6,512.9 720.0,511.5 717.4,510.1 714.8,508.7 712.2,507.3 709.6,506.0 707.1,504.6 704.6,503.2 702.1,501.9 699.6,500.6 697.1,499.4 694.7,498.2 692.4,497.1 690.0,496.0 687.7,495.0 685.4,494.1 683.1,493.2 680.8,492.4 678.5,491.7 676.3,490.9 674.1,490.2 672.0,489.5 669.9,488.8 667.9,488.1 665.9,487.4 664.0,486.7 662.2,486.0 660.4,485.2 658.7,484.5 657.1,483.7 655.6,483.0 654.0,482.3 652.5,481.5 651.0,480.8 649.5,480.1 648.0,479.4 646.5,478.7 645.0,478.0 643.4,477.3 641.7,476.5 639.9,475.8 638.2,475.0 636.4,474.2 634.7,473.5 633.0,472.7 631.4,472.0 630.0,471.4 628.7,470.9 627.6,470.4 626.7,470.0Z" fill="#8f4352"/>
<path d="M653.0,471.5 C657.5,473.2 667.0,475.7 680.0,482.0 C693.0,488.3 717.7,502.4 731.0,509.5 C744.3,516.6 751.0,520.0 760.0,524.5 C769.0,529.0 777.8,533.7 785.0,536.5 C792.2,539.3 800.0,540.7 803.0,541.5" fill="none" stroke="url(#gRed)" stroke-width="4.6"/>
<path d="M645.0,472.5 C650.8,474.6 665.7,479.3 680.0,485.0 C694.3,490.7 717.7,500.5 731.0,506.5 C744.3,512.5 751.0,516.2 760.0,521.0 C769.0,525.8 778.2,531.5 785.0,535.5 C791.8,539.5 798.3,543.4 801.0,545.0" fill="none" stroke="url(#gGrn)" stroke-width="2.8"/>
<ellipse cx="621.4" cy="458.3" rx="10" ry="27" transform="rotate(12 621.4 458.3)" fill="#d88e9c" stroke="#e6a8b4" stroke-width="0.8"/>
<ellipse cx="624.4" cy="392.7" rx="3.8" ry="10" fill="#5a0c16"/>
<path d="M634.0,514.0 C632.7,515.8 629.0,520.7 626.0,525.0 C623.0,529.3 619.0,535.3 616.3,540.0 C613.6,544.7 612.2,548.5 609.7,553.0 C607.2,557.5 604.3,562.3 601.1,567.0 C597.9,571.7 594.9,576.0 590.7,581.0 C586.5,586.0 581.9,591.3 575.8,597.0 C569.7,602.7 561.8,609.5 553.9,615.0 C546.0,620.5 536.8,625.8 528.3,630.0 C519.8,634.2 511.8,637.3 502.9,640.0 C494.0,642.7 483.8,644.9 475.0,646.3 C466.2,647.7 461.4,648.1 450.0,648.2 C438.6,648.3 419.1,648.1 406.7,647.0 C394.3,645.9 386.5,644.1 375.4,641.5 C364.3,638.9 349.2,634.5 340.0,631.3 C330.8,628.0 326.7,625.5 320.0,622.0 C313.3,618.5 306.7,614.2 300.0,610.0 C293.3,605.8 286.7,602.0 280.0,596.7 C273.3,591.4 266.4,584.8 260.0,578.0 C253.6,571.2 246.7,562.9 241.6,555.8 C236.5,548.6 233.3,540.6 229.2,535.1 C225.1,529.6 221.6,527.0 216.8,522.7 C212.0,518.4 205.8,513.8 200.3,509.3 C194.8,504.8 189.6,500.8 183.7,495.8 C177.8,490.8 170.6,485.2 165.1,479.3 C159.6,473.4 155.0,467.2 150.7,460.7 C146.4,454.1 142.0,445.8 139.4,440.0 C136.8,434.2 136.2,430.6 135.0,426.0 C133.8,421.4 133.0,417.1 132.3,412.4 C131.6,407.7 131.1,402.6 130.8,398.0 C130.5,393.4 130.2,389.2 130.3,385.0 C130.4,380.8 130.8,376.8 131.5,373.0 C132.2,369.2 133.3,365.5 134.5,362.0 C135.7,358.5 136.8,355.7 138.5,352.0 C140.2,348.3 142.5,343.7 144.5,340.0 C146.5,336.3 148.1,333.5 150.5,330.0 C152.9,326.5 154.8,324.1 158.8,318.9 C162.8,313.7 168.9,305.5 174.3,298.8 C179.7,292.1 186.1,285.1 191.3,278.6 C196.5,272.1 200.7,265.7 205.3,260.0 C209.9,254.3 212.7,251.1 218.8,244.4 C224.9,237.7 233.0,227.9 242.0,219.6 C251.0,211.3 263.3,201.7 273.0,194.8 C282.7,188.0 288.4,184.3 300.0,178.5 C311.6,172.7 330.3,164.5 342.8,160.0 C355.3,155.5 361.3,153.4 375.0,151.3 C388.7,149.2 408.5,147.1 425.2,147.5 C441.9,147.9 458.7,150.1 475.4,153.8 C492.1,157.6 508.9,163.0 525.5,170.0 C542.1,177.0 560.9,186.7 575.0,196.0 C589.1,205.3 600.7,215.2 610.0,226.0 C619.3,236.8 625.7,251.4 631.0,261.0 C636.3,270.6 638.4,275.2 642.0,283.3 C645.6,291.4 650.1,301.1 652.9,309.6 C655.7,318.1 657.3,325.9 659.0,334.4 C660.7,342.9 662.4,352.9 663.3,360.8 C664.2,368.7 664.0,375.4 664.5,382.0 C665.0,388.6 665.4,394.1 666.4,400.2 C667.4,406.3 668.7,413.6 670.2,418.8 C671.8,424.0 673.0,427.3 675.7,431.2 C678.4,435.1 680.8,437.4 686.5,442.0 C692.2,446.6 701.7,453.5 709.8,458.5 C717.9,463.5 726.6,467.8 735.0,472.0 C743.4,476.2 750.4,479.5 760.0,484.0 C769.6,488.5 782.6,494.4 792.4,498.9 C802.2,503.4 814.2,509.1 818.6,511.2 L786,578.9 C781.0,575.8 767.2,567.0 756.2,560.4 C745.2,553.8 731.5,545.6 720.0,539.5 C708.5,533.4 697.0,527.7 687.0,524.0 C677.0,520.3 668.8,519.2 660.0,517.5 C651.2,515.8 638.3,514.6 634.0,514.0Z" fill="none" stroke="#34349a" stroke-width="1.3"/>
<line x1="251.4" y1="165" x2="274" y2="227" stroke="#2a2a2a" stroke-width="1.15"/>
<line x1="160.8" y1="251.5" x2="215.5" y2="302" stroke="#2a2a2a" stroke-width="1.15"/>
<line x1="96.5" y1="384.8" x2="239.5" y2="384.8" stroke="#2a2a2a" stroke-width="1.15"/>
<line x1="59.4" y1="495.4" x2="140.8" y2="407" stroke="#2a2a2a" stroke-width="1.15"/>
<line x1="147.7" y1="560" x2="262.3" y2="438.5" stroke="#2a2a2a" stroke-width="1.15"/>
<line x1="205" y1="606.7" x2="274.6" y2="510.3" stroke="#2a2a2a" stroke-width="1.15"/>
<line x1="537.5" y1="178.8" x2="602.7" y2="161.3" stroke="#2a2a2a" stroke-width="1.15"/>
<line x1="572.6" y1="213.9" x2="620.2" y2="198.8" stroke="#2a2a2a" stroke-width="1.15"/>
<line x1="629" y1="348" x2="675.4" y2="331.7" stroke="#2a2a2a" stroke-width="1.15"/>
<line x1="627.7" y1="390" x2="700.4" y2="362.6" stroke="#2a2a2a" stroke-width="1.15"/>
<line x1="620.2" y1="455" x2="691.6" y2="421.5" stroke="#2a2a2a" stroke-width="1.15"/>
<line x1="672.6" y1="479.2" x2="731.5" y2="462" stroke="#2a2a2a" stroke-width="1.15"/>
<line x1="664.4" y1="491.4" x2="683" y2="593.3" stroke="#2a2a2a" stroke-width="1.15"/>
<path d="M239.6,359 H247 V430.8 H239.6" fill="none" stroke="#333" stroke-width="1.2"/>
<text x="302" y="55.5" font-size="32" textLength="274" lengthAdjust="spacingAndGlyphs">Retinal Detachment</text>
<text x="206.2" y="148.2" font-size="20" textLength="98.3" lengthAdjust="spacingAndGlyphs">Ciliary body</text>
<text x="128.8" y="252" font-size="20" textLength="23.2" lengthAdjust="spacingAndGlyphs">Iris</text>
<text x="29.9" y="386.7" font-size="20" textLength="40.8" lengthAdjust="spacingAndGlyphs">Pupil</text>
<text x="29.3" y="526" font-size="20" textLength="59" lengthAdjust="spacingAndGlyphs">Cornea</text>
<text x="111" y="587.3" font-size="20" textLength="36.7" lengthAdjust="spacingAndGlyphs">Lens</text>
<text x="166.7" y="640.5" font-size="20" textLength="96" lengthAdjust="spacingAndGlyphs">Suspensory</text>
<text x="166.7" y="662.5" font-size="20" textLength="73.3" lengthAdjust="spacingAndGlyphs">ligament</text>
<text x="617" y="165.5" font-size="20" textLength="48.3" lengthAdjust="spacingAndGlyphs">Sclera</text>
<text x="643.6" y="198.5" font-size="20" textLength="66.2" lengthAdjust="spacingAndGlyphs">Choroid</text>
<text x="686.2" y="335.4" font-size="20" textLength="51.6" lengthAdjust="spacingAndGlyphs">Retina</text>
<text x="710.5" y="367" font-size="20" textLength="121.3" lengthAdjust="spacingAndGlyphs">Fovea centralis</text>
<text x="704" y="413.5" font-size="20" textLength="81.3" lengthAdjust="spacingAndGlyphs">Optic disc</text>
<text x="704" y="437" font-size="20" textLength="93.4" lengthAdjust="spacingAndGlyphs">(blind spot)</text>
<text x="745" y="469" font-size="20" textLength="109" lengthAdjust="spacingAndGlyphs">Blood vessels</text>
<text x="639.5" y="624" font-size="20" textLength="95.4" lengthAdjust="spacingAndGlyphs">Optic nerve</text>
</svg></body></html>
